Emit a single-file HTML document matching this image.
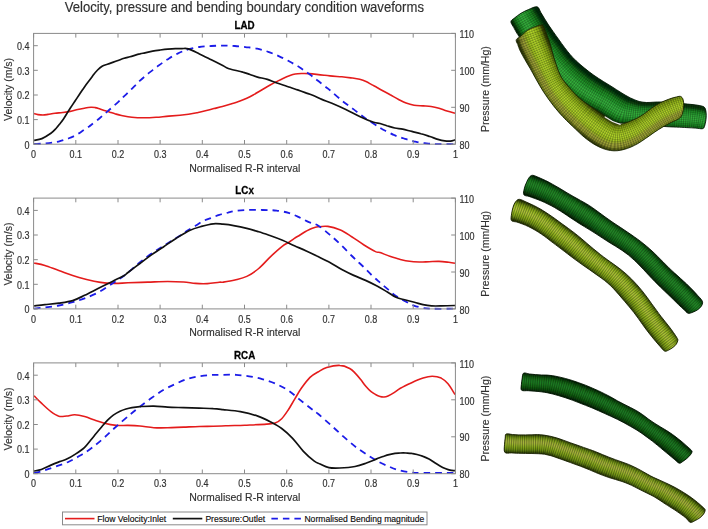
<!DOCTYPE html>
<html><head><meta charset="utf-8"><style>
html,body{margin:0;padding:0;background:#fff;width:708px;height:529px;overflow:hidden}
svg{display:block;filter:blur(0.4px)}
text{font-family:"Liberation Sans",sans-serif;fill:#303030;stroke:#303030;stroke-width:0.15px}
.tk{font-size:9.0px}
.xl{font-size:10.5px}
.st{font-size:9.8px;font-weight:bold;fill:#000;stroke:#000;stroke-width:0.25px}
.ti{font-size:13.1px}
.lg{font-size:8.6px;fill:#000}
</style></head><body>
<svg width="708" height="529" viewBox="0 0 708 529">
<defs><clipPath id="clip0"><rect x="32.6" y="32.4" width="423.8" height="112.8"/></clipPath><clipPath id="clip1"><rect x="32.6" y="197.1" width="423.8" height="112.8"/></clipPath><clipPath id="clip2"><rect x="32.6" y="361.9" width="423.8" height="112.8"/></clipPath></defs>
<text transform="translate(244.30,11.50) scale(1,1.050)" text-anchor="middle" class="ti">Velocity, pressure and bending boundary condition waveforms</text>
<g clip-path="url(#clip0)">
<path d="M34.1,113.6 C34.8,113.8 36.5,114.4 38.0,114.6 C39.5,114.8 41.2,115.0 42.9,115.0 C44.6,115.0 46.0,114.7 48.0,114.4 C50.0,114.1 52.6,113.6 55.0,113.3 C57.4,113.0 60.1,112.8 62.6,112.5 C65.1,112.2 67.7,111.9 70.2,111.4 C72.7,110.9 75.2,110.1 77.7,109.5 C80.2,108.9 83.1,108.4 85.3,108.0 C87.5,107.6 89.4,107.4 91.0,107.3 C92.6,107.2 93.8,107.4 95.1,107.6 C96.3,107.8 97.0,108.0 98.5,108.5 C100.0,109.0 102.3,109.9 104.2,110.5 C106.1,111.1 108.0,111.6 109.9,112.2 C111.8,112.8 113.6,113.4 115.5,113.9 C117.4,114.5 118.8,115.0 121.5,115.5 C124.2,116.0 128.2,116.8 131.9,117.2 C135.6,117.6 139.4,117.8 143.4,117.8 C147.4,117.8 151.9,117.6 156.1,117.3 C160.3,117.0 164.8,116.4 168.8,116.1 C172.8,115.8 176.7,115.5 180.0,115.2 C183.3,114.9 185.7,114.6 188.5,114.2 C191.3,113.8 194.1,113.3 196.9,112.7 C199.7,112.1 202.6,111.5 205.4,110.8 C208.2,110.1 211.1,109.3 213.9,108.6 C216.7,107.9 219.6,107.3 222.4,106.5 C225.2,105.7 227.9,104.9 230.8,104.0 C233.7,103.1 237.3,102.0 240.0,101.0 C242.7,100.0 244.7,99.2 246.8,98.2 C248.9,97.2 250.7,96.3 252.7,95.2 C254.7,94.1 256.7,93.0 258.7,91.8 C260.7,90.6 262.6,89.4 264.6,88.2 C266.6,87.0 268.6,85.9 270.6,84.8 C272.6,83.7 274.6,82.6 276.6,81.6 C278.6,80.6 280.3,79.7 282.5,78.7 C284.7,77.7 287.9,76.3 290.0,75.5 C292.1,74.7 293.4,74.3 295.3,74.0 C297.2,73.7 299.1,73.6 301.4,73.5 C303.7,73.4 306.4,73.4 308.9,73.6 C311.4,73.8 314.0,74.1 316.5,74.4 C319.0,74.7 321.9,75.0 324.1,75.2 C326.4,75.5 327.1,75.6 330.0,75.9 C332.9,76.2 338.1,76.5 341.8,76.8 C345.5,77.1 349.0,77.6 352.0,78.0 C355.0,78.4 357.4,78.7 359.7,79.3 C362.0,79.9 364.0,80.6 366.0,81.5 C368.0,82.4 369.8,83.6 371.6,84.6 C373.4,85.6 375.2,86.5 377.0,87.5 C378.8,88.5 380.1,89.3 382.3,90.5 C384.5,91.7 387.6,93.3 390.2,94.8 C392.8,96.2 395.5,97.8 398.2,99.2 C400.9,100.6 403.5,102.1 406.1,103.1 C408.8,104.1 411.3,104.8 414.1,105.3 C416.9,105.8 420.3,105.7 423.1,105.9 C425.9,106.1 428.5,106.1 431.1,106.5 C433.8,106.9 436.4,107.5 439.0,108.2 C441.6,109.0 444.3,110.2 447.0,111.0 C449.7,111.8 453.7,112.9 455.0,113.3" fill="none" stroke="#e41c1c" stroke-width="1.6" stroke-linejoin="round"/>
<path d="M34.1,144.0 C35.9,143.9 41.9,143.8 45.0,143.5 C48.1,143.2 50.5,142.9 53.0,142.5 C55.5,142.1 57.5,141.8 60.0,141.1 C62.5,140.4 65.7,139.3 67.9,138.6 C70.1,137.8 71.3,137.4 73.0,136.6 C74.7,135.8 76.5,134.7 78.2,133.7 C79.9,132.7 81.3,131.7 83.0,130.6 C84.7,129.5 87.1,127.8 88.4,126.9 C89.8,126.0 89.2,126.5 91.1,125.0 C93.0,123.5 96.8,120.6 99.6,118.2 C102.4,115.8 105.3,113.3 108.2,110.8 C111.1,108.3 114.2,105.6 116.7,103.4 C119.2,101.2 121.2,99.1 122.9,97.4 C124.7,95.7 125.8,94.7 127.2,93.3 C128.6,91.9 129.8,90.6 131.2,89.3 C132.6,88.0 134.0,86.6 135.4,85.3 C136.8,84.0 138.0,82.5 139.4,81.2 C140.8,79.9 142.4,78.5 143.9,77.2 C145.4,75.9 146.9,74.6 148.4,73.4 C149.9,72.2 151.5,71.1 153.0,69.9 C154.5,68.7 155.9,67.6 157.5,66.4 C159.1,65.2 160.8,63.9 162.4,62.8 C164.0,61.6 165.7,60.5 167.3,59.5 C168.9,58.5 170.2,57.6 171.9,56.6 C173.6,55.6 175.8,54.5 177.6,53.6 C179.4,52.7 180.8,52.1 182.5,51.4 C184.2,50.7 184.7,50.3 187.5,49.6 C190.3,48.9 195.4,47.6 199.4,47.0 C203.4,46.4 207.4,46.2 211.3,46.0 C215.2,45.8 219.1,45.6 223.0,45.6 C226.9,45.6 230.9,45.7 234.9,46.0 C238.9,46.3 244.3,47.0 246.8,47.3 C249.3,47.5 248.3,47.3 250.0,47.5 C251.7,47.7 255.0,48.2 257.2,48.7 C259.3,49.2 261.1,49.7 262.9,50.2 C264.7,50.7 266.4,51.2 268.2,51.8 C270.0,52.4 272.1,53.2 273.9,54.0 C275.7,54.8 277.4,55.5 279.2,56.3 C281.0,57.1 282.7,57.9 284.5,58.8 C286.3,59.7 288.3,60.9 290.0,61.8 C291.7,62.7 292.9,63.4 294.5,64.3 C296.1,65.2 297.9,66.2 299.5,67.3 C301.1,68.3 302.8,69.5 304.4,70.6 C306.0,71.7 307.3,72.6 308.9,73.8 C310.5,75.0 312.4,76.4 313.9,77.6 C315.4,78.8 316.5,79.6 318.0,80.8 C319.5,82.0 321.5,83.5 323.0,84.7 C324.5,85.9 325.9,87.1 327.1,88.0 C328.3,88.9 327.6,88.2 330.0,90.3 C332.4,92.4 337.9,97.3 341.8,100.5 C345.8,103.7 349.7,106.4 353.7,109.4 C357.7,112.4 361.6,115.6 365.6,118.4 C369.6,121.2 374.7,124.5 377.5,126.3 C380.3,128.1 380.6,128.2 382.3,129.2 C384.1,130.1 386.1,131.1 388.0,132.0 C389.9,132.9 391.7,134.0 393.6,134.8 C395.5,135.7 397.4,136.4 399.3,137.1 C401.2,137.8 403.1,138.2 405.0,138.8 C406.9,139.4 408.9,140.0 410.6,140.5 C412.3,141.0 413.5,141.2 415.2,141.6 C416.9,142.0 419.0,142.5 420.9,142.8 C422.8,143.1 424.6,143.2 426.5,143.4 C428.4,143.6 430.3,143.8 432.2,143.9 C434.1,144.0 434.1,144.1 437.9,144.1 C441.7,144.1 452.1,144.1 455.0,144.1" fill="none" stroke="#1c1ce8" stroke-width="1.8" stroke-dasharray="6.5,5"/>
<path d="M34.1,140.4 C35.4,140.1 39.1,139.8 41.9,138.6 C44.7,137.4 48.5,135.0 50.9,133.3 C53.2,131.6 54.4,130.2 56.0,128.5 C57.6,126.8 59.2,124.6 60.5,123.0 C61.8,121.4 62.6,120.3 63.5,119.0 C64.4,117.7 64.9,116.8 66.0,115.0 C67.1,113.2 68.8,110.5 70.2,108.3 C71.7,106.0 73.2,103.8 74.7,101.5 C76.2,99.2 77.7,97.0 79.2,94.7 C80.7,92.4 82.3,90.1 83.8,87.9 C85.3,85.8 86.6,84.0 88.3,81.8 C90.0,79.6 92.2,76.6 93.7,74.6 C95.2,72.6 96.2,71.4 97.6,70.0 C99.0,68.6 100.5,67.2 102.1,66.2 C103.7,65.2 105.6,64.9 107.4,64.3 C109.2,63.7 110.8,63.1 112.7,62.4 C114.6,61.7 116.9,60.9 118.8,60.2 C120.7,59.5 122.2,58.9 124.1,58.3 C126.0,57.7 127.4,57.4 130.0,56.7 C132.6,56.0 137.4,54.5 139.9,53.9 C142.4,53.2 142.9,53.3 145.0,52.8 C147.1,52.3 150.1,51.6 152.6,51.1 C155.1,50.6 157.7,50.3 160.2,50.0 C162.7,49.7 165.2,49.4 167.7,49.2 C170.2,49.0 172.9,48.8 175.3,48.7 C177.7,48.6 179.8,48.6 182.0,48.6 C184.2,48.6 185.4,48.0 188.3,48.9 C191.2,49.8 195.6,52.1 199.4,53.9 C203.2,55.7 207.3,57.8 211.3,59.8 C215.3,61.8 220.2,64.3 223.2,65.8 C226.1,67.3 225.7,67.8 229.0,68.8 C232.3,69.8 239.3,71.1 242.8,72.1 C246.3,73.0 247.5,73.7 250.0,74.5 C252.5,75.3 254.7,76.3 257.6,77.1 C260.5,77.9 264.2,78.4 267.4,79.4 C270.6,80.4 273.2,81.7 277.0,83.0 C280.8,84.3 286.6,86.1 290.0,87.3 C293.4,88.5 295.1,89.0 297.6,89.9 C300.1,90.8 302.7,91.7 305.2,92.6 C307.7,93.5 309.9,94.1 312.7,95.2 C315.5,96.3 318.6,98.1 321.8,99.4 C325.0,100.7 327.9,101.5 331.9,103.2 C335.9,104.9 341.2,107.2 345.8,109.4 C350.4,111.6 355.1,114.2 359.7,116.4 C364.3,118.6 370.2,121.1 373.6,122.3 C377.0,123.5 377.8,122.9 380.0,123.5 C382.2,124.1 384.3,125.0 386.8,125.8 C389.3,126.5 392.2,127.4 394.8,128.0 C397.4,128.6 399.9,128.6 402.7,129.2 C405.5,129.8 408.8,130.7 411.8,131.4 C414.8,132.2 417.9,132.8 420.9,133.7 C423.9,134.5 427.1,135.6 429.9,136.5 C432.7,137.4 435.4,138.7 437.9,139.4 C440.4,140.1 442.6,140.6 444.7,140.9 C446.8,141.2 448.7,141.3 450.4,141.1 C452.1,140.9 454.2,140.1 455.0,139.9" fill="none" stroke="#111" stroke-width="1.7" stroke-linejoin="round"/>
</g>
<rect x="33.6" y="33.4" width="421.8" height="110.8" fill="none" stroke="#8a8a8a" stroke-width="1"/>
<line x1="33.6" y1="144.2" x2="33.6" y2="140.0" stroke="#8a8a8a"/>
<line x1="33.6" y1="33.4" x2="33.6" y2="37.6" stroke="#8a8a8a"/>
<text transform="translate(33.60,157.95) scale(1,1.180)" text-anchor="middle" class="tk">0</text>
<line x1="75.8" y1="144.2" x2="75.8" y2="140.0" stroke="#8a8a8a"/>
<line x1="75.8" y1="33.4" x2="75.8" y2="37.6" stroke="#8a8a8a"/>
<text transform="translate(75.78,157.95) scale(1,1.180)" text-anchor="middle" class="tk">0.1</text>
<line x1="118.0" y1="144.2" x2="118.0" y2="140.0" stroke="#8a8a8a"/>
<line x1="118.0" y1="33.4" x2="118.0" y2="37.6" stroke="#8a8a8a"/>
<text transform="translate(117.96,157.95) scale(1,1.180)" text-anchor="middle" class="tk">0.2</text>
<line x1="160.1" y1="144.2" x2="160.1" y2="140.0" stroke="#8a8a8a"/>
<line x1="160.1" y1="33.4" x2="160.1" y2="37.6" stroke="#8a8a8a"/>
<text transform="translate(160.14,157.95) scale(1,1.180)" text-anchor="middle" class="tk">0.3</text>
<line x1="202.3" y1="144.2" x2="202.3" y2="140.0" stroke="#8a8a8a"/>
<line x1="202.3" y1="33.4" x2="202.3" y2="37.6" stroke="#8a8a8a"/>
<text transform="translate(202.32,157.95) scale(1,1.180)" text-anchor="middle" class="tk">0.4</text>
<line x1="244.5" y1="144.2" x2="244.5" y2="140.0" stroke="#8a8a8a"/>
<line x1="244.5" y1="33.4" x2="244.5" y2="37.6" stroke="#8a8a8a"/>
<text transform="translate(244.50,157.95) scale(1,1.180)" text-anchor="middle" class="tk">0.5</text>
<line x1="286.7" y1="144.2" x2="286.7" y2="140.0" stroke="#8a8a8a"/>
<line x1="286.7" y1="33.4" x2="286.7" y2="37.6" stroke="#8a8a8a"/>
<text transform="translate(286.68,157.95) scale(1,1.180)" text-anchor="middle" class="tk">0.6</text>
<line x1="328.9" y1="144.2" x2="328.9" y2="140.0" stroke="#8a8a8a"/>
<line x1="328.9" y1="33.4" x2="328.9" y2="37.6" stroke="#8a8a8a"/>
<text transform="translate(328.86,157.95) scale(1,1.180)" text-anchor="middle" class="tk">0.7</text>
<line x1="371.0" y1="144.2" x2="371.0" y2="140.0" stroke="#8a8a8a"/>
<line x1="371.0" y1="33.4" x2="371.0" y2="37.6" stroke="#8a8a8a"/>
<text transform="translate(371.04,157.95) scale(1,1.180)" text-anchor="middle" class="tk">0.8</text>
<line x1="413.2" y1="144.2" x2="413.2" y2="140.0" stroke="#8a8a8a"/>
<line x1="413.2" y1="33.4" x2="413.2" y2="37.6" stroke="#8a8a8a"/>
<text transform="translate(413.22,157.95) scale(1,1.180)" text-anchor="middle" class="tk">0.9</text>
<line x1="455.4" y1="144.2" x2="455.4" y2="140.0" stroke="#8a8a8a"/>
<line x1="455.4" y1="33.4" x2="455.4" y2="37.6" stroke="#8a8a8a"/>
<text transform="translate(455.40,157.95) scale(1,1.180)" text-anchor="middle" class="tk">1</text>
<line x1="33.6" y1="144.2" x2="37.8" y2="144.2" stroke="#8a8a8a"/>
<text transform="translate(29.60,148.50) scale(1,1.180)" text-anchor="end" class="tk">0</text>
<line x1="33.6" y1="119.6" x2="37.8" y2="119.6" stroke="#8a8a8a"/>
<text transform="translate(29.60,123.88) scale(1,1.180)" text-anchor="end" class="tk">0.1</text>
<line x1="33.6" y1="95.0" x2="37.8" y2="95.0" stroke="#8a8a8a"/>
<text transform="translate(29.60,99.26) scale(1,1.180)" text-anchor="end" class="tk">0.2</text>
<line x1="33.6" y1="70.3" x2="37.8" y2="70.3" stroke="#8a8a8a"/>
<text transform="translate(29.60,74.63) scale(1,1.180)" text-anchor="end" class="tk">0.3</text>
<line x1="33.6" y1="45.7" x2="37.8" y2="45.7" stroke="#8a8a8a"/>
<text transform="translate(29.60,50.01) scale(1,1.180)" text-anchor="end" class="tk">0.4</text>
<line x1="455.4" y1="144.2" x2="451.2" y2="144.2" stroke="#8a8a8a"/>
<text transform="translate(459.60,148.90) scale(1,1.180)" class="tk">80</text>
<line x1="455.4" y1="107.3" x2="451.2" y2="107.3" stroke="#8a8a8a"/>
<text transform="translate(459.60,111.97) scale(1,1.180)" class="tk">90</text>
<line x1="455.4" y1="70.3" x2="451.2" y2="70.3" stroke="#8a8a8a"/>
<text transform="translate(459.60,75.03) scale(1,1.180)" class="tk">100</text>
<line x1="455.4" y1="33.4" x2="451.2" y2="33.4" stroke="#8a8a8a"/>
<text transform="translate(459.60,38.10) scale(1,1.180)" class="tk">110</text>
<text transform="translate(244.80,171.70) scale(1,1.030)" text-anchor="middle" class="xl">Normalised R-R interval</text>
<text transform="translate(11.80,89.40) rotate(-90)" text-anchor="middle" class="xl">Velocity (m/s)</text>
<text transform="translate(489.00,89.10) rotate(-90)" text-anchor="middle" class="xl">Pressure (mm/Hg)</text>
<text transform="translate(244.60,29.10) scale(1,1.100)" text-anchor="middle" class="st">LAD</text>
<g clip-path="url(#clip1)">
<path d="M34.1,263.0 C35.9,263.4 40.8,264.2 44.9,265.5 C49.0,266.8 54.2,268.9 58.8,270.5 C63.4,272.1 68.1,273.9 72.7,275.4 C77.3,276.9 82.0,278.2 86.6,279.4 C91.2,280.6 95.9,281.7 100.5,282.4 C105.1,283.1 109.7,283.3 114.3,283.4 C118.9,283.5 122.4,283.0 128.0,282.8 C133.6,282.6 141.2,282.3 147.8,282.1 C154.4,281.9 161.7,281.5 167.7,281.5 C173.7,281.5 179.0,281.7 183.6,282.0 C188.2,282.3 191.5,283.1 195.5,283.4 C199.5,283.7 203.4,283.8 207.4,283.6 C211.4,283.4 216.7,282.4 219.3,282.2 C221.9,282.0 220.4,282.6 223.0,282.2 C225.6,281.8 230.9,281.0 234.9,280.0 C238.9,279.0 242.8,278.3 246.8,276.4 C250.8,274.5 254.7,271.8 258.7,268.5 C262.7,265.2 266.6,260.3 270.6,256.6 C274.6,252.9 279.6,248.5 282.5,246.2 C285.4,243.9 286.0,244.1 288.0,242.8 C290.0,241.5 292.4,239.6 294.4,238.3 C296.4,237.0 298.1,236.2 300.0,235.0 C301.9,233.8 303.9,232.3 306.0,231.2 C308.1,230.1 310.3,228.9 312.3,228.2 C314.3,227.5 315.4,227.1 318.0,226.8 C320.6,226.5 324.3,225.9 327.9,226.4 C331.5,226.9 335.8,228.1 339.8,229.8 C343.8,231.5 347.7,234.2 351.7,236.7 C355.7,239.2 359.6,242.2 363.6,244.7 C367.6,247.2 372.8,250.3 375.5,251.6 C378.2,252.9 377.6,251.7 380.0,252.5 C382.4,253.3 386.5,255.2 389.8,256.3 C393.1,257.4 396.4,258.5 399.7,259.3 C403.0,260.1 406.2,260.9 409.5,261.3 C412.8,261.8 416.0,261.9 419.3,262.0 C422.6,262.1 425.8,261.8 429.1,261.7 C432.4,261.6 435.7,261.3 439.0,261.4 C442.3,261.5 446.1,262.0 448.8,262.3 C451.5,262.6 454.0,263.1 455.0,263.3" fill="none" stroke="#e41c1c" stroke-width="1.6" stroke-linejoin="round"/>
<path d="M34.1,308.7 C35.9,308.5 40.8,307.9 44.9,307.4 C49.0,306.9 54.2,306.4 58.8,305.5 C63.4,304.6 68.4,303.4 72.7,302.2 C77.0,301.0 80.3,299.9 84.6,298.3 C88.9,296.7 93.9,294.8 98.5,292.3 C103.1,289.8 108.1,286.2 112.4,283.4 C116.7,280.6 120.0,278.7 124.3,275.5 C128.6,272.3 134.0,267.2 137.9,264.0 C141.8,260.8 144.5,258.6 147.8,256.2 C151.1,253.8 154.8,251.5 157.8,249.6 C160.8,247.7 163.1,246.3 165.7,244.7 C168.3,243.0 170.9,241.3 173.6,239.7 C176.2,238.0 179.3,236.3 181.6,234.8 C183.9,233.3 185.2,232.0 187.5,230.5 C189.8,229.0 192.8,227.4 195.5,225.8 C198.2,224.2 200.8,222.2 203.4,220.9 C206.0,219.6 208.7,218.9 211.3,217.9 C214.0,216.9 216.5,215.8 219.3,214.9 C222.1,214.0 225.4,213.2 228.0,212.6 C230.6,211.9 231.8,211.4 234.9,211.0 C238.0,210.6 242.2,210.2 246.8,210.0 C251.4,209.8 257.7,209.9 262.7,210.0 C267.7,210.1 272.3,210.1 276.6,210.6 C280.9,211.1 284.9,211.8 288.5,212.9 C292.1,214.0 295.1,215.4 298.4,216.9 C301.7,218.4 305.0,220.5 308.3,221.9 C311.6,223.3 314.4,223.3 318.0,225.5 C321.6,227.7 325.9,231.4 329.9,234.8 C333.9,238.2 337.8,241.8 341.8,245.7 C345.8,249.6 350.4,254.5 354.0,258.0 C357.6,261.5 360.1,263.6 363.1,266.5 C366.1,269.4 369.4,272.9 372.2,275.6 C375.0,278.3 377.5,280.4 380.0,282.6 C382.5,284.8 384.7,286.6 387.4,288.9 C390.1,291.1 393.1,294.1 396.0,296.1 C398.9,298.1 401.7,299.5 404.6,301.0 C407.5,302.5 410.3,304.2 413.2,305.3 C416.1,306.4 418.7,307.1 421.8,307.7 C424.9,308.3 426.1,308.5 431.6,308.7 C437.1,308.9 451.1,308.7 455.0,308.7" fill="none" stroke="#1c1ce8" stroke-width="1.8" stroke-dasharray="6.5,5"/>
<path d="M34.1,305.8 C35.9,305.6 40.8,305.0 44.9,304.6 C49.0,304.2 54.2,303.9 58.8,303.2 C63.4,302.5 68.4,301.9 72.7,300.6 C77.0,299.3 80.3,297.4 84.6,295.3 C88.9,293.2 93.9,290.6 98.5,288.3 C103.1,286.0 108.1,283.5 112.4,281.4 C116.7,279.2 121.7,276.9 124.3,275.4 C126.9,273.9 125.4,274.5 128.0,272.5 C130.6,270.5 135.9,266.5 139.9,263.5 C143.9,260.5 147.8,257.4 151.8,254.6 C155.8,251.8 159.7,249.3 163.7,246.7 C167.7,244.0 171.3,241.4 175.6,238.7 C179.9,236.0 185.2,232.4 189.5,230.4 C193.8,228.4 197.4,227.5 201.4,226.4 C205.4,225.3 209.7,224.2 213.3,223.8 C216.9,223.4 219.4,223.9 223.0,224.2 C226.6,224.5 230.9,225.1 234.9,225.8 C238.9,226.5 242.8,227.4 246.8,228.4 C250.8,229.4 254.7,230.6 258.7,231.8 C262.7,233.0 266.6,234.4 270.6,235.8 C274.6,237.2 278.5,238.7 282.5,240.3 C286.5,242.0 290.4,243.9 294.4,245.7 C298.4,247.5 302.4,249.2 306.3,251.0 C310.2,252.8 314.1,254.7 318.0,256.6 C321.9,258.5 325.9,260.4 329.9,262.5 C333.9,264.6 337.8,267.4 341.8,269.5 C345.8,271.6 349.7,273.6 353.7,275.4 C357.7,277.2 361.6,278.6 365.6,280.4 C369.6,282.2 373.9,284.4 377.5,286.3 C381.1,288.2 384.3,290.2 387.4,292.0 C390.5,293.8 393.1,296.0 396.0,297.3 C398.9,298.6 401.5,299.0 404.6,299.8 C407.7,300.6 411.3,301.4 414.4,302.2 C417.5,303.0 420.1,304.1 423.0,304.7 C425.9,305.3 428.5,305.7 431.6,305.9 C434.7,306.1 437.5,306.0 441.4,305.9 C445.3,305.8 452.7,305.6 455.0,305.5" fill="none" stroke="#111" stroke-width="1.7" stroke-linejoin="round"/>
</g>
<rect x="33.6" y="198.1" width="421.8" height="110.8" fill="none" stroke="#8a8a8a" stroke-width="1"/>
<line x1="33.6" y1="308.9" x2="33.6" y2="304.7" stroke="#8a8a8a"/>
<line x1="33.6" y1="198.1" x2="33.6" y2="202.3" stroke="#8a8a8a"/>
<text transform="translate(33.60,322.65) scale(1,1.180)" text-anchor="middle" class="tk">0</text>
<line x1="75.8" y1="308.9" x2="75.8" y2="304.7" stroke="#8a8a8a"/>
<line x1="75.8" y1="198.1" x2="75.8" y2="202.3" stroke="#8a8a8a"/>
<text transform="translate(75.78,322.65) scale(1,1.180)" text-anchor="middle" class="tk">0.1</text>
<line x1="118.0" y1="308.9" x2="118.0" y2="304.7" stroke="#8a8a8a"/>
<line x1="118.0" y1="198.1" x2="118.0" y2="202.3" stroke="#8a8a8a"/>
<text transform="translate(117.96,322.65) scale(1,1.180)" text-anchor="middle" class="tk">0.2</text>
<line x1="160.1" y1="308.9" x2="160.1" y2="304.7" stroke="#8a8a8a"/>
<line x1="160.1" y1="198.1" x2="160.1" y2="202.3" stroke="#8a8a8a"/>
<text transform="translate(160.14,322.65) scale(1,1.180)" text-anchor="middle" class="tk">0.3</text>
<line x1="202.3" y1="308.9" x2="202.3" y2="304.7" stroke="#8a8a8a"/>
<line x1="202.3" y1="198.1" x2="202.3" y2="202.3" stroke="#8a8a8a"/>
<text transform="translate(202.32,322.65) scale(1,1.180)" text-anchor="middle" class="tk">0.4</text>
<line x1="244.5" y1="308.9" x2="244.5" y2="304.7" stroke="#8a8a8a"/>
<line x1="244.5" y1="198.1" x2="244.5" y2="202.3" stroke="#8a8a8a"/>
<text transform="translate(244.50,322.65) scale(1,1.180)" text-anchor="middle" class="tk">0.5</text>
<line x1="286.7" y1="308.9" x2="286.7" y2="304.7" stroke="#8a8a8a"/>
<line x1="286.7" y1="198.1" x2="286.7" y2="202.3" stroke="#8a8a8a"/>
<text transform="translate(286.68,322.65) scale(1,1.180)" text-anchor="middle" class="tk">0.6</text>
<line x1="328.9" y1="308.9" x2="328.9" y2="304.7" stroke="#8a8a8a"/>
<line x1="328.9" y1="198.1" x2="328.9" y2="202.3" stroke="#8a8a8a"/>
<text transform="translate(328.86,322.65) scale(1,1.180)" text-anchor="middle" class="tk">0.7</text>
<line x1="371.0" y1="308.9" x2="371.0" y2="304.7" stroke="#8a8a8a"/>
<line x1="371.0" y1="198.1" x2="371.0" y2="202.3" stroke="#8a8a8a"/>
<text transform="translate(371.04,322.65) scale(1,1.180)" text-anchor="middle" class="tk">0.8</text>
<line x1="413.2" y1="308.9" x2="413.2" y2="304.7" stroke="#8a8a8a"/>
<line x1="413.2" y1="198.1" x2="413.2" y2="202.3" stroke="#8a8a8a"/>
<text transform="translate(413.22,322.65) scale(1,1.180)" text-anchor="middle" class="tk">0.9</text>
<line x1="455.4" y1="308.9" x2="455.4" y2="304.7" stroke="#8a8a8a"/>
<line x1="455.4" y1="198.1" x2="455.4" y2="202.3" stroke="#8a8a8a"/>
<text transform="translate(455.40,322.65) scale(1,1.180)" text-anchor="middle" class="tk">1</text>
<line x1="33.6" y1="308.9" x2="37.8" y2="308.9" stroke="#8a8a8a"/>
<text transform="translate(29.60,313.20) scale(1,1.180)" text-anchor="end" class="tk">0</text>
<line x1="33.6" y1="284.3" x2="37.8" y2="284.3" stroke="#8a8a8a"/>
<text transform="translate(29.60,288.58) scale(1,1.180)" text-anchor="end" class="tk">0.1</text>
<line x1="33.6" y1="259.7" x2="37.8" y2="259.7" stroke="#8a8a8a"/>
<text transform="translate(29.60,263.96) scale(1,1.180)" text-anchor="end" class="tk">0.2</text>
<line x1="33.6" y1="235.0" x2="37.8" y2="235.0" stroke="#8a8a8a"/>
<text transform="translate(29.60,239.33) scale(1,1.180)" text-anchor="end" class="tk">0.3</text>
<line x1="33.6" y1="210.4" x2="37.8" y2="210.4" stroke="#8a8a8a"/>
<text transform="translate(29.60,214.71) scale(1,1.180)" text-anchor="end" class="tk">0.4</text>
<line x1="455.4" y1="308.9" x2="451.2" y2="308.9" stroke="#8a8a8a"/>
<text transform="translate(459.60,313.60) scale(1,1.180)" class="tk">80</text>
<line x1="455.4" y1="272.0" x2="451.2" y2="272.0" stroke="#8a8a8a"/>
<text transform="translate(459.60,276.67) scale(1,1.180)" class="tk">90</text>
<line x1="455.4" y1="235.0" x2="451.2" y2="235.0" stroke="#8a8a8a"/>
<text transform="translate(459.60,239.73) scale(1,1.180)" class="tk">100</text>
<line x1="455.4" y1="198.1" x2="451.2" y2="198.1" stroke="#8a8a8a"/>
<text transform="translate(459.60,202.80) scale(1,1.180)" class="tk">110</text>
<text transform="translate(244.80,336.40) scale(1,1.030)" text-anchor="middle" class="xl">Normalised R-R interval</text>
<text transform="translate(11.80,254.10) rotate(-90)" text-anchor="middle" class="xl">Velocity (m/s)</text>
<text transform="translate(489.00,253.80) rotate(-90)" text-anchor="middle" class="xl">Pressure (mm/Hg)</text>
<text transform="translate(244.60,193.80) scale(1,1.100)" text-anchor="middle" class="st">LCx</text>
<g clip-path="url(#clip2)">
<path d="M34.1,395.8 C35.2,396.9 38.1,400.1 40.9,402.7 C43.7,405.3 47.9,409.4 50.9,411.7 C53.9,413.9 56.2,415.5 58.8,416.2 C61.4,416.9 64.0,416.2 66.7,416.0 C69.4,415.8 71.7,414.7 74.7,414.8 C77.7,414.9 81.3,415.7 84.6,416.6 C87.9,417.5 91.2,418.9 94.5,420.0 C97.8,421.1 100.8,422.3 104.4,423.2 C108.0,424.1 112.4,425.0 116.3,425.4 C120.2,425.8 124.1,425.3 128.0,425.4 C131.9,425.5 135.6,425.6 139.9,426.0 C144.2,426.4 149.2,427.4 153.8,427.7 C158.4,428.0 162.7,427.9 167.7,427.8 C172.7,427.7 178.3,427.3 183.6,427.1 C188.9,426.9 194.4,426.6 199.4,426.5 C204.4,426.4 208.5,426.3 213.3,426.2 C218.1,426.1 222.8,425.9 228.0,425.7 C233.2,425.5 238.3,425.5 244.7,425.2 C251.1,424.9 261.4,424.5 266.5,424.1 C271.6,423.7 272.7,423.9 275.2,423.0 C277.7,422.1 279.5,420.9 281.7,418.7 C283.9,416.5 286.0,413.3 288.2,410.0 C290.4,406.7 292.5,402.7 294.7,399.1 C296.9,395.5 298.8,391.9 301.3,388.3 C303.9,384.7 307.2,380.1 310.0,377.4 C312.8,374.7 315.2,373.6 318.0,372.0 C320.8,370.4 323.1,368.7 326.7,367.6 C330.3,366.5 335.9,365.2 339.7,365.4 C343.5,365.5 347.0,367.1 349.7,368.5 C352.4,369.9 353.8,371.8 355.6,373.6 C357.4,375.4 359.0,377.4 360.7,379.5 C362.4,381.6 364.1,384.3 365.8,386.3 C367.5,388.3 369.1,390.0 370.8,391.4 C372.5,392.8 374.4,393.8 375.9,394.7 C377.4,395.6 378.6,396.1 380.0,396.5 C381.4,396.9 382.7,397.1 384.0,397.0 C385.3,396.9 386.3,396.7 388.0,396.0 C389.7,395.3 392.0,393.9 394.1,392.6 C396.2,391.3 397.5,390.0 400.4,388.3 C403.3,386.6 407.9,384.4 411.7,382.7 C415.5,381.0 419.7,379.2 423.1,378.1 C426.5,377.0 429.2,376.3 432.2,376.3 C435.2,376.3 438.6,376.9 441.2,378.1 C443.8,379.4 445.7,381.1 448.0,383.8 C450.3,386.5 453.8,392.7 455.0,394.5" fill="none" stroke="#e41c1c" stroke-width="1.6" stroke-linejoin="round"/>
<path d="M34.1,473.2 C35.9,472.7 41.1,471.4 44.9,470.2 C48.7,469.0 52.8,467.6 56.8,466.2 C60.8,464.8 64.7,463.5 68.7,461.7 C72.7,459.9 76.6,457.7 80.6,455.3 C84.6,452.9 88.5,450.4 92.5,447.4 C96.5,444.4 100.4,441.0 104.4,437.5 C108.4,434.0 112.0,430.3 116.3,426.5 C120.6,422.7 126.1,417.9 130.0,414.6 C133.9,411.3 136.3,409.5 139.9,406.7 C143.5,403.9 147.8,400.6 151.8,397.8 C155.8,395.0 159.7,392.1 163.7,389.8 C167.7,387.5 171.6,385.7 175.6,383.9 C179.6,382.1 183.5,380.2 187.5,378.9 C191.5,377.6 195.4,376.9 199.4,376.3 C203.4,375.7 207.4,375.2 211.3,375.0 C215.2,374.8 218.9,374.8 223.0,374.8 C227.1,374.8 231.7,374.6 236.0,374.8 C240.3,375.1 244.8,375.6 249.1,376.3 C253.4,377.0 257.8,377.9 262.1,379.1 C266.5,380.3 270.9,381.6 275.2,383.5 C279.5,385.4 284.2,387.8 288.2,390.4 C292.2,393.0 295.5,396.2 299.1,399.1 C302.7,402.0 306.9,405.4 310.0,407.8 C313.1,410.2 314.5,410.9 318.0,413.8 C321.5,416.7 326.6,421.3 331.0,425.2 C335.4,429.1 339.8,433.4 344.1,437.2 C348.5,441.0 352.8,444.8 357.1,448.0 C361.5,451.2 366.4,454.3 370.2,456.7 C374.0,459.1 376.9,460.9 380.0,462.5 C383.1,464.1 386.1,465.4 389.1,466.6 C392.1,467.9 394.7,469.1 398.1,470.0 C401.5,470.9 405.7,471.7 409.5,472.2 C413.3,472.7 413.2,472.8 420.8,472.9 C428.4,473.0 449.3,472.9 455.0,472.9" fill="none" stroke="#1c1ce8" stroke-width="1.8" stroke-dasharray="6.5,5"/>
<path d="M34.1,471.1 C35.3,470.8 38.6,470.4 41.3,469.5 C44.0,468.6 47.4,466.7 50.4,465.4 C53.4,464.1 56.9,462.6 59.5,461.6 C62.1,460.6 63.6,460.6 66.3,459.3 C69.0,458.1 72.4,456.1 75.4,454.1 C78.4,452.2 81.9,449.9 84.4,447.6 C86.9,445.3 88.6,442.7 90.6,440.3 C92.6,437.9 94.4,435.6 96.3,433.3 C98.2,431.0 100.1,428.7 102.0,426.5 C103.9,424.3 105.7,422.1 107.6,420.2 C109.5,418.3 111.2,416.6 113.3,415.1 C115.4,413.6 117.9,412.2 120.0,411.2 C122.1,410.2 124.0,409.6 126.0,409.0 C128.0,408.4 129.7,408.0 132.0,407.6 C134.3,407.2 136.3,406.9 139.9,406.6 C143.5,406.4 149.2,406.0 153.8,406.1 C158.4,406.2 162.7,406.8 167.7,407.1 C172.7,407.4 178.3,407.5 183.6,407.7 C188.9,407.9 194.4,407.9 199.4,408.1 C204.4,408.3 209.4,408.4 213.3,408.7 C217.2,408.9 218.5,409.1 223.0,409.6 C227.5,410.1 234.6,410.6 240.4,411.7 C246.2,412.8 252.7,414.4 257.8,416.1 C262.9,417.8 266.8,419.9 270.8,422.0 C274.8,424.1 278.1,425.8 281.7,428.5 C285.3,431.2 289.0,434.5 292.6,438.3 C296.2,442.1 299.8,447.5 303.4,451.3 C307.0,455.1 311.5,459.0 314.3,461.1 C317.1,463.2 317.6,462.9 320.0,464.0 C322.4,465.1 325.6,466.9 328.9,467.6 C332.2,468.3 335.3,468.2 339.7,468.0 C344.1,467.8 350.6,467.3 355.0,466.5 C359.4,465.7 362.2,464.6 365.8,463.3 C369.4,462.0 373.8,460.0 376.7,458.9 C379.6,457.8 380.9,457.2 383.0,456.5 C385.1,455.8 387.1,455.1 389.1,454.6 C391.1,454.1 393.1,453.6 395.0,453.3 C396.9,453.0 398.6,453.1 400.4,453.0 C402.2,452.9 404.1,452.9 406.0,453.0 C407.9,453.1 409.9,453.1 411.7,453.4 C413.5,453.6 415.1,454.0 417.0,454.5 C418.9,455.0 421.1,455.6 423.1,456.4 C425.1,457.1 427.1,458.0 429.0,459.0 C430.9,460.0 432.6,461.3 434.4,462.5 C436.2,463.7 438.1,464.9 440.0,466.0 C441.9,467.1 444.1,468.1 445.8,468.8 C447.5,469.5 448.5,469.9 450.0,470.2 C451.5,470.5 454.2,470.6 455.0,470.7" fill="none" stroke="#111" stroke-width="1.7" stroke-linejoin="round"/>
</g>
<rect x="33.6" y="362.9" width="421.8" height="110.8" fill="none" stroke="#8a8a8a" stroke-width="1"/>
<line x1="33.6" y1="473.7" x2="33.6" y2="469.5" stroke="#8a8a8a"/>
<line x1="33.6" y1="362.9" x2="33.6" y2="367.1" stroke="#8a8a8a"/>
<text transform="translate(33.60,487.45) scale(1,1.180)" text-anchor="middle" class="tk">0</text>
<line x1="75.8" y1="473.7" x2="75.8" y2="469.5" stroke="#8a8a8a"/>
<line x1="75.8" y1="362.9" x2="75.8" y2="367.1" stroke="#8a8a8a"/>
<text transform="translate(75.78,487.45) scale(1,1.180)" text-anchor="middle" class="tk">0.1</text>
<line x1="118.0" y1="473.7" x2="118.0" y2="469.5" stroke="#8a8a8a"/>
<line x1="118.0" y1="362.9" x2="118.0" y2="367.1" stroke="#8a8a8a"/>
<text transform="translate(117.96,487.45) scale(1,1.180)" text-anchor="middle" class="tk">0.2</text>
<line x1="160.1" y1="473.7" x2="160.1" y2="469.5" stroke="#8a8a8a"/>
<line x1="160.1" y1="362.9" x2="160.1" y2="367.1" stroke="#8a8a8a"/>
<text transform="translate(160.14,487.45) scale(1,1.180)" text-anchor="middle" class="tk">0.3</text>
<line x1="202.3" y1="473.7" x2="202.3" y2="469.5" stroke="#8a8a8a"/>
<line x1="202.3" y1="362.9" x2="202.3" y2="367.1" stroke="#8a8a8a"/>
<text transform="translate(202.32,487.45) scale(1,1.180)" text-anchor="middle" class="tk">0.4</text>
<line x1="244.5" y1="473.7" x2="244.5" y2="469.5" stroke="#8a8a8a"/>
<line x1="244.5" y1="362.9" x2="244.5" y2="367.1" stroke="#8a8a8a"/>
<text transform="translate(244.50,487.45) scale(1,1.180)" text-anchor="middle" class="tk">0.5</text>
<line x1="286.7" y1="473.7" x2="286.7" y2="469.5" stroke="#8a8a8a"/>
<line x1="286.7" y1="362.9" x2="286.7" y2="367.1" stroke="#8a8a8a"/>
<text transform="translate(286.68,487.45) scale(1,1.180)" text-anchor="middle" class="tk">0.6</text>
<line x1="328.9" y1="473.7" x2="328.9" y2="469.5" stroke="#8a8a8a"/>
<line x1="328.9" y1="362.9" x2="328.9" y2="367.1" stroke="#8a8a8a"/>
<text transform="translate(328.86,487.45) scale(1,1.180)" text-anchor="middle" class="tk">0.7</text>
<line x1="371.0" y1="473.7" x2="371.0" y2="469.5" stroke="#8a8a8a"/>
<line x1="371.0" y1="362.9" x2="371.0" y2="367.1" stroke="#8a8a8a"/>
<text transform="translate(371.04,487.45) scale(1,1.180)" text-anchor="middle" class="tk">0.8</text>
<line x1="413.2" y1="473.7" x2="413.2" y2="469.5" stroke="#8a8a8a"/>
<line x1="413.2" y1="362.9" x2="413.2" y2="367.1" stroke="#8a8a8a"/>
<text transform="translate(413.22,487.45) scale(1,1.180)" text-anchor="middle" class="tk">0.9</text>
<line x1="455.4" y1="473.7" x2="455.4" y2="469.5" stroke="#8a8a8a"/>
<line x1="455.4" y1="362.9" x2="455.4" y2="367.1" stroke="#8a8a8a"/>
<text transform="translate(455.40,487.45) scale(1,1.180)" text-anchor="middle" class="tk">1</text>
<line x1="33.6" y1="473.7" x2="37.8" y2="473.7" stroke="#8a8a8a"/>
<text transform="translate(29.60,478.00) scale(1,1.180)" text-anchor="end" class="tk">0</text>
<line x1="33.6" y1="449.1" x2="37.8" y2="449.1" stroke="#8a8a8a"/>
<text transform="translate(29.60,453.38) scale(1,1.180)" text-anchor="end" class="tk">0.1</text>
<line x1="33.6" y1="424.5" x2="37.8" y2="424.5" stroke="#8a8a8a"/>
<text transform="translate(29.60,428.76) scale(1,1.180)" text-anchor="end" class="tk">0.2</text>
<line x1="33.6" y1="399.8" x2="37.8" y2="399.8" stroke="#8a8a8a"/>
<text transform="translate(29.60,404.13) scale(1,1.180)" text-anchor="end" class="tk">0.3</text>
<line x1="33.6" y1="375.2" x2="37.8" y2="375.2" stroke="#8a8a8a"/>
<text transform="translate(29.60,379.51) scale(1,1.180)" text-anchor="end" class="tk">0.4</text>
<line x1="455.4" y1="473.7" x2="451.2" y2="473.7" stroke="#8a8a8a"/>
<text transform="translate(459.60,478.40) scale(1,1.180)" class="tk">80</text>
<line x1="455.4" y1="436.8" x2="451.2" y2="436.8" stroke="#8a8a8a"/>
<text transform="translate(459.60,441.47) scale(1,1.180)" class="tk">90</text>
<line x1="455.4" y1="399.8" x2="451.2" y2="399.8" stroke="#8a8a8a"/>
<text transform="translate(459.60,404.53) scale(1,1.180)" class="tk">100</text>
<line x1="455.4" y1="362.9" x2="451.2" y2="362.9" stroke="#8a8a8a"/>
<text transform="translate(459.60,367.60) scale(1,1.180)" class="tk">110</text>
<text transform="translate(244.80,501.20) scale(1,1.030)" text-anchor="middle" class="xl">Normalised R-R interval</text>
<text transform="translate(11.80,418.90) rotate(-90)" text-anchor="middle" class="xl">Velocity (m/s)</text>
<text transform="translate(489.00,418.60) rotate(-90)" text-anchor="middle" class="xl">Pressure (mm/Hg)</text>
<text transform="translate(244.60,358.60) scale(1,1.100)" text-anchor="middle" class="st">RCA</text>

<rect x="62.5" y="512" width="364.5" height="12.8" fill="#fff" stroke="#8a8a8a" stroke-width="1"/>
<line x1="65" y1="518.6" x2="94.5" y2="518.6" stroke="#e41c1c" stroke-width="1.6"/>
<text x="97.3" y="521.6" class="lg">Flow Velocity:Inlet</text>
<line x1="172.8" y1="518.6" x2="202.3" y2="518.6" stroke="#111" stroke-width="1.7"/>
<text x="205.4" y="521.6" class="lg">Pressure:Outlet</text>
<line x1="271.4" y1="518.6" x2="301.2" y2="518.6" stroke="#1c1ce8" stroke-width="1.8" stroke-dasharray="6.5,5"/>
<text x="304.4" y="521.6" class="lg">Normalised Bending magnitude</text>

<defs><filter id="blr" x="-20%" y="-20%" width="140%" height="140%"><feGaussianBlur stdDeviation="1.6"/></filter></defs><clipPath id="tc0"><path d="M537.1,6.8 C539.2,7.3 539.6,10.6 540.9,12.6 C542.2,14.6 543.4,16.8 544.7,18.9 C546.0,21.0 547.2,23.0 548.6,25.1 C550.0,27.2 551.4,29.1 553.0,31.4 C554.7,33.8 556.7,36.7 558.7,39.4 C560.6,42.1 562.8,45.2 564.7,47.7 C566.6,50.2 568.1,52.2 570.0,54.4 C571.9,56.6 573.7,58.5 576.1,60.8 C578.5,63.1 581.5,65.7 584.5,68.1 C587.4,70.5 590.8,73.1 593.9,75.3 C597.1,77.6 600.3,79.5 603.4,81.5 C606.4,83.4 609.3,85.1 612.2,86.9 C615.2,88.8 617.8,90.6 620.9,92.5 C623.9,94.3 627.2,96.4 630.3,97.9 C633.4,99.4 636.5,100.7 639.2,101.5 C641.9,102.2 644.1,102.3 646.5,102.5 C648.9,102.6 651.0,102.3 653.5,102.2 C656.0,102.1 658.3,101.9 661.3,102.0 C664.2,102.0 667.6,102.2 671.1,102.5 C674.6,102.8 678.9,103.3 682.4,103.6 C685.8,104.0 689.2,104.2 692.0,104.5 C694.8,104.8 697.2,105.1 699.2,105.5 C701.3,106.0 703.3,106.2 704.4,107.3 C705.5,108.4 705.7,110.0 706.0,112.0 C706.3,114.0 706.3,116.9 706.0,119.3 C705.7,121.7 705.0,125.0 704.4,126.6 C703.8,128.2 703.8,128.4 702.4,128.7 C701.0,129.0 698.5,128.3 695.9,128.1 C693.3,127.9 690.1,127.8 686.8,127.6 C683.6,127.4 680.5,127.3 676.4,127.1 C672.3,126.9 667.5,126.8 662.1,126.3 C656.7,125.9 649.1,125.1 643.8,124.5 C638.5,124.0 633.8,123.1 630.4,122.9 C627.0,122.6 625.5,123.0 623.3,123.0 C621.1,123.0 619.3,123.3 617.4,123.0 C615.4,122.7 613.6,121.9 611.7,121.0 C609.8,120.1 608.2,118.8 606.1,117.5 C604.0,116.2 602.0,114.7 599.1,113.1 C596.2,111.6 592.8,110.1 588.8,108.0 C584.7,106.0 579.8,103.9 575.0,100.6 C570.2,97.4 565.0,93.4 560.0,88.5 C555.0,83.6 549.8,77.4 545.0,71.5 C540.2,65.6 535.0,58.5 531.0,53.2 C527.1,48.0 523.8,43.3 521.4,40.0 C519.1,36.6 518.1,35.1 516.8,33.1 C515.6,31.0 514.8,29.5 513.8,27.6 C512.8,25.7 510.8,23.3 510.9,21.7 C511.0,20.1 512.8,19.4 514.5,18.0 C516.2,16.6 518.8,14.6 521.1,13.2 C523.5,11.8 525.9,10.6 528.6,9.5 C531.3,8.4 535.0,6.3 537.1,6.8Z"/></clipPath>
<g clip-path="url(#tc0)">
<path d="M537.1,6.8 C539.2,7.3 539.6,10.6 540.9,12.6 C542.2,14.6 543.4,16.8 544.7,18.9 C546.0,21.0 547.2,23.0 548.6,25.1 C550.0,27.2 551.4,29.1 553.0,31.4 C554.7,33.8 556.7,36.7 558.7,39.4 C560.6,42.1 562.8,45.2 564.7,47.7 C566.6,50.2 568.1,52.2 570.0,54.4 C571.9,56.6 573.7,58.5 576.1,60.8 C578.5,63.1 581.5,65.7 584.5,68.1 C587.4,70.5 590.8,73.1 593.9,75.3 C597.1,77.6 600.3,79.5 603.4,81.5 C606.4,83.4 609.3,85.1 612.2,86.9 C615.2,88.8 617.8,90.6 620.9,92.5 C623.9,94.3 627.2,96.4 630.3,97.9 C633.4,99.4 636.5,100.7 639.2,101.5 C641.9,102.2 644.1,102.3 646.5,102.5 C648.9,102.6 651.0,102.3 653.5,102.2 C656.0,102.1 658.3,101.9 661.3,102.0 C664.2,102.0 667.6,102.2 671.1,102.5 C674.6,102.8 678.9,103.3 682.4,103.6 C685.8,104.0 689.2,104.2 692.0,104.5 C694.8,104.8 697.2,105.1 699.2,105.5 C701.3,106.0 703.3,106.2 704.4,107.3 C705.5,108.4 705.7,110.0 706.0,112.0 C706.3,114.0 706.3,116.9 706.0,119.3 C705.7,121.7 705.0,125.0 704.4,126.6 C703.8,128.2 703.8,128.4 702.4,128.7 C701.0,129.0 698.5,128.3 695.9,128.1 C693.3,127.9 690.1,127.8 686.8,127.6 C683.6,127.4 680.5,127.3 676.4,127.1 C672.3,126.9 667.5,126.8 662.1,126.3 C656.7,125.9 649.1,125.1 643.8,124.5 C638.5,124.0 633.8,123.1 630.4,122.9 C627.0,122.6 625.5,123.0 623.3,123.0 C621.1,123.0 619.3,123.3 617.4,123.0 C615.4,122.7 613.6,121.9 611.7,121.0 C609.8,120.1 608.2,118.8 606.1,117.5 C604.0,116.2 602.0,114.7 599.1,113.1 C596.2,111.6 592.8,110.1 588.8,108.0 C584.7,106.0 579.8,103.9 575.0,100.6 C570.2,97.4 565.0,93.4 560.0,88.5 C555.0,83.6 549.8,77.4 545.0,71.5 C540.2,65.6 535.0,58.5 531.0,53.2 C527.1,48.0 523.8,43.3 521.4,40.0 C519.1,36.6 518.1,35.1 516.8,33.1 C515.6,31.0 514.8,29.5 513.8,27.6 C512.8,25.7 510.8,23.3 510.9,21.7 C511.0,20.1 512.8,19.4 514.5,18.0 C516.2,16.6 518.8,14.6 521.1,13.2 C523.5,11.8 525.9,10.6 528.6,9.5 C531.3,8.4 535.0,6.3 537.1,6.8Z" fill="#031a04"/>
<g filter="url(#blr)">
<path d="M519.0,5.6 C519.8,7.1 522.7,12.2 523.9,14.3 C525.1,16.5 525.4,17.1 526.2,18.4 C527.0,19.8 527.8,21.2 528.6,22.5 C529.4,23.9 530.2,25.2 531.0,26.6 C531.8,27.9 532.7,29.2 533.6,30.5 C534.4,31.8 535.3,33.1 536.2,34.4 C537.1,35.7 538.0,37.0 538.9,38.3 C539.9,39.6 540.8,40.8 541.7,42.1 C542.6,43.4 543.5,44.7 544.5,45.9 C545.4,47.2 546.3,48.5 547.3,49.7 C548.2,51.0 549.2,52.3 550.1,53.5 C551.0,54.8 552.0,56.1 552.9,57.3 C553.9,58.6 554.8,59.8 555.8,61.0 C556.8,62.3 557.8,63.5 558.8,64.7 C559.9,65.8 561.0,67.0 562.0,68.2 C563.1,69.3 564.1,70.5 565.2,71.6 C566.3,72.8 567.4,73.9 568.5,75.0 C569.6,76.1 570.8,77.2 572.0,78.2 C573.1,79.2 574.4,80.2 575.6,81.2 C576.8,82.2 578.1,83.1 579.3,84.1 C580.6,85.1 581.8,86.1 583.0,87.0 C584.3,88.0 585.6,88.8 587.0,89.6 C588.3,90.5 589.7,91.2 591.0,92.0 C592.4,92.8 593.7,93.6 595.1,94.4 C596.5,95.2 597.8,96.0 599.2,96.7 C600.6,97.5 602.0,98.2 603.4,99.0 C604.7,99.8 606.1,100.5 607.5,101.3 C608.8,102.1 610.1,103.0 611.4,103.8 C612.8,104.7 614.1,105.5 615.5,106.3 C616.8,107.1 618.2,108.0 619.5,108.7 C620.9,109.4 622.4,110.1 623.8,110.6 C625.3,111.0 626.9,111.1 628.4,111.4 C629.9,111.7 631.4,112.0 633.0,112.2 C634.5,112.4 636.1,112.5 637.7,112.6 C639.2,112.8 640.8,113.1 642.3,113.2 C643.9,113.3 645.5,113.3 647.0,113.4 C648.6,113.5 650.2,113.6 651.8,113.6 C653.3,113.7 654.9,113.7 656.5,113.8 C658.0,113.9 659.6,114.0 661.2,114.1 C662.7,114.2 664.3,114.4 665.9,114.5 C667.4,114.6 669.0,114.7 670.6,114.8 C672.2,114.9 673.7,115.1 675.3,115.2 C676.9,115.3 678.4,115.4 680.0,115.5 C681.6,115.6 683.1,115.7 684.7,115.8 C686.3,115.9 687.9,116.0 689.4,116.1 C691.0,116.3 692.6,116.4 694.1,116.6 C695.7,116.8 697.3,116.9 698.8,117.2 C700.3,117.4 701.0,117.6 703.4,118.1 C705.8,118.6 711.6,119.8 713.2,120.1" fill="none" stroke="#0a4a0c" stroke-width="27.0" stroke-linecap="butt"/>
<path d="M518.5,5.9 C519.3,7.3 522.2,12.5 523.4,14.6 C524.6,16.7 524.9,17.4 525.7,18.7 C526.5,20.1 527.2,21.5 528.0,22.8 C528.8,24.2 529.7,25.5 530.5,26.9 C531.3,28.2 532.2,29.5 533.1,30.9 C533.9,32.2 534.8,33.5 535.7,34.8 C536.6,36.1 537.6,37.3 538.5,38.6 C539.4,39.9 540.3,41.2 541.2,42.5 C542.2,43.7 543.1,45.0 544.0,46.3 C544.9,47.6 545.9,48.8 546.8,50.1 C547.8,51.4 548.7,52.6 549.7,53.9 C550.6,55.2 551.5,56.4 552.5,57.7 C553.4,59.0 554.4,60.2 555.4,61.4 C556.4,62.7 557.4,63.9 558.4,65.1 C559.5,66.3 560.5,67.4 561.6,68.6 C562.7,69.7 563.7,70.9 564.8,72.1 C565.9,73.2 567.0,74.3 568.1,75.4 C569.2,76.5 570.4,77.6 571.6,78.7 C572.7,79.7 574.0,80.7 575.2,81.7 C576.5,82.6 577.7,83.6 578.9,84.6 C580.2,85.6 581.4,86.6 582.7,87.5 C583.9,88.4 585.3,89.3 586.6,90.1 C587.9,91.0 589.3,91.7 590.7,92.5 C592.0,93.3 593.4,94.1 594.8,94.9 C596.1,95.7 597.5,96.5 598.9,97.2 C600.3,98.0 601.7,98.7 603.0,99.5 C604.4,100.2 605.8,101.0 607.2,101.8 C608.5,102.6 609.8,103.5 611.2,104.3 C612.5,105.2 613.8,106.0 615.2,106.8 C616.5,107.6 617.9,108.5 619.3,109.2 C620.7,109.9 622.1,110.6 623.6,111.1 C625.1,111.5 626.6,111.6 628.2,111.9 C629.7,112.1 631.2,112.4 632.8,112.6 C634.3,112.8 635.9,112.9 637.5,113.1 C639.0,113.2 640.6,113.5 642.1,113.6 C643.7,113.7 645.3,113.8 646.9,113.8 C648.4,113.9 650.0,114.0 651.6,114.0 C653.2,114.1 654.7,114.1 656.3,114.2 C657.9,114.3 659.4,114.5 661.0,114.6 C662.6,114.7 664.2,114.8 665.7,114.9 C667.3,115.1 668.9,115.2 670.5,115.3 C672.0,115.4 673.6,115.5 675.2,115.6 C676.8,115.7 678.3,115.9 679.9,116.0 C681.5,116.1 683.0,116.2 684.6,116.3 C686.2,116.4 687.8,116.5 689.3,116.6 C690.9,116.7 692.5,116.9 694.1,117.0 C695.6,117.2 697.2,117.3 698.7,117.6 C700.3,117.8 700.9,118.0 703.4,118.5 C705.8,119.0 711.5,120.1 713.2,120.5" fill="none" stroke="#187c1c" stroke-width="22.5" stroke-linecap="butt"/>
<path d="M517.7,6.3 C518.5,7.8 521.4,12.9 522.6,15.1 C523.8,17.2 524.1,17.8 524.9,19.2 C525.7,20.6 526.5,22.0 527.3,23.3 C528.1,24.7 528.9,26.0 529.7,27.4 C530.5,28.7 531.4,30.1 532.3,31.4 C533.2,32.7 534.1,34.0 535.0,35.3 C535.9,36.6 536.8,37.9 537.7,39.2 C538.7,40.5 539.6,41.7 540.5,43.0 C541.4,44.3 542.4,45.6 543.3,46.9 C544.2,48.1 545.2,49.4 546.1,50.7 C547.1,52.0 548.0,53.2 549.0,54.5 C549.9,55.8 550.9,57.0 551.8,58.3 C552.8,59.6 553.7,60.8 554.7,62.1 C555.7,63.3 556.7,64.5 557.8,65.7 C558.8,66.9 559.9,68.0 561.0,69.2 C562.0,70.4 563.1,71.6 564.2,72.7 C565.3,73.9 566.4,75.0 567.5,76.1 C568.6,77.2 569.7,78.3 570.9,79.4 C572.1,80.4 573.4,81.4 574.6,82.4 C575.9,83.4 577.1,84.3 578.3,85.3 C579.6,86.3 580.8,87.3 582.1,88.3 C583.4,89.2 584.7,90.0 586.0,90.9 C587.4,91.7 588.8,92.5 590.1,93.3 C591.5,94.1 592.9,94.9 594.2,95.7 C595.6,96.4 597.0,97.2 598.4,98.0 C599.8,98.7 601.2,99.5 602.6,100.2 C603.9,101.0 605.3,101.7 606.7,102.5 C608.1,103.3 609.4,104.2 610.7,105.1 C612.1,105.9 613.4,106.8 614.8,107.6 C616.1,108.4 617.5,109.2 618.9,109.9 C620.3,110.6 621.7,111.4 623.2,111.8 C624.7,112.3 626.3,112.3 627.8,112.6 C629.4,112.8 630.9,113.1 632.4,113.3 C634.0,113.4 635.6,113.5 637.1,113.7 C638.7,113.9 640.3,114.1 641.8,114.2 C643.4,114.4 645.0,114.4 646.6,114.5 C648.2,114.6 649.7,114.7 651.3,114.7 C652.9,114.8 654.5,114.8 656.1,114.9 C657.6,115.0 659.2,115.2 660.8,115.3 C662.4,115.4 663.9,115.5 665.5,115.7 C667.1,115.8 668.7,115.9 670.3,116.0 C671.8,116.1 673.4,116.2 675.0,116.3 C676.6,116.5 678.2,116.6 679.7,116.7 C681.3,116.8 682.9,116.9 684.5,117.0 C686.1,117.1 687.6,117.2 689.2,117.3 C690.8,117.4 692.4,117.6 694.0,117.7 C695.5,117.9 697.1,118.0 698.7,118.3 C700.2,118.5 700.9,118.7 703.3,119.2 C705.7,119.6 711.5,120.7 713.1,121.0" fill="none" stroke="#249a2c" stroke-width="15.5" stroke-linecap="butt"/>
<path d="M516.9,6.8 C517.7,8.2 520.5,13.4 521.7,15.5 C522.9,17.7 523.3,18.3 524.0,19.7 C524.8,21.1 525.6,22.5 526.4,23.8 C527.2,25.2 528.0,26.6 528.9,27.9 C529.7,29.3 530.6,30.6 531.5,31.9 C532.3,33.3 533.2,34.6 534.1,35.9 C535.1,37.2 536.0,38.5 536.9,39.7 C537.9,41.0 538.8,42.3 539.7,43.6 C540.6,44.9 541.6,46.2 542.5,47.5 C543.5,48.8 544.4,50.0 545.4,51.3 C546.3,52.6 547.3,53.9 548.2,55.1 C549.2,56.4 550.1,57.7 551.1,59.0 C552.0,60.2 553.0,61.5 554.0,62.7 C555.0,64.0 556.0,65.2 557.1,66.4 C558.1,67.6 559.2,68.7 560.3,69.9 C561.3,71.1 562.4,72.3 563.5,73.4 C564.6,74.6 565.7,75.7 566.8,76.9 C567.9,78.0 569.1,79.1 570.3,80.1 C571.5,81.2 572.7,82.1 574.0,83.1 C575.2,84.1 576.5,85.1 577.7,86.1 C578.9,87.1 580.2,88.1 581.4,89.1 C582.7,90.0 584.1,90.8 585.4,91.7 C586.8,92.5 588.2,93.3 589.5,94.1 C590.9,94.9 592.3,95.7 593.7,96.5 C595.0,97.2 596.4,98.0 597.8,98.8 C599.2,99.5 600.6,100.3 602.0,101.0 C603.4,101.8 604.8,102.5 606.2,103.3 C607.6,104.1 608.9,105.0 610.2,105.9 C611.6,106.7 612.9,107.6 614.3,108.4 C615.6,109.2 617.0,110.1 618.4,110.8 C619.8,111.5 621.3,112.2 622.8,112.6 C624.3,113.1 625.9,113.1 627.4,113.3 C629.0,113.5 630.5,113.8 632.1,114.0 C633.6,114.1 635.2,114.2 636.8,114.4 C638.4,114.5 639.9,114.8 641.5,114.9 C643.1,115.1 644.7,115.1 646.3,115.2 C647.9,115.3 649.4,115.4 651.0,115.5 C652.6,115.5 654.2,115.6 655.8,115.7 C657.4,115.8 659.0,115.9 660.5,116.1 C662.1,116.2 663.7,116.3 665.3,116.4 C666.9,116.6 668.5,116.6 670.1,116.8 C671.6,116.9 673.2,117.0 674.8,117.1 C676.4,117.2 678.0,117.3 679.6,117.4 C681.2,117.5 682.7,117.6 684.3,117.7 C685.9,117.8 687.5,117.9 689.1,118.0 C690.7,118.2 692.3,118.3 693.8,118.5 C695.4,118.6 697.0,118.8 698.6,119.0 C700.1,119.2 700.8,119.4 703.2,119.8 C705.6,120.3 711.4,121.4 713.1,121.7" fill="none" stroke="#36b43c" stroke-width="7.9" stroke-linecap="butt"/>
<path d="M529.4,-0.3 C530.3,1.1 533.4,6.1 534.7,8.1 C536.0,10.2 536.4,10.6 537.2,11.9 C537.9,13.2 538.7,14.4 539.5,15.7 C540.3,17.0 541.0,18.3 541.8,19.5 C542.6,20.8 543.4,22.1 544.2,23.3 C545.0,24.6 545.8,25.9 546.6,27.1 C547.4,28.3 548.3,29.5 549.2,30.8 C550.1,32.0 550.9,33.2 551.8,34.4 C552.6,35.6 553.5,36.9 554.4,38.1 C555.2,39.3 556.1,40.5 557.0,41.7 C557.9,42.9 558.7,44.1 559.6,45.3 C560.5,46.5 561.3,47.8 562.2,49.0 C563.1,50.1 564.1,51.3 565.0,52.5 C565.9,53.6 566.8,54.8 567.8,56.0 C568.8,57.1 569.8,58.2 570.9,59.2 C571.9,60.3 572.9,61.4 574.0,62.5 C575.0,63.5 576.1,64.5 577.3,65.5 C578.4,66.5 579.5,67.5 580.6,68.5 C581.7,69.4 582.9,70.4 584.1,71.3 C585.2,72.2 586.4,73.1 587.6,74.0 C588.8,75.0 589.9,75.9 591.1,76.8 C592.4,77.6 593.6,78.5 594.8,79.3 C596.1,80.1 597.4,80.9 598.6,81.7 C599.9,82.5 601.1,83.3 602.4,84.1 C603.7,84.9 605.0,85.6 606.2,86.4 C607.5,87.2 608.8,87.9 610.1,88.7 C611.3,89.5 612.6,90.3 613.9,91.1 C615.1,91.9 616.4,92.7 617.6,93.5 C618.9,94.3 620.2,95.1 621.5,95.8 C622.7,96.6 624.0,97.3 625.3,98.1 C626.6,98.8 627.9,99.6 629.3,100.2 C630.6,100.8 632.0,101.2 633.4,101.7 C634.8,102.2 636.2,102.8 637.6,103.2 C639.1,103.5 640.6,103.7 642.0,103.9 C643.5,104.1 645.0,104.3 646.5,104.3 C648.0,104.4 649.5,104.3 651.0,104.3 C652.4,104.2 653.9,104.2 655.4,104.2 C656.9,104.1 658.4,104.1 659.9,104.1 C661.4,104.1 662.9,104.2 664.4,104.3 C665.9,104.4 667.3,104.5 668.8,104.6 C670.3,104.7 671.8,104.8 673.3,104.9 C674.8,105.1 676.3,105.2 677.8,105.4 C679.2,105.5 680.7,105.7 682.2,105.8 C683.7,105.9 685.2,106.0 686.7,106.2 C688.2,106.3 689.7,106.4 691.1,106.5 C692.6,106.7 694.1,106.9 695.6,107.1 C697.0,107.3 698.5,107.5 700.0,107.9 C701.4,108.2 701.9,108.5 704.2,109.2 C706.5,110.0 712.2,111.7 713.8,112.3" fill="none" stroke="#063008" stroke-opacity="0.90" stroke-width="5.6"/>
</g>
<path d="M519.1,5.5 C519.9,7.0 522.8,12.1 524.0,14.2 C525.2,16.4 525.5,17.0 526.3,18.4 C527.1,19.7 527.9,21.1 528.7,22.4 C529.5,23.8 530.3,25.1 531.1,26.5 C531.9,27.8 532.8,29.1 533.7,30.4 C534.5,31.7 535.4,33.1 536.3,34.3 C537.2,35.6 538.1,36.9 539.1,38.2 C540.0,39.5 540.9,40.7 541.8,42.0 C542.7,43.3 543.7,44.6 544.6,45.8 C545.5,47.1 546.5,48.4 547.4,49.6 C548.3,50.9 549.3,52.2 550.2,53.4 C551.1,54.7 552.1,56.0 553.0,57.2 C554.0,58.5 554.9,59.7 555.9,60.9 C556.9,62.2 557.9,63.4 558.9,64.6 C560.0,65.7 561.1,66.9 562.1,68.1 C563.2,69.2 564.2,70.4 565.3,71.5 C566.4,72.7 567.5,73.8 568.6,74.9 C569.7,76.0 570.9,77.1 572.1,78.1 C573.2,79.1 574.5,80.1 575.7,81.1 C576.9,82.1 578.2,83.0 579.4,84.0 C580.7,85.0 581.9,86.0 583.1,86.9 C584.4,87.8 585.7,88.7 587.1,89.5 C588.4,90.4 589.8,91.1 591.1,91.9 C592.5,92.7 593.8,93.5 595.2,94.3 C596.5,95.1 597.9,95.9 599.3,96.6 C600.7,97.4 602.1,98.1 603.4,98.9 C604.8,99.6 606.2,100.4 607.5,101.2 C608.9,102.0 610.2,102.9 611.5,103.7 C612.9,104.6 614.2,105.4 615.5,106.2 C616.9,107.0 618.2,107.8 619.6,108.6 C621.0,109.3 622.4,110.0 623.9,110.5 C625.4,110.9 626.9,111.0 628.5,111.3 C630.0,111.6 631.5,111.9 633.0,112.1 C634.6,112.3 636.1,112.4 637.7,112.5 C639.3,112.7 640.8,112.9 642.4,113.1 C644.0,113.2 645.5,113.2 647.1,113.3 C648.7,113.4 650.2,113.4 651.8,113.5 C653.4,113.6 654.9,113.6 656.5,113.7 C658.1,113.8 659.6,113.9 661.2,114.0 C662.8,114.1 664.3,114.3 665.9,114.4 C667.5,114.5 669.0,114.6 670.6,114.7 C672.2,114.8 673.8,114.9 675.3,115.1 C676.9,115.2 678.5,115.3 680.0,115.4 C681.6,115.5 683.2,115.6 684.7,115.7 C686.3,115.8 687.9,115.9 689.4,116.0 C691.0,116.2 692.6,116.3 694.1,116.5 C695.7,116.7 697.3,116.8 698.8,117.1 C700.4,117.3 701.0,117.5 703.4,118.0 C705.8,118.5 711.6,119.7 713.2,120.0" fill="none" stroke="#000" stroke-opacity="0.25" stroke-width="34.2" stroke-dasharray="1.1 1.1"/>
<path d="M529.5,-0.4 C530.4,1.0 533.6,6.0 534.9,8.0 C536.2,10.1 536.5,10.5 537.3,11.8 C538.1,13.1 538.9,14.3 539.7,15.6 C540.5,16.9 541.2,18.2 542.0,19.4 C542.8,20.7 543.6,22.0 544.4,23.2 C545.2,24.5 545.9,25.8 546.8,27.0 C547.6,28.2 548.5,29.4 549.4,30.6 C550.2,31.9 551.1,33.1 551.9,34.3 C552.8,35.5 553.7,36.7 554.5,37.9 C555.4,39.2 556.3,40.4 557.1,41.6 C558.0,42.8 558.9,44.0 559.8,45.2 C560.6,46.4 561.5,47.6 562.4,48.8 C563.3,50.0 564.2,51.2 565.2,52.3 C566.1,53.5 567.0,54.7 568.0,55.8 C568.9,57.0 570.0,58.0 571.0,59.1 C572.0,60.2 573.0,61.3 574.1,62.3 C575.2,63.4 576.3,64.3 577.4,65.3 C578.5,66.3 579.6,67.3 580.7,68.3 C581.9,69.3 583.0,70.2 584.2,71.2 C585.4,72.1 586.6,73.0 587.7,73.9 C588.9,74.8 590.1,75.7 591.3,76.6 C592.5,77.5 593.7,78.3 595.0,79.1 C596.2,79.9 597.5,80.7 598.7,81.5 C600.0,82.3 601.3,83.1 602.5,83.9 C603.8,84.7 605.1,85.5 606.3,86.2 C607.6,87.0 608.9,87.8 610.2,88.5 C611.4,89.3 612.7,90.1 614.0,90.9 C615.2,91.7 616.5,92.5 617.7,93.3 C619.0,94.1 620.3,94.9 621.6,95.7 C622.8,96.4 624.1,97.2 625.4,97.9 C626.7,98.6 628.0,99.4 629.3,100.0 C630.7,100.6 632.1,101.0 633.5,101.5 C634.9,102.0 636.3,102.7 637.7,103.0 C639.1,103.4 640.6,103.5 642.1,103.7 C643.6,103.9 645.1,104.1 646.5,104.2 C648.0,104.3 649.5,104.1 651.0,104.1 C652.5,104.1 654.0,104.1 655.5,104.0 C657.0,104.0 658.5,103.9 660.0,103.9 C661.4,103.9 662.9,104.1 664.4,104.1 C665.9,104.2 667.4,104.3 668.9,104.4 C670.4,104.5 671.9,104.6 673.3,104.8 C674.8,104.9 676.3,105.1 677.8,105.2 C679.3,105.3 680.8,105.5 682.2,105.6 C683.7,105.8 685.2,105.9 686.7,106.0 C688.2,106.1 689.7,106.2 691.2,106.4 C692.6,106.5 694.1,106.7 695.6,106.9 C697.1,107.2 698.5,107.4 700.0,107.7 C701.4,108.1 701.9,108.3 704.2,109.1 C706.5,109.8 712.2,111.6 713.8,112.1" fill="none" stroke="#000" stroke-opacity="0.22" stroke-width="0.8"/>
<path d="M527.4,0.8 C528.3,2.2 531.5,7.2 532.7,9.3 C534.0,11.3 534.3,11.8 535.1,13.1 C535.9,14.4 536.7,15.7 537.5,17.0 C538.3,18.3 539.0,19.6 539.8,20.8 C540.6,22.1 541.4,23.4 542.2,24.7 C543.0,25.9 543.8,27.2 544.7,28.5 C545.5,29.7 546.4,30.9 547.3,32.2 C548.2,33.4 549.0,34.6 549.9,35.8 C550.8,37.1 551.7,38.3 552.5,39.5 C553.4,40.7 554.3,42.0 555.2,43.2 C556.1,44.4 557.0,45.6 557.9,46.8 C558.7,48.1 559.6,49.3 560.5,50.5 C561.4,51.7 562.4,52.9 563.3,54.1 C564.2,55.2 565.2,56.4 566.1,57.6 C567.1,58.7 568.2,59.8 569.2,60.9 C570.3,62.0 571.3,63.1 572.3,64.2 C573.4,65.2 574.5,66.2 575.6,67.2 C576.8,68.3 577.9,69.3 579.0,70.3 C580.1,71.2 581.3,72.2 582.5,73.1 C583.7,74.1 584.9,75.0 586.1,75.9 C587.3,76.8 588.4,77.8 589.6,78.7 C590.9,79.6 592.1,80.4 593.4,81.2 C594.7,82.0 595.9,82.8 597.2,83.6 C598.5,84.4 599.8,85.2 601.1,86.0 C602.3,86.8 603.6,87.5 604.9,88.3 C606.2,89.1 607.5,89.8 608.8,90.6 C610.1,91.4 611.4,92.2 612.7,93.0 C614.0,93.8 615.2,94.6 616.5,95.4 C617.8,96.2 619.1,97.0 620.3,97.8 C621.6,98.5 622.9,99.3 624.3,100.0 C625.6,100.8 626.9,101.5 628.3,102.1 C629.6,102.7 631.1,103.0 632.5,103.5 C633.9,103.9 635.3,104.5 636.8,104.8 C638.2,105.2 639.7,105.3 641.2,105.5 C642.7,105.7 644.2,105.9 645.7,106.0 C647.2,106.1 648.7,106.0 650.2,106.0 C651.7,105.9 653.2,105.9 654.7,105.9 C656.3,105.9 657.8,105.8 659.3,105.9 C660.8,105.9 662.3,106.0 663.8,106.1 C665.3,106.2 666.8,106.3 668.3,106.4 C669.8,106.5 671.3,106.6 672.8,106.8 C674.3,106.9 675.8,107.0 677.3,107.2 C678.8,107.3 680.3,107.5 681.8,107.6 C683.3,107.7 684.8,107.8 686.3,107.9 C687.8,108.1 689.3,108.1 690.8,108.3 C692.3,108.5 693.8,108.6 695.3,108.9 C696.8,109.1 698.3,109.3 699.7,109.6 C701.2,109.9 701.7,110.2 704.1,110.9 C706.4,111.6 712.1,113.2 713.7,113.7" fill="none" stroke="#000" stroke-opacity="0.22" stroke-width="0.8"/>
<path d="M525.3,2.0 C526.2,3.4 529.3,8.5 530.6,10.5 C531.8,12.6 532.1,13.1 532.9,14.4 C533.7,15.7 534.5,17.0 535.3,18.3 C536.1,19.6 536.8,21.0 537.6,22.2 C538.4,23.5 539.3,24.8 540.1,26.1 C540.9,27.4 541.7,28.7 542.6,29.9 C543.5,31.2 544.4,32.4 545.2,33.7 C546.1,34.9 547.0,36.1 547.9,37.4 C548.8,38.6 549.7,39.9 550.6,41.1 C551.4,42.3 552.3,43.6 553.2,44.8 C554.1,46.0 555.0,47.3 555.9,48.5 C556.8,49.7 557.7,51.0 558.6,52.2 C559.6,53.4 560.5,54.6 561.5,55.8 C562.4,57.0 563.3,58.2 564.3,59.3 C565.3,60.5 566.4,61.6 567.5,62.7 C568.5,63.8 569.5,64.9 570.6,66.0 C571.7,67.1 572.8,68.1 573.9,69.2 C575.0,70.2 576.1,71.2 577.3,72.2 C578.4,73.2 579.6,74.2 580.8,75.1 C582.0,76.1 583.2,77.0 584.4,77.9 C585.6,78.9 586.8,79.8 588.0,80.7 C589.3,81.6 590.5,82.5 591.8,83.3 C593.1,84.1 594.4,84.9 595.7,85.7 C597.0,86.5 598.3,87.3 599.6,88.1 C600.9,88.9 602.2,89.6 603.5,90.4 C604.8,91.2 606.2,91.9 607.5,92.7 C608.8,93.5 610.1,94.2 611.4,95.0 C612.7,95.8 614.0,96.7 615.2,97.5 C616.5,98.3 617.8,99.1 619.1,99.9 C620.5,100.7 621.8,101.4 623.1,102.2 C624.4,102.9 625.8,103.7 627.2,104.2 C628.6,104.8 630.1,105.0 631.5,105.4 C632.9,105.8 634.4,106.4 635.8,106.7 C637.3,107.0 638.8,107.1 640.3,107.3 C641.9,107.4 643.4,107.7 644.9,107.7 C646.4,107.8 647.9,107.8 649.4,107.8 C651.0,107.8 652.5,107.8 654.0,107.8 C655.5,107.8 657.1,107.8 658.6,107.8 C660.1,107.9 661.6,108.0 663.1,108.1 C664.7,108.2 666.2,108.3 667.7,108.4 C669.2,108.5 670.7,108.6 672.3,108.7 C673.8,108.9 675.3,109.0 676.8,109.1 C678.3,109.3 679.8,109.4 681.4,109.5 C682.9,109.7 684.4,109.8 685.9,109.9 C687.4,110.0 689.0,110.1 690.5,110.2 C692.0,110.4 693.5,110.6 695.0,110.8 C696.5,111.0 698.0,111.1 699.5,111.5 C701.0,111.8 701.6,112.0 703.9,112.6 C706.2,113.3 711.9,114.8 713.6,115.3" fill="none" stroke="#000" stroke-opacity="0.22" stroke-width="0.8"/>
<path d="M523.3,3.2 C524.1,4.6 527.1,9.7 528.4,11.8 C529.6,13.9 529.9,14.4 530.7,15.7 C531.5,17.1 532.3,18.4 533.1,19.7 C533.9,21.0 534.7,22.3 535.5,23.7 C536.3,25.0 537.1,26.3 538.0,27.6 C538.8,28.8 539.6,30.1 540.5,31.4 C541.4,32.7 542.3,33.9 543.2,35.2 C544.1,36.4 545.0,37.7 545.9,38.9 C546.8,40.2 547.7,41.4 548.6,42.7 C549.5,43.9 550.4,45.2 551.3,46.4 C552.2,47.7 553.1,48.9 554.0,50.1 C554.9,51.4 555.8,52.6 556.8,53.9 C557.7,55.1 558.6,56.3 559.6,57.5 C560.6,58.7 561.5,59.9 562.5,61.1 C563.6,62.2 564.6,63.3 565.7,64.5 C566.7,65.6 567.7,66.7 568.8,67.8 C569.9,68.9 571.0,70.0 572.1,71.1 C573.2,72.1 574.4,73.2 575.5,74.2 C576.7,75.2 577.9,76.1 579.1,77.1 C580.3,78.1 581.5,79.0 582.7,80.0 C584.0,80.9 585.1,81.9 586.4,82.8 C587.6,83.7 588.9,84.5 590.2,85.4 C591.5,86.2 592.9,87.0 594.2,87.8 C595.5,88.6 596.8,89.4 598.1,90.2 C599.4,90.9 600.8,91.7 602.1,92.5 C603.5,93.2 604.8,94.0 606.1,94.7 C607.5,95.5 608.8,96.3 610.1,97.1 C611.4,97.9 612.7,98.7 614.0,99.6 C615.3,100.4 616.6,101.2 617.9,102.0 C619.3,102.8 620.6,103.6 621.9,104.3 C623.3,105.0 624.7,105.8 626.1,106.3 C627.5,106.8 629.0,107.0 630.5,107.4 C632.0,107.8 633.4,108.2 634.9,108.5 C636.4,108.7 637.9,108.8 639.5,109.0 C641.0,109.2 642.5,109.4 644.1,109.5 C645.6,109.6 647.1,109.6 648.7,109.6 C650.2,109.7 651.7,109.7 653.3,109.7 C654.8,109.7 656.3,109.7 657.9,109.8 C659.4,109.8 661.0,110.0 662.5,110.1 C664.0,110.2 665.6,110.3 667.1,110.4 C668.6,110.5 670.2,110.6 671.7,110.7 C673.2,110.8 674.8,111.0 676.3,111.1 C677.8,111.2 679.4,111.4 680.9,111.5 C682.5,111.6 684.0,111.7 685.5,111.8 C687.1,111.9 688.6,112.0 690.1,112.2 C691.7,112.3 693.2,112.5 694.7,112.7 C696.2,112.9 697.8,113.0 699.3,113.3 C700.8,113.6 701.4,113.8 703.7,114.4 C706.1,115.0 711.8,116.4 713.4,116.8" fill="none" stroke="#000" stroke-opacity="0.22" stroke-width="0.8"/>
<path d="M521.2,4.4 C522.0,5.8 525.0,10.9 526.2,13.0 C527.4,15.1 527.7,15.7 528.5,17.0 C529.3,18.4 530.1,19.7 530.9,21.1 C531.7,22.4 532.5,23.7 533.3,25.1 C534.1,26.4 535.0,27.7 535.8,29.0 C536.7,30.3 537.5,31.6 538.4,32.9 C539.3,34.2 540.2,35.4 541.1,36.7 C542.0,37.9 542.9,39.2 543.8,40.5 C544.7,41.7 545.7,43.0 546.6,44.3 C547.5,45.5 548.4,46.8 549.3,48.0 C550.3,49.3 551.2,50.5 552.1,51.8 C553.0,53.0 554.0,54.3 554.9,55.5 C555.8,56.8 556.8,58.0 557.8,59.2 C558.7,60.4 559.7,61.6 560.7,62.8 C561.8,64.0 562.8,65.1 563.9,66.3 C564.9,67.4 566.0,68.6 567.1,69.7 C568.1,70.8 569.3,71.9 570.4,73.0 C571.5,74.0 572.6,75.1 573.8,76.1 C575.0,77.2 576.2,78.1 577.4,79.1 C578.6,80.1 579.9,81.0 581.1,82.0 C582.3,82.9 583.5,83.9 584.8,84.9 C586.0,85.8 587.3,86.6 588.6,87.4 C590.0,88.3 591.3,89.0 592.6,89.8 C594.0,90.6 595.3,91.4 596.6,92.2 C598.0,93.0 599.3,93.8 600.7,94.5 C602.1,95.3 603.4,96.0 604.8,96.8 C606.1,97.6 607.5,98.3 608.8,99.1 C610.1,100.0 611.4,100.8 612.8,101.6 C614.1,102.5 615.4,103.3 616.7,104.1 C618.1,104.9 619.4,105.7 620.8,106.4 C622.2,107.1 623.5,107.9 625.0,108.4 C626.4,108.9 628.0,109.0 629.5,109.3 C631.0,109.7 632.4,110.0 634.0,110.3 C635.5,110.5 637.0,110.6 638.6,110.8 C640.1,111.0 641.7,111.2 643.2,111.3 C644.8,111.4 646.3,111.4 647.9,111.5 C649.4,111.5 651.0,111.6 652.5,111.6 C654.1,111.6 655.6,111.6 657.2,111.7 C658.7,111.8 660.3,111.9 661.8,112.0 C663.4,112.1 665.0,112.3 666.5,112.4 C668.1,112.5 669.6,112.6 671.2,112.7 C672.7,112.8 674.3,113.0 675.8,113.1 C677.4,113.2 678.9,113.3 680.5,113.5 C682.0,113.6 683.6,113.7 685.1,113.8 C686.7,113.9 688.2,114.0 689.8,114.1 C691.3,114.2 692.9,114.4 694.4,114.6 C696.0,114.8 697.5,114.9 699.0,115.2 C700.6,115.5 701.2,115.7 703.6,116.2 C705.9,116.8 711.7,118.1 713.3,118.4" fill="none" stroke="#000" stroke-opacity="0.22" stroke-width="0.8"/>
<path d="M519.1,5.5 C519.9,7.0 522.8,12.1 524.0,14.2 C525.2,16.4 525.5,17.0 526.3,18.4 C527.1,19.7 527.9,21.1 528.7,22.4 C529.5,23.8 530.3,25.1 531.1,26.5 C531.9,27.8 532.8,29.1 533.7,30.4 C534.5,31.7 535.4,33.1 536.3,34.3 C537.2,35.6 538.1,36.9 539.1,38.2 C540.0,39.5 540.9,40.7 541.8,42.0 C542.7,43.3 543.7,44.6 544.6,45.8 C545.5,47.1 546.5,48.4 547.4,49.6 C548.3,50.9 549.3,52.2 550.2,53.4 C551.1,54.7 552.1,56.0 553.0,57.2 C554.0,58.5 554.9,59.7 555.9,60.9 C556.9,62.2 557.9,63.4 558.9,64.6 C560.0,65.7 561.1,66.9 562.1,68.1 C563.2,69.2 564.2,70.4 565.3,71.5 C566.4,72.7 567.5,73.8 568.6,74.9 C569.7,76.0 570.9,77.1 572.1,78.1 C573.2,79.1 574.5,80.1 575.7,81.1 C576.9,82.1 578.2,83.0 579.4,84.0 C580.7,85.0 581.9,86.0 583.1,86.9 C584.4,87.8 585.7,88.7 587.1,89.5 C588.4,90.4 589.8,91.1 591.1,91.9 C592.5,92.7 593.8,93.5 595.2,94.3 C596.5,95.1 597.9,95.9 599.3,96.6 C600.7,97.4 602.1,98.1 603.4,98.9 C604.8,99.6 606.2,100.4 607.5,101.2 C608.9,102.0 610.2,102.9 611.5,103.7 C612.9,104.6 614.2,105.4 615.5,106.2 C616.9,107.0 618.2,107.8 619.6,108.6 C621.0,109.3 622.4,110.0 623.9,110.5 C625.4,110.9 626.9,111.0 628.5,111.3 C630.0,111.6 631.5,111.9 633.0,112.1 C634.6,112.3 636.1,112.4 637.7,112.5 C639.3,112.7 640.8,112.9 642.4,113.1 C644.0,113.2 645.5,113.2 647.1,113.3 C648.7,113.4 650.2,113.4 651.8,113.5 C653.4,113.6 654.9,113.6 656.5,113.7 C658.1,113.8 659.6,113.9 661.2,114.0 C662.8,114.1 664.3,114.3 665.9,114.4 C667.5,114.5 669.0,114.6 670.6,114.7 C672.2,114.8 673.8,114.9 675.3,115.1 C676.9,115.2 678.5,115.3 680.0,115.4 C681.6,115.5 683.2,115.6 684.7,115.7 C686.3,115.8 687.9,115.9 689.4,116.0 C691.0,116.2 692.6,116.3 694.1,116.5 C695.7,116.7 697.3,116.8 698.8,117.1 C700.4,117.3 701.0,117.5 703.4,118.0 C705.8,118.5 711.6,119.7 713.2,120.0" fill="none" stroke="#000" stroke-opacity="0.22" stroke-width="0.8"/>
<path d="M517.0,6.7 C517.8,8.2 520.6,13.3 521.8,15.5 C523.0,17.6 523.3,18.3 524.1,19.7 C524.9,21.0 525.7,22.4 526.5,23.8 C527.3,25.2 528.1,26.5 528.9,27.9 C529.8,29.2 530.7,30.6 531.5,31.9 C532.4,33.2 533.3,34.5 534.2,35.8 C535.1,37.1 536.1,38.4 537.0,39.7 C537.9,41.0 538.9,42.3 539.8,43.6 C540.7,44.9 541.7,46.1 542.6,47.4 C543.5,48.7 544.5,50.0 545.4,51.2 C546.4,52.5 547.3,53.8 548.3,55.1 C549.2,56.3 550.2,57.6 551.2,58.9 C552.1,60.2 553.1,61.4 554.1,62.7 C555.1,63.9 556.1,65.1 557.1,66.3 C558.2,67.5 559.3,68.7 560.3,69.8 C561.4,71.0 562.5,72.2 563.6,73.4 C564.6,74.5 565.7,75.7 566.9,76.8 C568.0,77.9 569.1,79.0 570.3,80.0 C571.5,81.1 572.8,82.1 574.0,83.1 C575.3,84.1 576.5,85.0 577.8,86.0 C579.0,87.0 580.2,88.1 581.5,89.0 C582.8,89.9 584.1,90.8 585.5,91.6 C586.8,92.4 588.2,93.2 589.6,94.0 C591.0,94.8 592.3,95.6 593.7,96.4 C595.1,97.2 596.5,97.9 597.9,98.7 C599.3,99.5 600.7,100.2 602.1,100.9 C603.5,101.7 604.9,102.5 606.2,103.3 C607.6,104.1 608.9,105.0 610.3,105.8 C611.6,106.7 613.0,107.5 614.3,108.3 C615.7,109.1 617.0,110.0 618.5,110.7 C619.9,111.4 621.3,112.1 622.8,112.6 C624.3,113.0 625.9,113.0 627.5,113.2 C629.0,113.5 630.5,113.7 632.1,113.9 C633.7,114.1 635.2,114.1 636.8,114.3 C638.4,114.5 640.0,114.7 641.6,114.9 C643.1,115.0 644.7,115.1 646.3,115.2 C647.9,115.2 649.5,115.3 651.1,115.4 C652.6,115.5 654.2,115.5 655.8,115.6 C657.4,115.7 659.0,115.9 660.6,116.0 C662.1,116.1 663.7,116.3 665.3,116.4 C666.9,116.5 668.5,116.6 670.1,116.7 C671.7,116.8 673.2,116.9 674.8,117.0 C676.4,117.1 678.0,117.3 679.6,117.4 C681.2,117.5 682.8,117.6 684.3,117.7 C685.9,117.8 687.5,117.8 689.1,118.0 C690.7,118.1 692.3,118.2 693.9,118.4 C695.4,118.5 697.0,118.7 698.6,118.9 C700.1,119.2 700.8,119.3 703.2,119.8 C705.6,120.2 711.4,121.3 713.1,121.6" fill="none" stroke="#000" stroke-opacity="0.22" stroke-width="0.8"/>
<path d="M514.9,7.9 C515.7,9.4 518.5,14.6 519.6,16.7 C520.8,18.9 521.1,19.6 521.9,21.0 C522.7,22.4 523.5,23.8 524.3,25.2 C525.1,26.6 525.9,27.9 526.8,29.3 C527.6,30.6 528.5,32.0 529.4,33.3 C530.3,34.7 531.2,36.0 532.1,37.3 C533.1,38.6 534.0,39.9 534.9,41.2 C535.9,42.5 536.8,43.8 537.8,45.1 C538.7,46.4 539.7,47.7 540.6,49.0 C541.6,50.3 542.5,51.6 543.5,52.9 C544.5,54.1 545.4,55.4 546.4,56.7 C547.3,58.0 548.3,59.3 549.3,60.6 C550.2,61.8 551.2,63.1 552.2,64.4 C553.2,65.6 554.3,66.8 555.3,68.1 C556.4,69.3 557.5,70.4 558.6,71.6 C559.6,72.8 560.7,74.0 561.8,75.2 C562.9,76.4 564.0,77.6 565.1,78.7 C566.2,79.8 567.4,80.9 568.6,82.0 C569.8,83.1 571.1,84.0 572.3,85.0 C573.6,86.1 574.8,87.0 576.1,88.0 C577.4,89.0 578.6,90.1 579.9,91.0 C581.2,92.0 582.5,92.8 583.9,93.7 C585.3,94.5 586.7,95.3 588.1,96.1 C589.5,96.9 590.8,97.7 592.2,98.5 C593.6,99.2 595.1,100.0 596.5,100.8 C597.9,101.5 599.3,102.3 600.7,103.0 C602.1,103.8 603.6,104.5 605.0,105.3 C606.3,106.1 607.7,107.0 609.0,107.9 C610.4,108.7 611.7,109.6 613.1,110.4 C614.5,111.3 615.9,112.1 617.3,112.8 C618.7,113.5 620.2,114.3 621.7,114.7 C623.3,115.0 624.9,115.0 626.4,115.2 C628.0,115.4 629.6,115.5 631.2,115.7 C632.7,115.8 634.3,115.9 635.9,116.1 C637.5,116.2 639.1,116.5 640.7,116.6 C642.3,116.8 643.9,116.9 645.5,117.0 C647.1,117.1 648.7,117.2 650.3,117.3 C651.9,117.4 653.5,117.5 655.1,117.6 C656.7,117.7 658.3,117.8 659.9,118.0 C661.5,118.1 663.1,118.2 664.7,118.4 C666.3,118.5 667.9,118.6 669.5,118.7 C671.1,118.8 672.7,118.9 674.3,119.0 C675.9,119.1 677.5,119.2 679.1,119.3 C680.7,119.4 682.3,119.5 684.0,119.6 C685.6,119.7 687.2,119.8 688.8,119.9 C690.4,120.0 692.0,120.1 693.6,120.3 C695.2,120.4 696.8,120.6 698.3,120.8 C699.9,121.0 700.6,121.2 703.1,121.6 C705.5,122.0 711.3,122.9 712.9,123.2" fill="none" stroke="#000" stroke-opacity="0.22" stroke-width="0.8"/>
<path d="M512.8,9.1 C513.6,10.6 516.3,15.8 517.4,18.0 C518.6,20.2 518.9,20.9 519.7,22.3 C520.5,23.7 521.3,25.1 522.1,26.5 C522.9,27.9 523.7,29.3 524.6,30.7 C525.5,32.1 526.4,33.4 527.3,34.8 C528.2,36.1 529.1,37.4 530.0,38.8 C531.0,40.1 531.9,41.4 532.9,42.7 C533.8,44.0 534.8,45.3 535.7,46.7 C536.7,48.0 537.6,49.3 538.6,50.6 C539.6,51.9 540.6,53.2 541.5,54.5 C542.5,55.8 543.5,57.1 544.5,58.4 C545.4,59.7 546.4,61.0 547.4,62.2 C548.4,63.5 549.3,64.8 550.4,66.1 C551.4,67.4 552.5,68.6 553.5,69.8 C554.6,71.0 555.7,72.2 556.8,73.4 C557.9,74.6 558.9,75.9 560.0,77.0 C561.1,78.2 562.2,79.5 563.4,80.6 C564.5,81.8 565.6,82.9 566.9,84.0 C568.1,85.0 569.4,86.0 570.6,87.0 C571.9,88.1 573.2,89.1 574.4,90.1 C575.7,91.1 576.9,92.2 578.2,93.1 C579.6,94.1 580.9,94.9 582.3,95.8 C583.7,96.6 585.1,97.4 586.5,98.2 C588.0,98.9 589.4,99.8 590.8,100.5 C592.2,101.3 593.6,102.1 595.1,102.8 C596.5,103.6 598.0,104.3 599.4,105.1 C600.8,105.8 602.3,106.6 603.7,107.4 C605.1,108.2 606.4,109.1 607.8,110.0 C609.2,110.8 610.5,111.7 611.9,112.5 C613.3,113.4 614.7,114.3 616.1,115.0 C617.6,115.7 619.1,116.4 620.6,116.7 C622.2,117.1 623.8,117.0 625.4,117.1 C627.0,117.3 628.6,117.4 630.2,117.5 C631.8,117.6 633.4,117.7 635.1,117.8 C636.7,118.0 638.3,118.2 639.9,118.4 C641.5,118.6 643.1,118.7 644.7,118.8 C646.3,119.0 648.0,119.1 649.6,119.2 C651.2,119.3 652.8,119.4 654.4,119.5 C656.0,119.6 657.7,119.8 659.3,119.9 C660.9,120.1 662.5,120.2 664.1,120.4 C665.7,120.5 667.4,120.6 669.0,120.7 C670.6,120.8 672.2,120.9 673.8,121.0 C675.5,121.1 677.1,121.2 678.7,121.3 C680.3,121.4 681.9,121.5 683.6,121.6 C685.2,121.6 686.8,121.7 688.4,121.8 C690.0,121.9 691.7,122.1 693.3,122.2 C694.9,122.3 696.5,122.5 698.1,122.7 C699.7,122.8 700.5,123.0 702.9,123.3 C705.3,123.7 711.1,124.5 712.8,124.8" fill="none" stroke="#000" stroke-opacity="0.22" stroke-width="0.8"/>
<path d="M510.7,10.3 C511.5,11.8 514.1,17.0 515.3,19.2 C516.4,21.4 516.7,22.1 517.5,23.6 C518.3,25.0 519.1,26.5 519.9,27.9 C520.7,29.3 521.5,30.7 522.4,32.1 C523.3,33.5 524.2,34.9 525.1,36.2 C526.0,37.6 527.0,38.9 527.9,40.2 C528.9,41.6 529.9,42.9 530.8,44.2 C531.8,45.5 532.7,46.9 533.7,48.2 C534.7,49.5 535.6,50.8 536.6,52.2 C537.6,53.5 538.6,54.8 539.6,56.1 C540.6,57.4 541.6,58.7 542.6,60.0 C543.5,61.3 544.5,62.6 545.5,63.9 C546.5,65.2 547.5,66.6 548.5,67.8 C549.6,69.1 550.7,70.3 551.7,71.5 C552.8,72.8 553.9,74.0 555.0,75.2 C556.1,76.4 557.2,77.7 558.3,78.9 C559.4,80.1 560.5,81.3 561.6,82.5 C562.7,83.7 563.9,84.8 565.1,85.9 C566.3,87.0 567.7,88.0 568.9,89.0 C570.2,90.0 571.5,91.1 572.8,92.1 C574.1,93.1 575.3,94.2 576.6,95.2 C577.9,96.1 579.3,97.0 580.7,97.8 C582.1,98.7 583.6,99.4 585.0,100.2 C586.4,101.0 587.9,101.8 589.3,102.6 C590.8,103.4 592.2,104.2 593.7,104.9 C595.1,105.7 596.6,106.4 598.0,107.1 C599.5,107.9 601.0,108.6 602.4,109.4 C603.8,110.3 605.2,111.2 606.5,112.0 C607.9,112.9 609.3,113.8 610.7,114.7 C612.1,115.5 613.5,116.4 615.0,117.1 C616.4,117.8 618.0,118.5 619.6,118.8 C621.1,119.2 622.8,119.0 624.4,119.1 C626.0,119.2 627.7,119.2 629.3,119.3 C630.9,119.4 632.6,119.5 634.2,119.6 C635.8,119.7 637.4,120.0 639.1,120.2 C640.7,120.4 642.3,120.5 643.9,120.7 C645.6,120.8 647.2,121.0 648.8,121.1 C650.5,121.2 652.1,121.3 653.7,121.5 C655.4,121.6 657.0,121.8 658.6,121.9 C660.3,122.1 661.9,122.2 663.5,122.3 C665.2,122.5 666.8,122.5 668.4,122.6 C670.1,122.7 671.7,122.8 673.3,122.9 C675.0,123.0 676.6,123.1 678.3,123.2 C679.9,123.3 681.5,123.4 683.2,123.5 C684.8,123.6 686.4,123.7 688.1,123.8 C689.7,123.9 691.3,124.0 693.0,124.1 C694.6,124.2 696.2,124.4 697.9,124.5 C699.5,124.7 700.3,124.8 702.7,125.1 C705.2,125.4 711.0,126.2 712.7,126.4" fill="none" stroke="#000" stroke-opacity="0.22" stroke-width="0.8"/>
<path d="M508.6,11.5 C509.3,13.0 512.0,18.2 513.1,20.5 C514.2,22.7 514.5,23.4 515.3,24.9 C516.1,26.4 516.8,27.8 517.7,29.3 C518.5,30.7 519.3,32.1 520.2,33.5 C521.1,34.9 522.1,36.3 523.0,37.6 C523.9,39.0 524.9,40.4 525.9,41.7 C526.8,43.0 527.8,44.4 528.8,45.7 C529.7,47.1 530.7,48.4 531.7,49.8 C532.7,51.1 533.6,52.4 534.6,53.7 C535.6,55.1 536.6,56.4 537.6,57.7 C538.6,59.0 539.6,60.3 540.6,61.6 C541.6,63.0 542.6,64.3 543.7,65.6 C544.7,66.9 545.6,68.3 546.7,69.5 C547.7,70.8 548.8,72.1 549.9,73.3 C551.0,74.5 552.1,75.8 553.2,77.0 C554.3,78.3 555.4,79.5 556.5,80.7 C557.6,82.0 558.7,83.2 559.8,84.4 C561.0,85.6 562.2,86.8 563.4,87.9 C564.6,89.0 566.0,90.0 567.2,91.0 C568.5,92.0 569.8,93.1 571.1,94.1 C572.4,95.2 573.6,96.3 575.0,97.2 C576.3,98.2 577.7,99.1 579.1,99.9 C580.6,100.8 582.0,101.5 583.5,102.3 C584.9,103.1 586.4,103.9 587.8,104.7 C589.3,105.5 590.8,106.2 592.2,107.0 C593.7,107.7 595.2,108.5 596.7,109.2 C598.2,110.0 599.7,110.7 601.1,111.5 C602.5,112.3 603.9,113.2 605.3,114.1 C606.7,115.0 608.1,115.9 609.5,116.8 C610.9,117.6 612.3,118.5 613.8,119.2 C615.3,119.9 616.9,120.6 618.5,120.9 C620.1,121.2 621.8,121.0 623.4,121.0 C625.1,121.1 626.7,121.1 628.4,121.1 C630.0,121.2 631.7,121.2 633.3,121.4 C634.9,121.5 636.6,121.8 638.2,122.0 C639.9,122.2 641.5,122.3 643.2,122.5 C644.8,122.7 646.5,122.8 648.1,123.0 C649.7,123.1 651.4,123.3 653.0,123.4 C654.7,123.6 656.3,123.7 658.0,123.9 C659.6,124.0 661.3,124.2 662.9,124.3 C664.6,124.5 666.2,124.5 667.9,124.6 C669.5,124.7 671.2,124.8 672.9,124.9 C674.5,125.0 676.2,125.1 677.8,125.2 C679.5,125.3 681.1,125.4 682.8,125.4 C684.4,125.5 686.1,125.6 687.7,125.7 C689.4,125.8 691.0,125.9 692.7,126.0 C694.3,126.1 696.0,126.2 697.6,126.4 C699.3,126.5 700.1,126.7 702.6,126.9 C705.0,127.2 710.9,127.8 712.5,128.0" fill="none" stroke="#000" stroke-opacity="0.22" stroke-width="0.8"/>
</g>
<path d="M537.1,6.8 C539.2,7.3 539.6,10.6 540.9,12.6 C542.2,14.6 543.4,16.8 544.7,18.9 C546.0,21.0 547.2,23.0 548.6,25.1 C550.0,27.2 551.4,29.1 553.0,31.4 C554.7,33.8 556.7,36.7 558.7,39.4 C560.6,42.1 562.8,45.2 564.7,47.7 C566.6,50.2 568.1,52.2 570.0,54.4 C571.9,56.6 573.7,58.5 576.1,60.8 C578.5,63.1 581.5,65.7 584.5,68.1 C587.4,70.5 590.8,73.1 593.9,75.3 C597.1,77.6 600.3,79.5 603.4,81.5 C606.4,83.4 609.3,85.1 612.2,86.9 C615.2,88.8 617.8,90.6 620.9,92.5 C623.9,94.3 627.2,96.4 630.3,97.9 C633.4,99.4 636.5,100.7 639.2,101.5 C641.9,102.2 644.1,102.3 646.5,102.5 C648.9,102.6 651.0,102.3 653.5,102.2 C656.0,102.1 658.3,101.9 661.3,102.0 C664.2,102.0 667.6,102.2 671.1,102.5 C674.6,102.8 678.9,103.3 682.4,103.6 C685.8,104.0 689.2,104.2 692.0,104.5 C694.8,104.8 697.2,105.1 699.2,105.5 C701.3,106.0 703.3,106.2 704.4,107.3 C705.5,108.4 705.7,110.0 706.0,112.0 C706.3,114.0 706.3,116.9 706.0,119.3 C705.7,121.7 705.0,125.0 704.4,126.6 C703.8,128.2 703.8,128.4 702.4,128.7 C701.0,129.0 698.5,128.3 695.9,128.1 C693.3,127.9 690.1,127.8 686.8,127.6 C683.6,127.4 680.5,127.3 676.4,127.1 C672.3,126.9 667.5,126.8 662.1,126.3 C656.7,125.9 649.1,125.1 643.8,124.5 C638.5,124.0 633.8,123.1 630.4,122.9 C627.0,122.6 625.5,123.0 623.3,123.0 C621.1,123.0 619.3,123.3 617.4,123.0 C615.4,122.7 613.6,121.9 611.7,121.0 C609.8,120.1 608.2,118.8 606.1,117.5 C604.0,116.2 602.0,114.7 599.1,113.1 C596.2,111.6 592.8,110.1 588.8,108.0 C584.7,106.0 579.8,103.9 575.0,100.6 C570.2,97.4 565.0,93.4 560.0,88.5 C555.0,83.6 549.8,77.4 545.0,71.5 C540.2,65.6 535.0,58.5 531.0,53.2 C527.1,48.0 523.8,43.3 521.4,40.0 C519.1,36.6 518.1,35.1 516.8,33.1 C515.6,31.0 514.8,29.5 513.8,27.6 C512.8,25.7 510.8,23.3 510.9,21.7 C511.0,20.1 512.8,19.4 514.5,18.0 C516.2,16.6 518.8,14.6 521.1,13.2 C523.5,11.8 525.9,10.6 528.6,9.5 C531.3,8.4 535.0,6.3 537.1,6.8Z" fill="none" stroke="#031a04" stroke-width="1" opacity="0.9"/>
<clipPath id="tc1"><path d="M543.2,25.5 C544.0,26.6 544.9,29.4 545.7,31.4 C546.5,33.4 547.3,35.5 548.0,37.5 C548.8,39.5 549.5,41.5 550.1,43.5 C550.7,45.6 551.2,47.6 551.8,49.9 C552.4,52.2 553.1,54.7 553.9,57.5 C554.8,60.2 555.9,63.7 556.9,66.6 C557.9,69.5 559.0,72.4 560.0,74.8 C561.1,77.1 562.2,78.6 563.5,80.5 C564.8,82.3 566.4,84.1 567.9,85.9 C569.5,87.8 571.2,89.8 572.9,91.6 C574.6,93.4 576.2,95.2 578.0,96.8 C579.9,98.5 581.8,100.0 583.7,101.5 C585.7,103.0 587.7,104.4 589.7,105.7 C591.7,107.1 593.6,108.4 595.6,109.7 C597.6,111.0 599.6,112.3 601.5,113.6 C603.4,114.9 605.3,116.2 607.0,117.3 C608.6,118.5 610.0,119.6 611.4,120.6 C612.8,121.5 614.1,122.4 615.4,123.0 C616.7,123.6 617.9,124.1 619.3,124.2 C620.7,124.2 622.0,124.0 623.9,123.5 C625.7,123.0 627.9,122.1 630.2,121.2 C632.5,120.2 635.2,119.1 637.5,117.9 C639.9,116.7 642.0,115.3 644.4,113.7 C646.7,112.1 648.9,110.0 651.5,108.2 C654.2,106.4 657.4,104.3 660.3,102.8 C663.1,101.4 666.1,100.2 668.6,99.3 C671.0,98.4 673.1,97.8 675.0,97.3 C677.0,96.9 679.2,96.0 680.5,96.4 C681.8,96.8 682.6,98.0 683.1,99.6 C683.6,101.2 683.8,103.5 683.7,105.8 C683.6,108.0 683.3,111.0 682.6,113.1 C681.9,115.2 681.4,116.7 679.5,118.3 C677.6,119.9 674.0,121.0 671.2,122.4 C668.4,123.9 665.7,125.2 662.9,126.9 C660.1,128.5 657.1,130.4 654.2,132.4 C651.3,134.4 648.1,136.8 645.4,138.6 C642.7,140.5 640.2,142.2 637.8,143.6 C635.4,145.0 633.3,146.0 631.0,147.0 C628.7,148.0 626.5,148.8 624.2,149.4 C622.0,150.0 619.8,150.5 617.5,150.7 C615.2,150.9 612.9,150.9 610.4,150.5 C608.0,150.1 605.3,149.4 602.8,148.5 C600.3,147.5 597.6,146.2 595.2,144.9 C592.7,143.5 590.4,141.9 588.1,140.2 C585.8,138.6 583.7,136.7 581.6,134.9 C579.5,133.0 577.6,131.1 575.6,129.2 C573.7,127.4 572.1,125.9 569.9,123.8 C567.7,121.6 565.5,119.6 562.7,116.5 C559.9,113.5 556.3,109.4 553.2,105.4 C550.0,101.3 546.5,96.5 543.7,92.1 C540.9,87.8 538.4,83.3 536.2,79.4 C533.9,75.4 532.1,71.9 530.2,68.5 C528.3,65.2 526.4,62.3 524.8,59.4 C523.2,56.5 521.5,53.6 520.3,51.1 C519.1,48.6 518.4,46.5 517.8,44.6 C517.1,42.7 515.7,41.2 516.3,39.7 C516.9,38.2 519.2,37.5 521.1,35.9 C523.0,34.3 525.7,31.6 527.7,30.2 C529.8,28.8 531.2,28.3 533.4,27.4 C535.6,26.5 539.3,25.3 540.9,25.0 C542.5,24.7 542.4,24.4 543.2,25.5Z"/></clipPath>
<g clip-path="url(#tc1)">
<path d="M543.2,25.5 C544.0,26.6 544.9,29.4 545.7,31.4 C546.5,33.4 547.3,35.5 548.0,37.5 C548.8,39.5 549.5,41.5 550.1,43.5 C550.7,45.6 551.2,47.6 551.8,49.9 C552.4,52.2 553.1,54.7 553.9,57.5 C554.8,60.2 555.9,63.7 556.9,66.6 C557.9,69.5 559.0,72.4 560.0,74.8 C561.1,77.1 562.2,78.6 563.5,80.5 C564.8,82.3 566.4,84.1 567.9,85.9 C569.5,87.8 571.2,89.8 572.9,91.6 C574.6,93.4 576.2,95.2 578.0,96.8 C579.9,98.5 581.8,100.0 583.7,101.5 C585.7,103.0 587.7,104.4 589.7,105.7 C591.7,107.1 593.6,108.4 595.6,109.7 C597.6,111.0 599.6,112.3 601.5,113.6 C603.4,114.9 605.3,116.2 607.0,117.3 C608.6,118.5 610.0,119.6 611.4,120.6 C612.8,121.5 614.1,122.4 615.4,123.0 C616.7,123.6 617.9,124.1 619.3,124.2 C620.7,124.2 622.0,124.0 623.9,123.5 C625.7,123.0 627.9,122.1 630.2,121.2 C632.5,120.2 635.2,119.1 637.5,117.9 C639.9,116.7 642.0,115.3 644.4,113.7 C646.7,112.1 648.9,110.0 651.5,108.2 C654.2,106.4 657.4,104.3 660.3,102.8 C663.1,101.4 666.1,100.2 668.6,99.3 C671.0,98.4 673.1,97.8 675.0,97.3 C677.0,96.9 679.2,96.0 680.5,96.4 C681.8,96.8 682.6,98.0 683.1,99.6 C683.6,101.2 683.8,103.5 683.7,105.8 C683.6,108.0 683.3,111.0 682.6,113.1 C681.9,115.2 681.4,116.7 679.5,118.3 C677.6,119.9 674.0,121.0 671.2,122.4 C668.4,123.9 665.7,125.2 662.9,126.9 C660.1,128.5 657.1,130.4 654.2,132.4 C651.3,134.4 648.1,136.8 645.4,138.6 C642.7,140.5 640.2,142.2 637.8,143.6 C635.4,145.0 633.3,146.0 631.0,147.0 C628.7,148.0 626.5,148.8 624.2,149.4 C622.0,150.0 619.8,150.5 617.5,150.7 C615.2,150.9 612.9,150.9 610.4,150.5 C608.0,150.1 605.3,149.4 602.8,148.5 C600.3,147.5 597.6,146.2 595.2,144.9 C592.7,143.5 590.4,141.9 588.1,140.2 C585.8,138.6 583.7,136.7 581.6,134.9 C579.5,133.0 577.6,131.1 575.6,129.2 C573.7,127.4 572.1,125.9 569.9,123.8 C567.7,121.6 565.5,119.6 562.7,116.5 C559.9,113.5 556.3,109.4 553.2,105.4 C550.0,101.3 546.5,96.5 543.7,92.1 C540.9,87.8 538.4,83.3 536.2,79.4 C533.9,75.4 532.1,71.9 530.2,68.5 C528.3,65.2 526.4,62.3 524.8,59.4 C523.2,56.5 521.5,53.6 520.3,51.1 C519.1,48.6 518.4,46.5 517.8,44.6 C517.1,42.7 515.7,41.2 516.3,39.7 C516.9,38.2 519.2,37.5 521.1,35.9 C523.0,34.3 525.7,31.6 527.7,30.2 C529.8,28.8 531.2,28.3 533.4,27.4 C535.6,26.5 539.3,25.3 540.9,25.0 C542.5,24.7 542.4,24.4 543.2,25.5Z" fill="#1c2602"/>
<g filter="url(#blr)">
<path d="M526.5,23.1 C527.0,24.7 529.0,30.3 529.8,32.6 C530.6,34.9 530.8,35.4 531.3,36.8 C531.8,38.2 532.4,39.7 533.0,41.0 C533.5,42.4 534.2,43.8 534.8,45.2 C535.4,46.6 536.0,48.0 536.6,49.3 C537.2,50.7 537.8,52.1 538.4,53.5 C539.0,54.8 539.6,56.2 540.2,57.6 C540.8,58.9 541.4,60.3 541.9,61.7 C542.5,63.1 543.1,64.5 543.7,65.9 C544.3,67.2 544.9,68.6 545.5,70.0 C546.1,71.3 546.7,72.7 547.4,74.1 C548.0,75.4 548.7,76.8 549.3,78.1 C550.0,79.5 550.6,80.9 551.3,82.2 C552.0,83.5 552.9,84.8 553.7,86.0 C554.5,87.3 555.3,88.6 556.2,89.8 C557.0,91.0 558.0,92.2 558.9,93.4 C559.8,94.6 560.8,95.8 561.7,97.0 C562.7,98.1 563.7,99.3 564.7,100.4 C565.7,101.5 566.7,102.7 567.7,103.8 C568.7,104.9 569.7,106.0 570.8,107.1 C571.9,108.1 573.0,109.1 574.1,110.1 C575.2,111.1 576.3,112.2 577.5,113.2 C578.6,114.1 579.8,115.1 581.0,116.0 C582.1,117.0 583.3,118.0 584.5,118.9 C585.6,119.9 586.8,120.8 588.0,121.7 C589.1,122.7 590.4,123.6 591.6,124.5 C592.8,125.4 594.0,126.3 595.2,127.1 C596.5,128.0 597.7,128.8 599.0,129.6 C600.3,130.5 601.5,131.3 602.8,132.1 C604.1,132.8 605.4,133.6 606.7,134.3 C608.0,135.0 609.4,135.7 610.8,136.2 C612.2,136.6 613.7,137.1 615.2,137.2 C616.7,137.4 618.2,137.2 619.7,137.0 C621.2,136.8 622.6,136.4 624.1,136.0 C625.5,135.6 627.0,135.2 628.4,134.7 C629.8,134.2 631.2,133.7 632.6,133.1 C634.0,132.5 635.3,131.8 636.7,131.1 C638.0,130.4 639.3,129.7 640.6,128.9 C641.9,128.1 643.1,127.2 644.4,126.4 C645.6,125.5 646.8,124.6 648.0,123.7 C649.3,122.8 650.5,122.0 651.7,121.1 C653.0,120.3 654.2,119.4 655.5,118.6 C656.8,117.8 658.1,117.0 659.4,116.2 C660.7,115.5 662.0,114.8 663.3,114.1 C664.7,113.4 666.0,112.7 667.4,112.1 C668.8,111.5 670.2,110.9 671.6,110.4 C672.9,109.8 674.3,109.3 675.8,108.7 C677.2,108.2 677.7,108.1 680.0,107.3 C682.3,106.5 687.9,104.6 689.5,104.1" fill="none" stroke="#56640a" stroke-width="26.3" stroke-linecap="butt"/>
<path d="M526.7,23.0 C527.2,24.6 529.2,30.2 530.0,32.5 C530.8,34.7 531.0,35.3 531.5,36.7 C532.1,38.1 532.6,39.5 533.2,40.9 C533.8,42.3 534.4,43.7 535.0,45.1 C535.6,46.5 536.2,47.8 536.8,49.2 C537.4,50.6 538.0,51.9 538.6,53.3 C539.2,54.7 539.8,56.1 540.4,57.4 C540.9,58.8 541.5,60.2 542.1,61.6 C542.7,62.9 543.2,64.3 543.8,65.7 C544.4,67.1 545.0,68.5 545.7,69.8 C546.3,71.2 546.9,72.6 547.5,73.9 C548.2,75.3 548.8,76.6 549.5,78.0 C550.1,79.3 550.7,80.7 551.5,82.0 C552.2,83.4 553.0,84.6 553.8,85.9 C554.6,87.2 555.4,88.4 556.3,89.7 C557.2,90.9 558.1,92.1 559.0,93.3 C560.0,94.5 560.9,95.6 561.8,96.8 C562.8,98.0 563.8,99.1 564.8,100.2 C565.8,101.4 566.8,102.5 567.8,103.6 C568.8,104.7 569.8,105.8 570.9,106.9 C572.0,107.9 573.1,108.9 574.2,110.0 C575.4,111.0 576.5,112.0 577.6,113.0 C578.7,114.0 579.9,114.9 581.1,115.9 C582.2,116.8 583.4,117.8 584.6,118.7 C585.7,119.7 586.9,120.6 588.1,121.5 C589.3,122.5 590.5,123.3 591.7,124.2 C592.9,125.1 594.1,126.0 595.3,126.9 C596.6,127.8 597.8,128.6 599.1,129.4 C600.4,130.3 601.6,131.1 602.9,131.9 C604.2,132.6 605.5,133.4 606.8,134.1 C608.1,134.8 609.5,135.5 610.9,135.9 C612.3,136.4 613.8,136.9 615.3,137.0 C616.7,137.2 618.3,137.0 619.8,136.8 C621.2,136.6 622.7,136.2 624.1,135.8 C625.6,135.4 627.0,135.0 628.4,134.5 C629.9,134.0 631.3,133.4 632.6,132.8 C634.0,132.2 635.4,131.6 636.7,130.9 C638.0,130.2 639.4,129.5 640.6,128.7 C641.9,127.9 643.1,127.0 644.4,126.1 C645.6,125.3 646.8,124.4 648.1,123.5 C649.3,122.6 650.5,121.7 651.8,120.9 C653.0,120.0 654.3,119.2 655.5,118.4 C656.8,117.6 658.1,116.8 659.4,116.0 C660.7,115.3 662.0,114.6 663.4,113.9 C664.7,113.2 666.1,112.5 667.4,111.9 C668.8,111.3 670.2,110.7 671.6,110.2 C673.0,109.6 674.4,109.1 675.8,108.6 C677.2,108.1 677.7,107.9 680.0,107.1 C682.3,106.4 687.9,104.5 689.5,103.9" fill="none" stroke="#84a414" stroke-width="21.9" stroke-linecap="butt"/>
<path d="M527.0,22.9 C527.6,24.4 529.5,30.0 530.4,32.3 C531.2,34.6 531.3,35.1 531.9,36.5 C532.4,37.9 533.0,39.3 533.5,40.7 C534.1,42.1 534.7,43.5 535.3,44.9 C535.9,46.3 536.5,47.6 537.1,49.0 C537.7,50.4 538.3,51.7 538.9,53.1 C539.5,54.5 540.1,55.9 540.6,57.2 C541.2,58.6 541.8,60.0 542.4,61.4 C543.0,62.7 543.5,64.1 544.1,65.5 C544.7,66.9 545.3,68.3 545.9,69.6 C546.5,71.0 547.1,72.4 547.7,73.7 C548.4,75.1 549.0,76.4 549.7,77.8 C550.3,79.1 550.9,80.5 551.7,81.8 C552.4,83.1 553.2,84.4 554.0,85.7 C554.8,87.0 555.6,88.2 556.5,89.4 C557.3,90.7 558.3,91.8 559.2,93.0 C560.1,94.2 561.1,95.4 562.0,96.6 C563.0,97.7 564.0,98.9 565.0,100.0 C566.0,101.1 567.0,102.2 568.0,103.3 C569.0,104.4 570.0,105.6 571.1,106.6 C572.2,107.7 573.3,108.7 574.4,109.7 C575.5,110.7 576.6,111.7 577.8,112.7 C578.9,113.7 580.1,114.6 581.2,115.6 C582.4,116.5 583.6,117.5 584.7,118.4 C585.9,119.3 587.1,120.3 588.2,121.2 C589.4,122.1 590.6,123.0 591.8,123.9 C593.1,124.8 594.3,125.7 595.5,126.6 C596.7,127.4 598.0,128.3 599.2,129.1 C600.5,129.9 601.8,130.7 603.0,131.5 C604.3,132.3 605.6,133.1 606.9,133.8 C608.3,134.5 609.6,135.1 611.0,135.6 C612.4,136.1 613.9,136.6 615.4,136.7 C616.9,136.8 618.4,136.7 619.9,136.4 C621.3,136.2 622.8,135.8 624.2,135.4 C625.7,135.1 627.1,134.6 628.5,134.1 C629.9,133.6 631.3,133.1 632.7,132.5 C634.1,131.9 635.4,131.2 636.8,130.5 C638.1,129.8 639.4,129.1 640.7,128.3 C642.0,127.5 643.2,126.6 644.4,125.8 C645.7,124.9 646.9,124.0 648.1,123.1 C649.3,122.3 650.6,121.4 651.8,120.5 C653.0,119.7 654.3,118.9 655.6,118.1 C656.8,117.2 658.1,116.4 659.4,115.7 C660.7,114.9 662.0,114.3 663.4,113.6 C664.7,112.9 666.1,112.2 667.4,111.6 C668.8,111.0 670.2,110.4 671.6,109.9 C673.0,109.3 674.4,108.8 675.8,108.3 C677.2,107.8 677.7,107.6 680.0,106.9 C682.3,106.1 687.9,104.2 689.5,103.7" fill="none" stroke="#9cc01c" stroke-width="15.0" stroke-linecap="butt"/>
<path d="M527.4,22.7 C527.9,24.2 529.9,29.8 530.7,32.1 C531.5,34.4 531.7,34.9 532.2,36.3 C532.8,37.7 533.3,39.1 533.9,40.5 C534.5,41.9 535.1,43.3 535.7,44.7 C536.2,46.0 536.9,47.4 537.5,48.8 C538.0,50.1 538.6,51.5 539.2,52.9 C539.8,54.3 540.4,55.6 541.0,57.0 C541.5,58.4 542.1,59.8 542.7,61.1 C543.3,62.5 543.8,63.9 544.4,65.3 C545.0,66.7 545.6,68.0 546.2,69.4 C546.8,70.8 547.4,72.1 548.0,73.5 C548.6,74.8 549.3,76.2 549.9,77.5 C550.6,78.9 551.2,80.3 551.9,81.6 C552.6,82.9 553.4,84.2 554.2,85.4 C555.0,86.7 555.8,88.0 556.7,89.2 C557.5,90.4 558.5,91.6 559.4,92.8 C560.3,94.0 561.3,95.1 562.2,96.3 C563.2,97.5 564.2,98.6 565.2,99.7 C566.2,100.8 567.2,102.0 568.2,103.1 C569.2,104.2 570.2,105.3 571.3,106.3 C572.3,107.4 573.5,108.4 574.6,109.4 C575.7,110.4 576.8,111.4 577.9,112.4 C579.1,113.4 580.3,114.3 581.4,115.2 C582.6,116.2 583.7,117.1 584.9,118.1 C586.1,119.0 587.2,120.0 588.4,120.9 C589.6,121.8 590.8,122.7 592.0,123.6 C593.2,124.5 594.4,125.4 595.7,126.2 C596.9,127.1 598.2,127.9 599.4,128.7 C600.7,129.5 601.9,130.4 603.2,131.1 C604.5,131.9 605.8,132.7 607.1,133.4 C608.4,134.1 609.7,134.8 611.1,135.3 C612.5,135.8 614.0,136.2 615.5,136.3 C617.0,136.5 618.5,136.3 620.0,136.1 C621.5,135.9 622.9,135.5 624.3,135.1 C625.8,134.7 627.2,134.2 628.6,133.7 C630.0,133.2 631.4,132.7 632.8,132.1 C634.2,131.5 635.5,130.8 636.8,130.1 C638.2,129.4 639.5,128.7 640.8,127.9 C642.0,127.1 643.3,126.2 644.5,125.4 C645.7,124.5 646.9,123.6 648.2,122.7 C649.4,121.9 650.6,121.0 651.8,120.2 C653.1,119.3 654.3,118.5 655.6,117.7 C656.9,116.9 658.1,116.1 659.4,115.3 C660.7,114.6 662.1,113.9 663.4,113.2 C664.7,112.5 666.1,111.9 667.5,111.3 C668.8,110.6 670.2,110.1 671.6,109.5 C673.0,109.0 674.4,108.4 675.8,107.9 C677.2,107.5 677.7,107.3 680.0,106.6 C682.3,105.8 688.0,104.0 689.5,103.5" fill="none" stroke="#b4d82a" stroke-width="7.7" stroke-linecap="butt"/>
<path d="M518.6,27.3 C519.1,28.9 520.9,34.5 521.7,36.9 C522.4,39.2 522.6,39.9 523.1,41.3 C523.6,42.8 524.2,44.3 524.8,45.7 C525.4,47.2 526.1,48.6 526.8,50.0 C527.4,51.4 528.2,52.8 528.9,54.2 C529.6,55.6 530.3,57.0 531.0,58.4 C531.8,59.8 532.5,61.2 533.2,62.6 C533.9,63.9 534.7,65.3 535.4,66.7 C536.1,68.1 536.8,69.5 537.5,70.9 C538.2,72.3 538.9,73.7 539.6,75.1 C540.3,76.5 541.1,77.9 541.8,79.3 C542.6,80.6 543.3,82.0 544.1,83.4 C544.8,84.8 545.5,86.2 546.4,87.5 C547.2,88.9 548.0,90.2 548.9,91.5 C549.8,92.8 550.7,94.0 551.6,95.3 C552.5,96.6 553.4,97.9 554.4,99.1 C555.3,100.4 556.3,101.6 557.3,102.9 C558.3,104.1 559.3,105.2 560.3,106.4 C561.4,107.6 562.4,108.8 563.4,110.0 C564.5,111.2 565.5,112.3 566.6,113.5 C567.7,114.6 568.9,115.7 570.0,116.7 C571.1,117.8 572.3,118.9 573.4,120.0 C574.6,121.1 575.7,122.1 576.9,123.2 C578.1,124.2 579.2,125.3 580.4,126.3 C581.6,127.4 582.7,128.4 583.9,129.4 C585.1,130.5 586.3,131.4 587.6,132.4 C588.8,133.4 590.0,134.3 591.3,135.3 C592.6,136.2 593.9,137.0 595.2,137.9 C596.6,138.7 597.9,139.5 599.3,140.3 C600.7,141.0 602.0,141.8 603.5,142.4 C604.9,143.0 606.4,143.6 607.9,144.1 C609.3,144.5 610.9,145.0 612.4,145.2 C614.0,145.4 615.6,145.3 617.1,145.2 C618.7,145.1 620.2,144.8 621.7,144.5 C623.3,144.2 624.8,143.9 626.3,143.4 C627.8,142.9 629.3,142.4 630.7,141.8 C632.2,141.2 633.6,140.5 635.0,139.8 C636.4,139.1 637.8,138.4 639.2,137.6 C640.5,136.8 641.8,135.9 643.1,135.0 C644.4,134.1 645.7,133.2 647.0,132.3 C648.3,131.4 649.5,130.5 650.8,129.6 C652.1,128.7 653.4,127.8 654.7,126.9 C656.0,126.1 657.4,125.2 658.7,124.4 C660.0,123.6 661.4,122.8 662.7,122.0 C664.1,121.2 665.5,120.5 666.9,119.8 C668.3,119.1 669.7,118.4 671.1,117.7 C672.5,117.1 674.0,116.4 675.4,115.8 C676.8,115.2 677.5,114.9 679.7,113.9 C681.9,112.9 687.3,110.6 688.9,109.9" fill="none" stroke="#a8a440" stroke-opacity="0.80" stroke-width="6.0"/>
</g>
<path d="M526.4,23.2 C527.0,24.7 528.9,30.3 529.8,32.6 C530.6,34.9 530.7,35.5 531.3,36.9 C531.8,38.3 532.3,39.7 532.9,41.1 C533.5,42.5 534.1,43.9 534.7,45.2 C535.3,46.6 535.9,48.0 536.5,49.4 C537.1,50.7 537.7,52.1 538.3,53.5 C538.9,54.9 539.5,56.2 540.1,57.6 C540.7,59.0 541.3,60.4 541.9,61.7 C542.5,63.1 543.0,64.5 543.6,65.9 C544.2,67.3 544.8,68.6 545.5,70.0 C546.1,71.4 546.7,72.7 547.3,74.1 C548.0,75.5 548.6,76.8 549.3,78.2 C550.0,79.5 550.6,80.9 551.3,82.2 C552.0,83.5 552.8,84.8 553.6,86.1 C554.4,87.4 555.3,88.6 556.1,89.9 C557.0,91.1 557.9,92.3 558.9,93.5 C559.8,94.6 560.7,95.8 561.7,97.0 C562.7,98.2 563.7,99.3 564.6,100.4 C565.6,101.6 566.6,102.7 567.7,103.8 C568.7,104.9 569.7,106.0 570.8,107.1 C571.8,108.2 573.0,109.2 574.1,110.2 C575.2,111.2 576.3,112.2 577.5,113.2 C578.6,114.2 579.8,115.1 580.9,116.1 C582.1,117.0 583.3,118.0 584.4,119.0 C585.6,119.9 586.7,120.9 587.9,121.8 C589.1,122.7 590.3,123.6 591.6,124.5 C592.8,125.4 594.0,126.3 595.2,127.2 C596.4,128.0 597.7,128.9 599.0,129.7 C600.2,130.5 601.5,131.3 602.8,132.1 C604.1,132.9 605.4,133.7 606.7,134.4 C608.0,135.1 609.4,135.7 610.8,136.2 C612.2,136.7 613.7,137.2 615.2,137.3 C616.6,137.4 618.2,137.3 619.7,137.1 C621.2,136.9 622.6,136.5 624.0,136.1 C625.5,135.7 626.9,135.3 628.4,134.8 C629.8,134.3 631.2,133.7 632.6,133.1 C634.0,132.5 635.3,131.9 636.6,131.2 C638.0,130.5 639.3,129.7 640.6,129.0 C641.9,128.2 643.1,127.3 644.3,126.4 C645.6,125.5 646.8,124.6 648.0,123.8 C649.3,122.9 650.5,122.0 651.7,121.2 C653.0,120.3 654.2,119.5 655.5,118.7 C656.8,117.9 658.1,117.0 659.4,116.3 C660.7,115.5 662.0,114.8 663.3,114.2 C664.7,113.5 666.0,112.8 667.4,112.2 C668.8,111.5 670.2,111.0 671.6,110.4 C672.9,109.8 674.3,109.3 675.8,108.8 C677.2,108.3 677.7,108.1 680.0,107.4 C682.3,106.6 687.9,104.7 689.5,104.1" fill="none" stroke="#000" stroke-opacity="0.25" stroke-width="33.4" stroke-dasharray="1.1 1.1"/>
<path d="M537.2,17.4 C537.8,19.0 540.1,24.5 541.0,26.7 C541.9,28.9 542.0,29.3 542.6,30.6 C543.1,32.0 543.6,33.3 544.2,34.6 C544.7,35.9 545.2,37.2 545.7,38.6 C546.2,39.9 546.7,41.2 547.2,42.6 C547.6,43.9 548.1,45.3 548.5,46.6 C548.9,48.0 549.3,49.4 549.7,50.7 C550.1,52.1 550.6,53.4 551.0,54.8 C551.4,56.2 551.8,57.5 552.2,58.9 C552.6,60.2 553.1,61.6 553.6,62.9 C554.1,64.3 554.5,65.6 555.0,66.9 C555.5,68.3 556.0,69.6 556.6,70.9 C557.1,72.2 557.6,73.6 558.2,74.9 C558.8,76.2 559.5,77.4 560.2,78.6 C560.9,79.9 561.6,81.1 562.4,82.3 C563.2,83.4 564.2,84.5 565.1,85.6 C566.0,86.7 566.9,87.8 567.8,88.9 C568.8,90.0 569.7,91.0 570.6,92.1 C571.6,93.2 572.6,94.2 573.6,95.2 C574.5,96.2 575.5,97.3 576.6,98.3 C577.6,99.2 578.7,100.1 579.8,101.0 C580.9,102.0 582.0,102.9 583.1,103.8 C584.2,104.6 585.4,105.4 586.5,106.3 C587.7,107.1 588.9,107.9 590.0,108.7 C591.2,109.6 592.4,110.4 593.5,111.2 C594.7,112.0 595.9,112.8 597.1,113.6 C598.2,114.4 599.4,115.2 600.6,116.0 C601.8,116.8 603.0,117.6 604.1,118.4 C605.3,119.2 606.5,120.0 607.6,120.8 C608.8,121.6 610.0,122.5 611.2,123.2 C612.4,124.0 613.6,124.8 614.9,125.3 C616.2,125.8 617.6,126.2 619.0,126.3 C620.4,126.4 621.8,126.1 623.2,125.7 C624.6,125.4 625.9,124.8 627.2,124.3 C628.6,123.9 629.9,123.4 631.2,122.8 C632.6,122.3 633.9,121.7 635.2,121.1 C636.4,120.5 637.7,119.9 638.9,119.2 C640.2,118.5 641.4,117.7 642.6,117.0 C643.8,116.2 644.9,115.3 646.1,114.5 C647.2,113.7 648.3,112.7 649.5,111.9 C650.6,111.1 651.8,110.3 653.0,109.5 C654.2,108.7 655.4,108.0 656.6,107.2 C657.8,106.5 659.0,105.7 660.3,105.0 C661.5,104.4 662.9,103.9 664.2,103.3 C665.5,102.7 666.8,102.1 668.1,101.6 C669.4,101.1 670.8,100.6 672.1,100.2 C673.5,99.8 674.9,99.4 676.2,99.1 C677.6,98.7 678.1,98.7 680.4,98.2 C682.7,97.8 688.6,96.6 690.2,96.2" fill="none" stroke="#000" stroke-opacity="0.22" stroke-width="0.8"/>
<path d="M535.0,18.6 C535.7,20.1 537.8,25.6 538.7,27.9 C539.6,30.1 539.8,30.5 540.3,31.9 C540.8,33.2 541.4,34.6 541.9,35.9 C542.5,37.2 543.0,38.6 543.5,39.9 C544.1,41.2 544.6,42.6 545.0,43.9 C545.5,45.3 546.0,46.7 546.5,48.0 C546.9,49.4 547.4,50.7 547.8,52.1 C548.3,53.5 548.7,54.8 549.2,56.2 C549.6,57.6 550.0,58.9 550.5,60.3 C551.0,61.6 551.5,63.0 552.0,64.3 C552.5,65.7 552.9,67.0 553.5,68.4 C554.0,69.7 554.6,71.0 555.1,72.4 C555.7,73.7 556.2,75.1 556.8,76.3 C557.4,77.6 558.1,78.9 558.9,80.1 C559.6,81.4 560.3,82.6 561.2,83.8 C562.0,84.9 563.0,86.0 563.9,87.2 C564.8,88.3 565.7,89.4 566.6,90.5 C567.5,91.6 568.5,92.7 569.4,93.8 C570.4,94.8 571.4,95.9 572.4,96.9 C573.4,98.0 574.4,99.0 575.4,100.0 C576.4,101.0 577.6,101.9 578.7,102.9 C579.7,103.8 580.8,104.8 582.0,105.6 C583.1,106.5 584.3,107.4 585.4,108.2 C586.6,109.1 587.7,109.9 588.9,110.8 C590.1,111.6 591.2,112.5 592.4,113.3 C593.6,114.1 594.8,114.9 596.0,115.8 C597.1,116.6 598.3,117.4 599.5,118.2 C600.7,119.0 601.9,119.8 603.1,120.6 C604.3,121.4 605.5,122.3 606.7,123.1 C607.9,123.9 609.0,124.7 610.3,125.4 C611.5,126.2 612.7,127.0 614.1,127.5 C615.4,128.0 616.8,128.4 618.2,128.5 C619.6,128.6 621.1,128.3 622.5,128.0 C623.9,127.7 625.3,127.2 626.6,126.7 C628.0,126.2 629.3,125.7 630.7,125.2 C632.0,124.7 633.3,124.1 634.6,123.5 C635.9,122.9 637.2,122.3 638.5,121.6 C639.7,120.9 641.0,120.1 642.2,119.4 C643.4,118.6 644.6,117.7 645.7,116.9 C646.9,116.0 648.0,115.1 649.2,114.3 C650.4,113.4 651.5,112.6 652.7,111.8 C653.9,111.0 655.2,110.3 656.4,109.5 C657.6,108.8 658.8,108.0 660.1,107.3 C661.4,106.6 662.7,106.1 664.0,105.5 C665.3,104.9 666.6,104.2 668.0,103.7 C669.3,103.2 670.7,102.7 672.0,102.3 C673.4,101.8 674.8,101.4 676.1,101.0 C677.5,100.6 678.0,100.6 680.3,100.1 C682.7,99.5 688.5,98.2 690.1,97.8" fill="none" stroke="#000" stroke-opacity="0.22" stroke-width="0.8"/>
<path d="M532.9,19.7 C533.5,21.3 535.6,26.8 536.5,29.1 C537.3,31.3 537.5,31.8 538.0,33.1 C538.6,34.5 539.1,35.8 539.7,37.2 C540.2,38.5 540.8,39.9 541.3,41.2 C541.9,42.6 542.4,43.9 542.9,45.3 C543.4,46.7 543.9,48.0 544.4,49.4 C544.9,50.7 545.4,52.1 545.9,53.5 C546.4,54.8 546.9,56.2 547.3,57.6 C547.8,58.9 548.3,60.3 548.8,61.7 C549.3,63.0 549.8,64.4 550.3,65.8 C550.9,67.1 551.4,68.5 551.9,69.8 C552.5,71.2 553.1,72.5 553.7,73.8 C554.2,75.2 554.8,76.5 555.4,77.8 C556.1,79.1 556.8,80.4 557.6,81.6 C558.3,82.9 559.1,84.1 559.9,85.3 C560.8,86.5 561.7,87.6 562.6,88.7 C563.5,89.9 564.4,91.0 565.4,92.1 C566.3,93.2 567.3,94.3 568.2,95.4 C569.2,96.5 570.2,97.6 571.2,98.6 C572.2,99.7 573.2,100.8 574.2,101.8 C575.3,102.8 576.4,103.7 577.5,104.7 C578.6,105.6 579.7,106.6 580.8,107.5 C582.0,108.5 583.1,109.3 584.3,110.2 C585.5,111.1 586.6,112.0 587.8,112.8 C588.9,113.7 590.1,114.6 591.3,115.4 C592.5,116.3 593.7,117.1 594.9,117.9 C596.0,118.8 597.2,119.6 598.4,120.5 C599.6,121.3 600.9,122.1 602.1,122.9 C603.3,123.7 604.5,124.5 605.7,125.3 C606.9,126.1 608.1,127.0 609.4,127.7 C610.6,128.4 611.9,129.2 613.2,129.7 C614.6,130.2 616.0,130.6 617.5,130.7 C618.9,130.8 620.4,130.5 621.8,130.3 C623.2,130.0 624.6,129.5 626.0,129.0 C627.3,128.6 628.7,128.1 630.1,127.6 C631.4,127.1 632.8,126.5 634.1,125.9 C635.4,125.3 636.7,124.7 638.0,124.0 C639.3,123.3 640.6,122.5 641.8,121.8 C643.0,121.0 644.2,120.1 645.4,119.3 C646.6,118.4 647.7,117.5 648.9,116.7 C650.1,115.8 651.3,115.0 652.5,114.2 C653.7,113.3 654.9,112.6 656.2,111.8 C657.4,111.0 658.6,110.2 659.9,109.5 C661.2,108.8 662.5,108.3 663.8,107.6 C665.2,107.0 666.5,106.4 667.8,105.8 C669.2,105.3 670.5,104.8 671.9,104.3 C673.3,103.8 674.7,103.4 676.0,103.0 C677.4,102.6 677.9,102.5 680.2,101.9 C682.6,101.3 688.3,99.8 689.9,99.4" fill="none" stroke="#000" stroke-opacity="0.22" stroke-width="0.8"/>
<path d="M530.7,20.9 C531.3,22.4 533.4,28.0 534.2,30.2 C535.1,32.5 535.3,33.0 535.8,34.4 C536.3,35.8 536.9,37.1 537.4,38.5 C538.0,39.9 538.6,41.2 539.1,42.6 C539.7,43.9 540.2,45.3 540.8,46.7 C541.3,48.0 541.9,49.4 542.4,50.7 C542.9,52.1 543.5,53.5 544.0,54.9 C544.5,56.2 545.0,57.6 545.5,59.0 C546.0,60.3 546.5,61.7 547.1,63.1 C547.6,64.5 548.2,65.8 548.7,67.2 C549.3,68.5 549.8,69.9 550.4,71.2 C551.0,72.6 551.6,73.9 552.2,75.3 C552.8,76.6 553.4,78.0 554.0,79.3 C554.7,80.6 555.5,81.8 556.2,83.1 C557.0,84.4 557.8,85.6 558.7,86.8 C559.5,88.0 560.5,89.2 561.4,90.3 C562.3,91.5 563.2,92.6 564.2,93.7 C565.1,94.9 566.1,96.0 567.0,97.1 C568.0,98.2 569.0,99.3 570.0,100.4 C571.0,101.4 572.0,102.5 573.1,103.6 C574.1,104.6 575.3,105.5 576.4,106.5 C577.5,107.5 578.6,108.5 579.7,109.4 C580.8,110.4 582.0,111.3 583.2,112.2 C584.3,113.1 585.5,114.0 586.7,114.9 C587.8,115.8 589.0,116.7 590.2,117.5 C591.4,118.4 592.6,119.3 593.8,120.1 C595.0,121.0 596.1,121.9 597.4,122.7 C598.6,123.5 599.8,124.4 601.0,125.2 C602.3,126.0 603.5,126.8 604.7,127.6 C606.0,128.4 607.2,129.2 608.5,129.9 C609.8,130.6 611.1,131.3 612.4,131.8 C613.8,132.3 615.3,132.8 616.7,132.9 C618.1,133.0 619.7,132.8 621.1,132.5 C622.5,132.3 623.9,131.8 625.3,131.4 C626.7,131.0 628.1,130.5 629.5,130.0 C630.9,129.5 632.3,128.9 633.6,128.3 C635.0,127.7 636.3,127.1 637.6,126.4 C638.9,125.7 640.2,124.9 641.4,124.2 C642.6,123.4 643.8,122.5 645.0,121.6 C646.2,120.8 647.4,119.9 648.6,119.0 C649.8,118.2 651.0,117.3 652.2,116.5 C653.5,115.7 654.7,114.9 656.0,114.1 C657.2,113.3 658.4,112.5 659.7,111.8 C661.0,111.1 662.4,110.5 663.7,109.8 C665.0,109.2 666.3,108.5 667.7,107.9 C669.0,107.3 670.4,106.8 671.8,106.3 C673.2,105.8 674.6,105.3 675.9,104.9 C677.3,104.5 677.9,104.4 680.2,103.7 C682.5,103.0 688.2,101.4 689.8,101.0" fill="none" stroke="#000" stroke-opacity="0.22" stroke-width="0.8"/>
<path d="M528.6,22.0 C529.1,23.6 531.2,29.1 532.0,31.4 C532.8,33.7 533.0,34.2 533.5,35.6 C534.0,37.0 534.6,38.4 535.2,39.8 C535.7,41.2 536.3,42.5 536.9,43.9 C537.5,45.3 538.1,46.6 538.7,48.0 C539.2,49.4 539.8,50.7 540.4,52.1 C540.9,53.5 541.5,54.9 542.0,56.2 C542.6,57.6 543.2,59.0 543.7,60.3 C544.3,61.7 544.8,63.1 545.3,64.5 C545.9,65.9 546.5,67.2 547.1,68.6 C547.7,70.0 548.3,71.3 548.9,72.7 C549.5,74.0 550.1,75.4 550.8,76.7 C551.4,78.1 552.0,79.4 552.7,80.8 C553.4,82.1 554.1,83.3 554.9,84.6 C555.7,85.9 556.5,87.1 557.4,88.3 C558.3,89.5 559.2,90.7 560.1,91.9 C561.0,93.1 562.0,94.2 562.9,95.4 C563.9,96.5 564.9,97.6 565.8,98.8 C566.8,99.9 567.8,101.0 568.8,102.1 C569.9,103.2 570.9,104.3 571.9,105.3 C573.0,106.4 574.1,107.3 575.2,108.3 C576.3,109.3 577.5,110.3 578.6,111.3 C579.7,112.3 580.9,113.2 582.1,114.1 C583.2,115.1 584.4,116.0 585.5,116.9 C586.7,117.8 587.9,118.8 589.1,119.7 C590.2,120.6 591.4,121.4 592.7,122.3 C593.9,123.2 595.1,124.1 596.3,124.9 C597.5,125.8 598.8,126.6 600.0,127.4 C601.2,128.3 602.5,129.1 603.8,129.9 C605.0,130.6 606.3,131.4 607.6,132.1 C608.9,132.8 610.2,133.5 611.6,134.0 C613.0,134.5 614.5,135.0 615.9,135.1 C617.4,135.2 618.9,135.0 620.4,134.8 C621.8,134.6 623.3,134.1 624.7,133.7 C626.1,133.3 627.5,132.9 628.9,132.4 C630.3,131.9 631.7,131.3 633.1,130.7 C634.5,130.1 635.8,129.5 637.1,128.8 C638.4,128.1 639.7,127.3 641.0,126.6 C642.3,125.8 643.5,124.9 644.7,124.0 C645.9,123.2 647.1,122.3 648.3,121.4 C649.5,120.5 650.7,119.7 652.0,118.8 C653.2,118.0 654.5,117.2 655.7,116.4 C657.0,115.6 658.2,114.8 659.5,114.0 C660.8,113.3 662.2,112.6 663.5,112.0 C664.8,111.3 666.2,110.7 667.5,110.0 C668.9,109.4 670.3,108.9 671.7,108.4 C673.1,107.8 674.4,107.3 675.9,106.8 C677.3,106.4 677.8,106.2 680.1,105.5 C682.4,104.8 688.0,103.0 689.6,102.5" fill="none" stroke="#000" stroke-opacity="0.22" stroke-width="0.8"/>
<path d="M526.4,23.2 C527.0,24.7 528.9,30.3 529.8,32.6 C530.6,34.9 530.7,35.5 531.3,36.9 C531.8,38.3 532.3,39.7 532.9,41.1 C533.5,42.5 534.1,43.9 534.7,45.2 C535.3,46.6 535.9,48.0 536.5,49.4 C537.1,50.7 537.7,52.1 538.3,53.5 C538.9,54.9 539.5,56.2 540.1,57.6 C540.7,59.0 541.3,60.4 541.9,61.7 C542.5,63.1 543.0,64.5 543.6,65.9 C544.2,67.3 544.8,68.6 545.5,70.0 C546.1,71.4 546.7,72.7 547.3,74.1 C548.0,75.5 548.6,76.8 549.3,78.2 C550.0,79.5 550.6,80.9 551.3,82.2 C552.0,83.5 552.8,84.8 553.6,86.1 C554.4,87.4 555.3,88.6 556.1,89.9 C557.0,91.1 557.9,92.3 558.9,93.5 C559.8,94.6 560.7,95.8 561.7,97.0 C562.7,98.2 563.7,99.3 564.6,100.4 C565.6,101.6 566.6,102.7 567.7,103.8 C568.7,104.9 569.7,106.0 570.8,107.1 C571.8,108.2 573.0,109.2 574.1,110.2 C575.2,111.2 576.3,112.2 577.5,113.2 C578.6,114.2 579.8,115.1 580.9,116.1 C582.1,117.0 583.3,118.0 584.4,119.0 C585.6,119.9 586.7,120.9 587.9,121.8 C589.1,122.7 590.3,123.6 591.6,124.5 C592.8,125.4 594.0,126.3 595.2,127.2 C596.4,128.0 597.7,128.9 599.0,129.7 C600.2,130.5 601.5,131.3 602.8,132.1 C604.1,132.9 605.4,133.7 606.7,134.4 C608.0,135.1 609.4,135.7 610.8,136.2 C612.2,136.7 613.7,137.2 615.2,137.3 C616.6,137.4 618.2,137.3 619.7,137.1 C621.2,136.9 622.6,136.5 624.0,136.1 C625.5,135.7 626.9,135.3 628.4,134.8 C629.8,134.3 631.2,133.7 632.6,133.1 C634.0,132.5 635.3,131.9 636.6,131.2 C638.0,130.5 639.3,129.7 640.6,129.0 C641.9,128.2 643.1,127.3 644.3,126.4 C645.6,125.5 646.8,124.6 648.0,123.8 C649.3,122.9 650.5,122.0 651.7,121.2 C653.0,120.3 654.2,119.5 655.5,118.7 C656.8,117.9 658.1,117.0 659.4,116.3 C660.7,115.5 662.0,114.8 663.3,114.2 C664.7,113.5 666.0,112.8 667.4,112.2 C668.8,111.5 670.2,111.0 671.6,110.4 C672.9,109.8 674.3,109.3 675.8,108.8 C677.2,108.3 677.7,108.1 680.0,107.4 C682.3,106.6 687.9,104.7 689.5,104.1" fill="none" stroke="#000" stroke-opacity="0.22" stroke-width="0.8"/>
<path d="M524.3,24.3 C524.8,25.9 526.7,31.5 527.5,33.8 C528.3,36.1 528.5,36.7 529.0,38.1 C529.5,39.5 530.1,41.0 530.7,42.4 C531.3,43.8 531.9,45.2 532.5,46.6 C533.1,48.0 533.8,49.3 534.4,50.7 C535.0,52.1 535.7,53.5 536.3,54.9 C536.9,56.2 537.6,57.6 538.2,59.0 C538.8,60.4 539.5,61.7 540.1,63.1 C540.7,64.5 541.3,65.9 541.9,67.3 C542.5,68.7 543.2,70.1 543.8,71.4 C544.5,72.8 545.1,74.2 545.8,75.5 C546.5,76.9 547.2,78.3 547.8,79.6 C548.5,81.0 549.2,82.4 549.9,83.7 C550.7,85.0 551.5,86.3 552.3,87.6 C553.1,88.9 554.0,90.1 554.9,91.4 C555.8,92.6 556.7,93.8 557.6,95.0 C558.6,96.2 559.5,97.4 560.5,98.6 C561.4,99.8 562.4,100.9 563.5,102.1 C564.5,103.3 565.5,104.4 566.5,105.5 C567.5,106.7 568.5,107.8 569.6,108.9 C570.7,109.9 571.8,111.0 573.0,112.0 C574.1,113.0 575.2,114.1 576.3,115.1 C577.5,116.1 578.7,117.1 579.8,118.1 C581.0,119.0 582.1,120.0 583.3,121.0 C584.5,122.0 585.6,123.0 586.8,123.9 C588.0,124.9 589.2,125.8 590.4,126.7 C591.7,127.6 592.9,128.5 594.1,129.4 C595.4,130.3 596.7,131.1 597.9,132.0 C599.2,132.8 600.5,133.6 601.8,134.4 C603.1,135.2 604.4,135.9 605.8,136.6 C607.2,137.3 608.5,137.9 610.0,138.4 C611.4,138.9 612.9,139.3 614.4,139.5 C615.9,139.7 617.5,139.5 619.0,139.3 C620.5,139.1 621.9,138.8 623.4,138.4 C624.9,138.1 626.3,137.7 627.8,137.2 C629.2,136.7 630.7,136.1 632.1,135.5 C633.5,134.9 634.8,134.3 636.2,133.6 C637.5,132.9 638.9,132.2 640.2,131.4 C641.5,130.6 642.7,129.7 644.0,128.8 C645.2,127.9 646.5,127.0 647.7,126.1 C649.0,125.3 650.2,124.4 651.5,123.5 C652.7,122.6 654.0,121.8 655.3,121.0 C656.6,120.1 657.9,119.3 659.2,118.5 C660.5,117.8 661.8,117.0 663.2,116.3 C664.5,115.6 665.9,114.9 667.3,114.3 C668.6,113.6 670.0,113.0 671.4,112.4 C672.8,111.8 674.2,111.3 675.7,110.7 C677.1,110.2 677.6,110.0 679.9,109.2 C682.2,108.3 687.7,106.3 689.3,105.7" fill="none" stroke="#000" stroke-opacity="0.22" stroke-width="0.8"/>
<path d="M522.1,25.5 C522.6,27.1 524.5,32.7 525.3,35.0 C526.0,37.3 526.2,37.9 526.7,39.4 C527.3,40.8 527.8,42.2 528.4,43.7 C529.0,45.1 529.6,46.5 530.3,47.9 C530.9,49.3 531.6,50.7 532.3,52.1 C532.9,53.5 533.6,54.8 534.3,56.2 C534.9,57.6 535.6,59.0 536.3,60.4 C537.0,61.7 537.6,63.1 538.3,64.5 C538.9,65.9 539.6,67.3 540.2,68.7 C540.9,70.1 541.5,71.5 542.2,72.9 C542.9,74.2 543.6,75.6 544.3,77.0 C545.0,78.3 545.7,79.7 546.4,81.1 C547.1,82.4 547.8,83.8 548.5,85.2 C549.3,86.5 550.2,87.8 551.0,89.1 C551.9,90.4 552.7,91.6 553.6,92.9 C554.5,94.1 555.4,95.4 556.4,96.6 C557.3,97.8 558.3,99.1 559.2,100.3 C560.2,101.4 561.2,102.6 562.3,103.8 C563.3,104.9 564.3,106.1 565.3,107.2 C566.3,108.4 567.4,109.5 568.5,110.6 C569.5,111.7 570.7,112.8 571.8,113.8 C572.9,114.9 574.1,115.9 575.2,117.0 C576.4,118.0 577.5,119.0 578.7,120.0 C579.9,121.0 581.0,122.0 582.2,123.0 C583.4,124.0 584.5,125.1 585.7,126.0 C586.9,127.0 588.1,127.9 589.3,128.9 C590.6,129.8 591.8,130.8 593.0,131.7 C594.3,132.6 595.6,133.4 596.9,134.2 C598.2,135.1 599.5,135.9 600.8,136.7 C602.2,137.4 603.5,138.2 604.9,138.8 C606.3,139.5 607.7,140.1 609.2,140.6 C610.6,141.0 612.1,141.5 613.6,141.7 C615.2,141.9 616.7,141.7 618.3,141.6 C619.8,141.4 621.3,141.1 622.8,140.8 C624.3,140.4 625.8,140.0 627.2,139.6 C628.7,139.1 630.1,138.5 631.5,137.9 C633.0,137.3 634.4,136.7 635.7,136.0 C637.1,135.3 638.5,134.6 639.8,133.8 C641.1,133.0 642.4,132.0 643.6,131.2 C644.9,130.3 646.2,129.4 647.4,128.5 C648.7,127.6 650.0,126.7 651.2,125.9 C652.5,125.0 653.8,124.1 655.1,123.3 C656.4,122.4 657.7,121.6 659.0,120.8 C660.3,120.0 661.6,119.2 663.0,118.5 C664.4,117.8 665.7,117.1 667.1,116.4 C668.5,115.7 669.9,115.1 671.3,114.5 C672.7,113.9 674.1,113.3 675.6,112.7 C677.0,112.1 677.6,111.9 679.8,111.0 C682.1,110.1 687.6,108.0 689.1,107.3" fill="none" stroke="#000" stroke-opacity="0.22" stroke-width="0.8"/>
<path d="M519.9,26.6 C520.4,28.2 522.3,33.8 523.0,36.2 C523.8,38.5 523.9,39.1 524.5,40.6 C525.0,42.1 525.6,43.5 526.2,45.0 C526.8,46.4 527.4,47.8 528.1,49.2 C528.7,50.6 529.5,52.0 530.1,53.4 C530.8,54.8 531.5,56.2 532.2,57.6 C533.0,59.0 533.7,60.3 534.4,61.7 C535.1,63.1 535.8,64.5 536.5,65.9 C537.1,67.3 537.8,68.7 538.5,70.1 C539.2,71.5 539.9,72.9 540.6,74.3 C541.3,75.7 542.0,77.0 542.7,78.4 C543.5,79.8 544.2,81.2 544.9,82.5 C545.7,83.9 546.4,85.3 547.2,86.6 C548.0,88.0 548.8,89.3 549.7,90.6 C550.6,91.9 551.5,93.1 552.4,94.4 C553.3,95.7 554.2,96.9 555.1,98.2 C556.1,99.4 557.0,100.7 558.0,101.9 C559.0,103.1 560.0,104.3 561.1,105.4 C562.1,106.6 563.1,107.8 564.1,109.0 C565.2,110.1 566.2,111.3 567.3,112.4 C568.4,113.5 569.6,114.6 570.7,115.6 C571.8,116.7 572.9,117.8 574.1,118.9 C575.2,119.9 576.4,120.9 577.6,122.0 C578.7,123.0 579.9,124.0 581.1,125.1 C582.2,126.1 583.4,127.2 584.6,128.2 C585.8,129.2 587.0,130.1 588.2,131.1 C589.5,132.0 590.7,133.0 592.0,133.9 C593.2,134.8 594.6,135.7 595.9,136.5 C597.2,137.3 598.5,138.2 599.9,138.9 C601.2,139.7 602.6,140.4 604.0,141.1 C605.4,141.7 606.9,142.3 608.3,142.8 C609.8,143.2 611.3,143.7 612.9,143.9 C614.4,144.1 616.0,144.0 617.5,143.8 C619.1,143.7 620.6,143.4 622.1,143.1 C623.6,142.8 625.2,142.4 626.6,142.0 C628.1,141.5 629.6,140.9 631.0,140.3 C632.5,139.7 633.9,139.1 635.3,138.4 C636.7,137.7 638.1,137.0 639.4,136.2 C640.7,135.4 642.0,134.4 643.3,133.6 C644.6,132.7 645.9,131.8 647.1,130.9 C648.4,130.0 649.7,129.1 651.0,128.2 C652.3,127.3 653.5,126.4 654.8,125.5 C656.1,124.7 657.5,123.9 658.8,123.1 C660.1,122.2 661.5,121.4 662.8,120.7 C664.2,119.9 665.6,119.2 667.0,118.5 C668.4,117.8 669.8,117.2 671.2,116.5 C672.6,115.9 674.0,115.2 675.5,114.6 C676.9,114.0 677.5,113.8 679.8,112.8 C682.0,111.9 687.4,109.6 689.0,109.0" fill="none" stroke="#000" stroke-opacity="0.22" stroke-width="0.8"/>
<path d="M517.8,27.8 C518.3,29.4 520.0,35.0 520.8,37.3 C521.5,39.7 521.7,40.4 522.2,41.8 C522.7,43.3 523.3,44.8 523.9,46.3 C524.5,47.7 525.2,49.1 525.9,50.6 C526.6,52.0 527.3,53.4 528.0,54.8 C528.7,56.2 529.5,57.6 530.2,59.0 C531.0,60.3 531.7,61.7 532.4,63.1 C533.2,64.5 533.9,65.9 534.6,67.3 C535.4,68.7 536.1,70.1 536.8,71.5 C537.5,72.9 538.2,74.3 538.9,75.7 C539.7,77.1 540.4,78.5 541.2,79.8 C542.0,81.2 542.7,82.6 543.5,84.0 C544.3,85.3 545.0,86.8 545.8,88.1 C546.6,89.4 547.5,90.7 548.4,92.1 C549.3,93.4 550.2,94.6 551.1,95.9 C552.0,97.2 552.9,98.5 553.9,99.8 C554.8,101.0 555.8,102.3 556.8,103.5 C557.8,104.7 558.8,105.9 559.9,107.1 C560.9,108.3 561.9,109.5 563.0,110.7 C564.0,111.9 565.1,113.0 566.2,114.2 C567.3,115.3 568.4,116.4 569.5,117.5 C570.7,118.6 571.8,119.7 573.0,120.8 C574.1,121.8 575.3,122.9 576.5,123.9 C577.6,125.0 578.8,126.1 580.0,127.1 C581.1,128.2 582.3,129.3 583.5,130.3 C584.7,131.3 585.9,132.3 587.1,133.3 C588.4,134.2 589.6,135.2 590.9,136.2 C592.2,137.1 593.5,137.9 594.8,138.8 C596.2,139.6 597.5,140.4 598.9,141.2 C600.3,141.9 601.7,142.7 603.1,143.3 C604.6,143.9 606.0,144.5 607.5,144.9 C609.0,145.4 610.6,145.9 612.1,146.1 C613.7,146.3 615.3,146.2 616.8,146.1 C618.4,146.0 619.9,145.8 621.5,145.5 C623.0,145.2 624.6,144.8 626.1,144.3 C627.6,143.9 629.1,143.3 630.5,142.7 C632.0,142.1 633.4,141.5 634.8,140.8 C636.2,140.1 637.6,139.4 639.0,138.6 C640.4,137.8 641.6,136.8 642.9,135.9 C644.3,135.1 645.6,134.2 646.9,133.3 C648.2,132.4 649.4,131.4 650.7,130.5 C652.0,129.6 653.3,128.7 654.6,127.8 C655.9,127.0 657.3,126.1 658.6,125.3 C660.0,124.5 661.3,123.6 662.7,122.9 C664.0,122.1 665.4,121.4 666.8,120.7 C668.2,119.9 669.7,119.2 671.1,118.5 C672.5,117.9 673.9,117.2 675.4,116.6 C676.8,115.9 677.4,115.6 679.7,114.7 C681.9,113.7 687.3,111.3 688.8,110.6" fill="none" stroke="#000" stroke-opacity="0.22" stroke-width="0.8"/>
<path d="M515.6,29.0 C516.1,30.6 517.8,36.2 518.5,38.5 C519.3,40.9 519.4,41.6 519.9,43.1 C520.5,44.6 521.1,46.1 521.7,47.6 C522.3,49.0 523.0,50.5 523.7,51.9 C524.4,53.3 525.1,54.7 525.9,56.1 C526.6,57.5 527.4,58.9 528.2,60.3 C529.0,61.7 529.8,63.1 530.5,64.5 C531.3,65.9 532.1,67.3 532.8,68.7 C533.6,70.1 534.3,71.5 535.1,72.9 C535.8,74.3 536.5,75.7 537.3,77.1 C538.1,78.5 538.9,79.9 539.7,81.3 C540.4,82.7 541.2,84.0 542.0,85.4 C542.8,86.8 543.6,88.2 544.4,89.6 C545.3,90.9 546.2,92.2 547.1,93.5 C548.0,94.9 548.9,96.2 549.8,97.5 C550.8,98.8 551.7,100.1 552.6,101.3 C553.6,102.6 554.6,103.9 555.6,105.1 C556.6,106.4 557.6,107.6 558.7,108.8 C559.7,110.0 560.7,111.2 561.8,112.4 C562.8,113.6 563.9,114.8 565.0,115.9 C566.1,117.1 567.3,118.2 568.4,119.3 C569.5,120.4 570.7,121.5 571.8,122.6 C573.0,123.7 574.2,124.8 575.3,125.9 C576.5,127.0 577.7,128.1 578.8,129.2 C580.0,130.2 581.1,131.4 582.3,132.4 C583.5,133.5 584.8,134.4 586.0,135.4 C587.3,136.4 588.5,137.5 589.8,138.4 C591.1,139.3 592.5,140.2 593.8,141.0 C595.2,141.9 596.5,142.7 597.9,143.4 C599.3,144.2 600.8,144.9 602.2,145.5 C603.7,146.2 605.2,146.7 606.7,147.1 C608.2,147.6 609.8,148.1 611.3,148.3 C612.9,148.5 614.5,148.5 616.1,148.4 C617.7,148.3 619.3,148.1 620.8,147.8 C622.4,147.5 624.0,147.2 625.5,146.7 C627.0,146.3 628.5,145.7 630.0,145.1 C631.5,144.5 632.9,143.9 634.4,143.2 C635.8,142.5 637.2,141.8 638.6,141.0 C640.0,140.2 641.3,139.2 642.6,138.3 C643.9,137.4 645.2,136.5 646.6,135.6 C647.9,134.7 649.2,133.8 650.5,132.9 C651.8,132.0 653.1,131.0 654.4,130.1 C655.7,129.2 657.1,128.4 658.4,127.6 C659.8,126.7 661.1,125.8 662.5,125.0 C663.9,124.2 665.3,123.5 666.7,122.8 C668.1,122.0 669.5,121.3 671.0,120.6 C672.4,119.9 673.8,119.2 675.3,118.5 C676.7,117.8 677.4,117.5 679.6,116.5 C681.8,115.4 687.1,112.9 688.6,112.2" fill="none" stroke="#000" stroke-opacity="0.22" stroke-width="0.8"/>
</g>
<path d="M543.2,25.5 C544.0,26.6 544.9,29.4 545.7,31.4 C546.5,33.4 547.3,35.5 548.0,37.5 C548.8,39.5 549.5,41.5 550.1,43.5 C550.7,45.6 551.2,47.6 551.8,49.9 C552.4,52.2 553.1,54.7 553.9,57.5 C554.8,60.2 555.9,63.7 556.9,66.6 C557.9,69.5 559.0,72.4 560.0,74.8 C561.1,77.1 562.2,78.6 563.5,80.5 C564.8,82.3 566.4,84.1 567.9,85.9 C569.5,87.8 571.2,89.8 572.9,91.6 C574.6,93.4 576.2,95.2 578.0,96.8 C579.9,98.5 581.8,100.0 583.7,101.5 C585.7,103.0 587.7,104.4 589.7,105.7 C591.7,107.1 593.6,108.4 595.6,109.7 C597.6,111.0 599.6,112.3 601.5,113.6 C603.4,114.9 605.3,116.2 607.0,117.3 C608.6,118.5 610.0,119.6 611.4,120.6 C612.8,121.5 614.1,122.4 615.4,123.0 C616.7,123.6 617.9,124.1 619.3,124.2 C620.7,124.2 622.0,124.0 623.9,123.5 C625.7,123.0 627.9,122.1 630.2,121.2 C632.5,120.2 635.2,119.1 637.5,117.9 C639.9,116.7 642.0,115.3 644.4,113.7 C646.7,112.1 648.9,110.0 651.5,108.2 C654.2,106.4 657.4,104.3 660.3,102.8 C663.1,101.4 666.1,100.2 668.6,99.3 C671.0,98.4 673.1,97.8 675.0,97.3 C677.0,96.9 679.2,96.0 680.5,96.4 C681.8,96.8 682.6,98.0 683.1,99.6 C683.6,101.2 683.8,103.5 683.7,105.8 C683.6,108.0 683.3,111.0 682.6,113.1 C681.9,115.2 681.4,116.7 679.5,118.3 C677.6,119.9 674.0,121.0 671.2,122.4 C668.4,123.9 665.7,125.2 662.9,126.9 C660.1,128.5 657.1,130.4 654.2,132.4 C651.3,134.4 648.1,136.8 645.4,138.6 C642.7,140.5 640.2,142.2 637.8,143.6 C635.4,145.0 633.3,146.0 631.0,147.0 C628.7,148.0 626.5,148.8 624.2,149.4 C622.0,150.0 619.8,150.5 617.5,150.7 C615.2,150.9 612.9,150.9 610.4,150.5 C608.0,150.1 605.3,149.4 602.8,148.5 C600.3,147.5 597.6,146.2 595.2,144.9 C592.7,143.5 590.4,141.9 588.1,140.2 C585.8,138.6 583.7,136.7 581.6,134.9 C579.5,133.0 577.6,131.1 575.6,129.2 C573.7,127.4 572.1,125.9 569.9,123.8 C567.7,121.6 565.5,119.6 562.7,116.5 C559.9,113.5 556.3,109.4 553.2,105.4 C550.0,101.3 546.5,96.5 543.7,92.1 C540.9,87.8 538.4,83.3 536.2,79.4 C533.9,75.4 532.1,71.9 530.2,68.5 C528.3,65.2 526.4,62.3 524.8,59.4 C523.2,56.5 521.5,53.6 520.3,51.1 C519.1,48.6 518.4,46.5 517.8,44.6 C517.1,42.7 515.7,41.2 516.3,39.7 C516.9,38.2 519.2,37.5 521.1,35.9 C523.0,34.3 525.7,31.6 527.7,30.2 C529.8,28.8 531.2,28.3 533.4,27.4 C535.6,26.5 539.3,25.3 540.9,25.0 C542.5,24.7 542.4,24.4 543.2,25.5Z" fill="none" stroke="#1c2602" stroke-width="1" opacity="0.9"/>
<clipPath id="tc2"><path d="M532.8,175.3 C534.4,175.4 536.9,176.8 539.0,177.6 C541.2,178.5 543.4,179.5 545.7,180.6 C547.9,181.7 550.4,183.0 552.8,184.4 C555.2,185.7 557.7,187.2 560.1,188.6 C562.5,190.1 564.9,191.5 567.2,192.9 C569.5,194.2 571.7,195.5 573.9,196.8 C576.1,198.0 578.3,199.1 580.4,200.4 C582.6,201.6 584.7,202.7 586.8,204.0 C588.8,205.2 590.8,206.5 592.9,208.0 C594.9,209.4 597.0,210.9 599.1,212.5 C601.3,214.1 603.6,215.9 605.9,217.5 C608.2,219.2 610.6,220.9 613.0,222.5 C615.4,224.1 617.8,225.7 620.3,227.3 C622.7,228.9 625.2,230.6 627.6,232.2 C629.9,233.7 632.2,235.3 634.4,236.9 C636.6,238.4 638.6,239.9 640.6,241.4 C642.6,242.9 644.4,244.4 646.3,246.0 C648.2,247.6 650.1,249.2 652.0,251.0 C653.9,252.7 655.8,254.6 657.7,256.5 C659.6,258.4 661.5,260.4 663.4,262.2 C665.3,264.1 667.1,266.1 669.0,267.9 C670.9,269.7 672.7,271.4 674.6,273.1 C676.5,274.9 678.4,276.5 680.4,278.3 C682.3,280.1 684.5,282.0 686.6,283.9 C688.6,285.9 690.8,288.1 692.7,290.0 C694.6,292.0 696.3,293.8 697.7,295.5 C699.2,297.1 700.7,298.6 701.5,299.8 C702.3,301.0 702.6,301.5 702.6,302.5 C702.6,303.5 702.3,304.7 701.5,305.9 C700.7,307.1 699.1,308.7 697.7,309.7 C696.3,310.7 694.6,311.5 693.0,312.1 C691.4,312.7 689.7,313.7 688.2,313.3 C686.7,312.9 685.3,310.9 683.8,309.5 C682.2,308.1 680.5,306.5 678.7,304.8 C676.9,303.1 675.0,301.2 673.1,299.3 C671.2,297.5 669.3,295.6 667.3,293.7 C665.3,291.8 663.2,289.9 661.1,287.8 C659.0,285.8 656.8,283.6 654.8,281.5 C652.7,279.4 650.6,277.2 648.8,275.2 C647.0,273.3 645.4,271.5 643.8,269.8 C642.2,268.1 640.8,266.6 639.2,265.0 C637.6,263.4 636.0,261.8 634.2,260.1 C632.4,258.5 630.5,256.7 628.5,255.1 C626.4,253.5 624.2,251.9 622.1,250.4 C619.9,248.9 617.7,247.6 615.5,246.2 C613.3,244.8 611.1,243.5 608.9,242.2 C606.7,240.8 604.5,239.4 602.4,238.0 C600.3,236.6 598.1,235.1 596.0,233.8 C594.0,232.5 592.0,231.3 590.1,230.1 C588.2,228.9 586.5,227.9 584.7,226.8 C582.9,225.7 581.1,224.6 579.1,223.4 C577.2,222.1 575.1,220.8 573.0,219.4 C570.9,218.1 568.7,216.6 566.7,215.2 C564.6,213.8 562.6,212.4 560.6,211.2 C558.6,209.9 556.6,208.7 554.5,207.5 C552.4,206.3 550.2,205.1 548.0,204.1 C545.9,203.0 543.5,201.9 541.3,201.0 C539.2,200.1 536.9,199.2 534.9,198.5 C532.8,197.7 530.9,197.1 529.0,196.4 C527.2,195.8 524.6,196.0 523.8,194.7 C523.0,193.4 523.9,190.7 524.3,188.7 C524.7,186.7 525.5,184.7 526.4,182.8 C527.2,180.9 528.3,178.4 529.4,177.2 C530.5,175.9 531.2,175.2 532.8,175.3Z"/></clipPath>
<g clip-path="url(#tc2)">
<path d="M532.8,175.3 C534.4,175.4 536.9,176.8 539.0,177.6 C541.2,178.5 543.4,179.5 545.7,180.6 C547.9,181.7 550.4,183.0 552.8,184.4 C555.2,185.7 557.7,187.2 560.1,188.6 C562.5,190.1 564.9,191.5 567.2,192.9 C569.5,194.2 571.7,195.5 573.9,196.8 C576.1,198.0 578.3,199.1 580.4,200.4 C582.6,201.6 584.7,202.7 586.8,204.0 C588.8,205.2 590.8,206.5 592.9,208.0 C594.9,209.4 597.0,210.9 599.1,212.5 C601.3,214.1 603.6,215.9 605.9,217.5 C608.2,219.2 610.6,220.9 613.0,222.5 C615.4,224.1 617.8,225.7 620.3,227.3 C622.7,228.9 625.2,230.6 627.6,232.2 C629.9,233.7 632.2,235.3 634.4,236.9 C636.6,238.4 638.6,239.9 640.6,241.4 C642.6,242.9 644.4,244.4 646.3,246.0 C648.2,247.6 650.1,249.2 652.0,251.0 C653.9,252.7 655.8,254.6 657.7,256.5 C659.6,258.4 661.5,260.4 663.4,262.2 C665.3,264.1 667.1,266.1 669.0,267.9 C670.9,269.7 672.7,271.4 674.6,273.1 C676.5,274.9 678.4,276.5 680.4,278.3 C682.3,280.1 684.5,282.0 686.6,283.9 C688.6,285.9 690.8,288.1 692.7,290.0 C694.6,292.0 696.3,293.8 697.7,295.5 C699.2,297.1 700.7,298.6 701.5,299.8 C702.3,301.0 702.6,301.5 702.6,302.5 C702.6,303.5 702.3,304.7 701.5,305.9 C700.7,307.1 699.1,308.7 697.7,309.7 C696.3,310.7 694.6,311.5 693.0,312.1 C691.4,312.7 689.7,313.7 688.2,313.3 C686.7,312.9 685.3,310.9 683.8,309.5 C682.2,308.1 680.5,306.5 678.7,304.8 C676.9,303.1 675.0,301.2 673.1,299.3 C671.2,297.5 669.3,295.6 667.3,293.7 C665.3,291.8 663.2,289.9 661.1,287.8 C659.0,285.8 656.8,283.6 654.8,281.5 C652.7,279.4 650.6,277.2 648.8,275.2 C647.0,273.3 645.4,271.5 643.8,269.8 C642.2,268.1 640.8,266.6 639.2,265.0 C637.6,263.4 636.0,261.8 634.2,260.1 C632.4,258.5 630.5,256.7 628.5,255.1 C626.4,253.5 624.2,251.9 622.1,250.4 C619.9,248.9 617.7,247.6 615.5,246.2 C613.3,244.8 611.1,243.5 608.9,242.2 C606.7,240.8 604.5,239.4 602.4,238.0 C600.3,236.6 598.1,235.1 596.0,233.8 C594.0,232.5 592.0,231.3 590.1,230.1 C588.2,228.9 586.5,227.9 584.7,226.8 C582.9,225.7 581.1,224.6 579.1,223.4 C577.2,222.1 575.1,220.8 573.0,219.4 C570.9,218.1 568.7,216.6 566.7,215.2 C564.6,213.8 562.6,212.4 560.6,211.2 C558.6,209.9 556.6,208.7 554.5,207.5 C552.4,206.3 550.2,205.1 548.0,204.1 C545.9,203.0 543.5,201.9 541.3,201.0 C539.2,200.1 536.9,199.2 534.9,198.5 C532.8,197.7 530.9,197.1 529.0,196.4 C527.2,195.8 524.6,196.0 523.8,194.7 C523.0,193.4 523.9,190.7 524.3,188.7 C524.7,186.7 525.5,184.7 526.4,182.8 C527.2,180.9 528.3,178.4 529.4,177.2 C530.5,175.9 531.2,175.2 532.8,175.3Z" fill="#021402"/>
<g filter="url(#blr)">
<path d="M518.9,181.6 C520.5,182.1 526.1,184.1 528.3,184.9 C530.6,185.7 531.1,185.9 532.5,186.4 C533.9,186.9 535.3,187.4 536.7,187.9 C538.0,188.5 539.4,189.0 540.8,189.6 C542.1,190.2 543.4,190.8 544.8,191.4 C546.1,192.1 547.4,192.7 548.8,193.4 C550.1,194.0 551.4,194.7 552.7,195.4 C554.0,196.1 555.3,196.8 556.5,197.6 C557.8,198.3 559.1,199.0 560.4,199.8 C561.6,200.5 562.9,201.3 564.2,202.0 C565.4,202.8 566.7,203.6 567.9,204.4 C569.2,205.1 570.5,205.9 571.7,206.7 C573.0,207.4 574.2,208.2 575.5,209.0 C576.8,209.7 578.0,210.5 579.3,211.3 C580.5,212.1 581.8,212.8 583.0,213.6 C584.3,214.4 585.5,215.2 586.8,216.0 C588.0,216.8 589.2,217.6 590.4,218.4 C591.7,219.3 592.9,220.1 594.1,220.9 C595.3,221.7 596.6,222.6 597.8,223.4 C599.0,224.2 600.2,225.0 601.4,225.9 C602.7,226.7 603.9,227.5 605.1,228.4 C606.3,229.2 607.5,230.0 608.8,230.8 C610.0,231.6 611.2,232.4 612.5,233.3 C613.7,234.1 614.9,234.9 616.2,235.7 C617.4,236.5 618.7,237.2 619.9,238.0 C621.2,238.8 622.4,239.6 623.6,240.4 C624.9,241.3 626.1,242.1 627.3,242.9 C628.5,243.7 629.7,244.6 630.9,245.5 C632.1,246.4 633.3,247.2 634.5,248.1 C635.6,249.0 636.7,250.0 637.9,250.9 C639.0,251.9 640.1,252.8 641.2,253.8 C642.3,254.8 643.4,255.8 644.5,256.8 C645.5,257.9 646.6,258.9 647.6,259.9 C648.7,261.0 649.7,262.0 650.8,263.1 C651.8,264.1 652.8,265.2 653.8,266.3 C654.8,267.3 655.9,268.4 656.9,269.4 C657.9,270.5 658.9,271.6 660.0,272.6 C661.0,273.7 662.1,274.7 663.1,275.7 C664.2,276.8 665.2,277.8 666.3,278.8 C667.4,279.8 668.4,280.9 669.5,281.9 C670.6,282.9 671.7,283.9 672.8,284.9 C673.8,285.9 674.9,286.9 676.0,287.9 C677.1,288.9 678.1,289.9 679.2,290.9 C680.3,291.9 681.3,293.0 682.4,294.0 C683.4,295.0 684.5,296.1 685.5,297.1 C686.6,298.2 687.6,299.2 688.7,300.2 C689.7,301.3 690.7,302.3 691.8,303.4 C692.8,304.4 693.2,304.8 694.9,306.5 C696.6,308.2 700.8,312.4 702.0,313.5" fill="none" stroke="#083208" stroke-width="18.8" stroke-linecap="butt"/>
<path d="M519.1,181.2 C520.7,181.7 526.3,183.7 528.5,184.5 C530.8,185.3 531.3,185.5 532.7,186.0 C534.1,186.5 535.5,187.1 536.8,187.6 C538.2,188.1 539.6,188.7 540.9,189.2 C542.3,189.8 543.6,190.5 545.0,191.1 C546.3,191.7 547.6,192.4 548.9,193.0 C550.2,193.7 551.5,194.4 552.8,195.1 C554.1,195.8 555.4,196.5 556.7,197.2 C558.0,198.0 559.3,198.7 560.5,199.5 C561.8,200.2 563.1,201.0 564.3,201.7 C565.6,202.5 566.9,203.3 568.1,204.0 C569.4,204.8 570.6,205.6 571.9,206.3 C573.2,207.1 574.4,207.9 575.7,208.6 C577.0,209.4 578.2,210.2 579.5,210.9 C580.7,211.7 582.0,212.5 583.2,213.3 C584.5,214.1 585.7,214.9 587.0,215.7 C588.2,216.5 589.4,217.3 590.6,218.1 C591.9,218.9 593.1,219.7 594.3,220.6 C595.5,221.4 596.8,222.2 598.0,223.1 C599.2,223.9 600.4,224.7 601.6,225.6 C602.8,226.4 604.1,227.2 605.3,228.1 C606.5,228.9 607.7,229.7 609.0,230.5 C610.2,231.3 611.4,232.2 612.7,233.0 C613.9,233.8 615.1,234.6 616.4,235.4 C617.6,236.2 618.9,236.9 620.1,237.7 C621.4,238.5 622.6,239.4 623.8,240.2 C625.1,241.0 626.3,241.8 627.5,242.6 C628.7,243.5 629.9,244.3 631.1,245.2 C632.3,246.1 633.5,246.9 634.7,247.8 C635.8,248.8 636.9,249.7 638.1,250.7 C639.2,251.6 640.3,252.6 641.4,253.5 C642.5,254.5 643.6,255.5 644.7,256.5 C645.8,257.6 646.8,258.6 647.9,259.6 C648.9,260.7 650.0,261.7 651.0,262.8 C652.0,263.8 653.0,264.9 654.1,266.0 C655.1,267.0 656.1,268.1 657.1,269.2 C658.2,270.2 659.2,271.3 660.2,272.3 C661.3,273.4 662.3,274.4 663.4,275.5 C664.4,276.5 665.5,277.5 666.5,278.5 C667.6,279.6 668.7,280.6 669.8,281.6 C670.8,282.6 671.9,283.6 673.0,284.6 C674.1,285.6 675.2,286.6 676.3,287.6 C677.3,288.6 678.4,289.6 679.5,290.6 C680.5,291.6 681.6,292.7 682.6,293.7 C683.7,294.8 684.8,295.8 685.8,296.8 C686.8,297.9 687.9,298.9 688.9,300.0 C690.0,301.0 691.0,302.1 692.0,303.1 C693.1,304.1 693.5,304.5 695.2,306.2 C696.9,307.9 701.1,312.1 702.2,313.3" fill="none" stroke="#115c12" stroke-width="15.6" stroke-linecap="butt"/>
<path d="M519.4,180.6 C520.9,181.1 526.5,183.1 528.8,184.0 C531.1,184.8 531.6,184.9 533.0,185.4 C534.3,186.0 535.7,186.5 537.1,187.0 C538.5,187.6 539.9,188.1 541.2,188.7 C542.6,189.3 543.9,189.9 545.2,190.5 C546.6,191.2 547.9,191.8 549.2,192.5 C550.5,193.2 551.8,193.9 553.1,194.6 C554.4,195.3 555.7,196.0 557.0,196.7 C558.3,197.5 559.5,198.2 560.8,199.0 C562.1,199.7 563.4,200.5 564.6,201.2 C565.9,202.0 567.1,202.8 568.4,203.5 C569.7,204.3 570.9,205.1 572.2,205.8 C573.5,206.6 574.7,207.3 576.0,208.1 C577.3,208.9 578.5,209.6 579.8,210.4 C581.0,211.2 582.3,212.0 583.5,212.7 C584.8,213.5 586.0,214.3 587.3,215.1 C588.5,215.9 589.7,216.8 591.0,217.6 C592.2,218.4 593.4,219.2 594.6,220.1 C595.9,220.9 597.1,221.7 598.3,222.6 C599.5,223.4 600.7,224.3 601.9,225.1 C603.2,225.9 604.4,226.8 605.6,227.6 C606.8,228.4 608.0,229.2 609.3,230.1 C610.5,230.9 611.7,231.7 613.0,232.5 C614.2,233.3 615.5,234.1 616.7,234.9 C617.9,235.7 619.2,236.5 620.4,237.3 C621.7,238.1 622.9,238.9 624.1,239.7 C625.4,240.5 626.6,241.3 627.8,242.2 C629.0,243.0 630.2,243.9 631.4,244.8 C632.6,245.6 633.8,246.5 635.0,247.4 C636.2,248.3 637.3,249.3 638.4,250.2 C639.5,251.2 640.7,252.1 641.8,253.1 C642.9,254.1 644.0,255.1 645.0,256.1 C646.1,257.1 647.2,258.1 648.2,259.2 C649.3,260.2 650.3,261.3 651.4,262.3 C652.4,263.4 653.4,264.4 654.4,265.5 C655.5,266.6 656.5,267.6 657.5,268.7 C658.5,269.8 659.6,270.8 660.6,271.9 C661.6,272.9 662.7,274.0 663.7,275.0 C664.8,276.0 665.9,277.1 666.9,278.1 C668.0,279.1 669.1,280.1 670.2,281.1 C671.2,282.1 672.3,283.1 673.4,284.1 C674.5,285.1 675.6,286.1 676.7,287.1 C677.7,288.2 678.8,289.2 679.9,290.2 C681.0,291.2 682.0,292.2 683.1,293.3 C684.1,294.3 685.2,295.3 686.2,296.4 C687.3,297.4 688.3,298.5 689.3,299.5 C690.4,300.6 691.4,301.6 692.5,302.7 C693.5,303.7 693.9,304.1 695.6,305.8 C697.3,307.5 701.4,311.7 702.6,312.9" fill="none" stroke="#18741a" stroke-width="10.8" stroke-linecap="butt"/>
<path d="M519.7,179.9 C521.2,180.5 526.8,182.5 529.1,183.3 C531.3,184.1 531.9,184.3 533.3,184.8 C534.6,185.3 536.0,185.9 537.4,186.4 C538.8,187.0 540.1,187.5 541.5,188.1 C542.9,188.7 544.2,189.3 545.5,190.0 C546.8,190.6 548.2,191.3 549.5,191.9 C550.8,192.6 552.1,193.3 553.4,194.0 C554.7,194.7 556.0,195.5 557.3,196.2 C558.6,196.9 559.8,197.7 561.1,198.4 C562.4,199.2 563.6,199.9 564.9,200.7 C566.2,201.4 567.4,202.2 568.7,203.0 C570.0,203.7 571.2,204.5 572.5,205.3 C573.8,206.0 575.0,206.8 576.3,207.5 C577.6,208.3 578.8,209.1 580.1,209.8 C581.4,210.6 582.6,211.4 583.9,212.2 C585.1,213.0 586.4,213.8 587.6,214.6 C588.9,215.4 590.1,216.2 591.3,217.0 C592.5,217.9 593.7,218.7 595.0,219.5 C596.2,220.4 597.4,221.2 598.6,222.0 C599.8,222.9 601.0,223.7 602.3,224.6 C603.5,225.4 604.7,226.2 605.9,227.1 C607.2,227.9 608.4,228.7 609.6,229.6 C610.8,230.4 612.1,231.2 613.3,232.0 C614.6,232.8 615.8,233.6 617.0,234.4 C618.3,235.2 619.5,236.0 620.8,236.8 C622.0,237.6 623.3,238.4 624.5,239.2 C625.7,240.0 627.0,240.8 628.2,241.7 C629.4,242.5 630.6,243.4 631.8,244.3 C633.0,245.2 634.2,246.0 635.3,246.9 C636.5,247.8 637.6,248.8 638.8,249.7 C639.9,250.7 641.0,251.6 642.2,252.6 C643.3,253.6 644.3,254.6 645.4,255.6 C646.5,256.6 647.6,257.7 648.6,258.7 C649.7,259.7 650.7,260.8 651.7,261.8 C652.8,262.9 653.8,264.0 654.8,265.0 C655.9,266.1 656.9,267.2 657.9,268.2 C658.9,269.3 660.0,270.3 661.0,271.4 C662.1,272.4 663.1,273.5 664.2,274.5 C665.2,275.6 666.3,276.6 667.4,277.6 C668.4,278.6 669.5,279.6 670.6,280.6 C671.7,281.6 672.8,282.6 673.9,283.6 C674.9,284.6 676.0,285.7 677.1,286.7 C678.2,287.7 679.3,288.7 680.3,289.7 C681.4,290.7 682.5,291.8 683.5,292.8 C684.6,293.8 685.6,294.9 686.7,295.9 C687.7,297.0 688.8,298.0 689.8,299.1 C690.8,300.1 691.9,301.2 692.9,302.2 C693.9,303.3 694.3,303.7 696.0,305.4 C697.7,307.1 701.8,311.3 703.0,312.5" fill="none" stroke="#228a26" stroke-width="5.5" stroke-linecap="butt"/>
</g>
<path d="M518.9,181.6 C520.4,182.2 526.0,184.2 528.3,185.0 C530.6,185.8 531.1,186.0 532.5,186.5 C533.9,187.0 535.2,187.5 536.6,188.0 C538.0,188.6 539.4,189.1 540.7,189.7 C542.1,190.3 543.4,190.9 544.7,191.5 C546.1,192.1 547.4,192.8 548.7,193.5 C550.0,194.1 551.3,194.8 552.6,195.5 C553.9,196.2 555.2,196.9 556.5,197.7 C557.8,198.4 559.1,199.1 560.3,199.9 C561.6,200.6 562.9,201.4 564.1,202.1 C565.4,202.9 566.6,203.7 567.9,204.4 C569.2,205.2 570.4,206.0 571.7,206.7 C572.9,207.5 574.2,208.3 575.5,209.0 C576.7,209.8 578.0,210.6 579.2,211.4 C580.5,212.1 581.7,212.9 583.0,213.7 C584.2,214.5 585.5,215.3 586.7,216.1 C587.9,216.9 589.2,217.7 590.4,218.5 C591.6,219.3 592.8,220.2 594.1,221.0 C595.3,221.8 596.5,222.6 597.7,223.5 C598.9,224.3 600.2,225.1 601.4,226.0 C602.6,226.8 603.8,227.6 605.0,228.4 C606.3,229.3 607.5,230.1 608.7,230.9 C609.9,231.7 611.2,232.5 612.4,233.3 C613.7,234.1 614.9,234.9 616.1,235.7 C617.4,236.5 618.6,237.3 619.9,238.1 C621.1,238.9 622.3,239.7 623.6,240.5 C624.8,241.3 626.1,242.1 627.3,243.0 C628.5,243.8 629.7,244.7 630.9,245.6 C632.0,246.4 633.2,247.3 634.4,248.2 C635.6,249.1 636.7,250.1 637.8,251.0 C638.9,252.0 640.1,252.9 641.2,253.9 C642.3,254.9 643.3,255.9 644.4,256.9 C645.5,257.9 646.5,259.0 647.6,260.0 C648.6,261.0 649.7,262.1 650.7,263.1 C651.7,264.2 652.7,265.3 653.8,266.3 C654.8,267.4 655.8,268.5 656.8,269.5 C657.9,270.6 658.9,271.6 659.9,272.7 C661.0,273.7 662.0,274.8 663.0,275.8 C664.1,276.9 665.2,277.9 666.2,278.9 C667.3,279.9 668.4,280.9 669.4,281.9 C670.5,282.9 671.6,283.9 672.7,284.9 C673.8,285.9 674.8,286.9 675.9,288.0 C677.0,289.0 678.1,290.0 679.1,291.0 C680.2,292.0 681.3,293.0 682.3,294.1 C683.4,295.1 684.4,296.1 685.5,297.2 C686.5,298.2 687.5,299.3 688.6,300.3 C689.6,301.4 690.7,302.4 691.7,303.4 C692.8,304.5 693.1,304.9 694.9,306.6 C696.6,308.2 700.8,312.4 702.0,313.6" fill="none" stroke="#000" stroke-opacity="0.30" stroke-width="25.6" stroke-dasharray="1.1 1.1"/>
</g>
<path d="M532.8,175.3 C534.4,175.4 536.9,176.8 539.0,177.6 C541.2,178.5 543.4,179.5 545.7,180.6 C547.9,181.7 550.4,183.0 552.8,184.4 C555.2,185.7 557.7,187.2 560.1,188.6 C562.5,190.1 564.9,191.5 567.2,192.9 C569.5,194.2 571.7,195.5 573.9,196.8 C576.1,198.0 578.3,199.1 580.4,200.4 C582.6,201.6 584.7,202.7 586.8,204.0 C588.8,205.2 590.8,206.5 592.9,208.0 C594.9,209.4 597.0,210.9 599.1,212.5 C601.3,214.1 603.6,215.9 605.9,217.5 C608.2,219.2 610.6,220.9 613.0,222.5 C615.4,224.1 617.8,225.7 620.3,227.3 C622.7,228.9 625.2,230.6 627.6,232.2 C629.9,233.7 632.2,235.3 634.4,236.9 C636.6,238.4 638.6,239.9 640.6,241.4 C642.6,242.9 644.4,244.4 646.3,246.0 C648.2,247.6 650.1,249.2 652.0,251.0 C653.9,252.7 655.8,254.6 657.7,256.5 C659.6,258.4 661.5,260.4 663.4,262.2 C665.3,264.1 667.1,266.1 669.0,267.9 C670.9,269.7 672.7,271.4 674.6,273.1 C676.5,274.9 678.4,276.5 680.4,278.3 C682.3,280.1 684.5,282.0 686.6,283.9 C688.6,285.9 690.8,288.1 692.7,290.0 C694.6,292.0 696.3,293.8 697.7,295.5 C699.2,297.1 700.7,298.6 701.5,299.8 C702.3,301.0 702.6,301.5 702.6,302.5 C702.6,303.5 702.3,304.7 701.5,305.9 C700.7,307.1 699.1,308.7 697.7,309.7 C696.3,310.7 694.6,311.5 693.0,312.1 C691.4,312.7 689.7,313.7 688.2,313.3 C686.7,312.9 685.3,310.9 683.8,309.5 C682.2,308.1 680.5,306.5 678.7,304.8 C676.9,303.1 675.0,301.2 673.1,299.3 C671.2,297.5 669.3,295.6 667.3,293.7 C665.3,291.8 663.2,289.9 661.1,287.8 C659.0,285.8 656.8,283.6 654.8,281.5 C652.7,279.4 650.6,277.2 648.8,275.2 C647.0,273.3 645.4,271.5 643.8,269.8 C642.2,268.1 640.8,266.6 639.2,265.0 C637.6,263.4 636.0,261.8 634.2,260.1 C632.4,258.5 630.5,256.7 628.5,255.1 C626.4,253.5 624.2,251.9 622.1,250.4 C619.9,248.9 617.7,247.6 615.5,246.2 C613.3,244.8 611.1,243.5 608.9,242.2 C606.7,240.8 604.5,239.4 602.4,238.0 C600.3,236.6 598.1,235.1 596.0,233.8 C594.0,232.5 592.0,231.3 590.1,230.1 C588.2,228.9 586.5,227.9 584.7,226.8 C582.9,225.7 581.1,224.6 579.1,223.4 C577.2,222.1 575.1,220.8 573.0,219.4 C570.9,218.1 568.7,216.6 566.7,215.2 C564.6,213.8 562.6,212.4 560.6,211.2 C558.6,209.9 556.6,208.7 554.5,207.5 C552.4,206.3 550.2,205.1 548.0,204.1 C545.9,203.0 543.5,201.9 541.3,201.0 C539.2,200.1 536.9,199.2 534.9,198.5 C532.8,197.7 530.9,197.1 529.0,196.4 C527.2,195.8 524.6,196.0 523.8,194.7 C523.0,193.4 523.9,190.7 524.3,188.7 C524.7,186.7 525.5,184.7 526.4,182.8 C527.2,180.9 528.3,178.4 529.4,177.2 C530.5,175.9 531.2,175.2 532.8,175.3Z" fill="none" stroke="#021402" stroke-width="1" opacity="0.9"/>
<clipPath id="tc3"><path d="M519.2,199.3 C521.0,199.3 523.8,201.0 526.2,202.0 C528.5,203.0 531.0,204.1 533.4,205.3 C535.9,206.5 538.4,207.9 540.9,209.3 C543.4,210.8 545.9,212.4 548.3,214.0 C550.7,215.6 553.1,217.4 555.5,219.0 C557.8,220.7 560.0,222.4 562.3,224.0 C564.5,225.6 566.7,227.1 568.8,228.7 C571.0,230.3 573.1,231.9 575.2,233.5 C577.2,235.1 579.2,236.7 581.1,238.3 C583.1,240.0 585.0,241.6 587.0,243.4 C589.1,245.1 591.2,247.0 593.4,248.8 C595.6,250.7 598.0,252.6 600.3,254.4 C602.6,256.2 604.9,258.0 607.2,259.6 C609.5,261.3 611.7,262.8 613.8,264.3 C616.0,265.9 618.1,267.4 620.2,269.0 C622.2,270.6 624.2,272.2 626.1,273.9 C628.0,275.6 629.9,277.4 631.7,279.2 C633.5,281.0 635.2,282.8 636.9,284.7 C638.7,286.7 640.3,288.6 642.0,290.7 C643.7,292.8 645.3,295.0 647.0,297.2 C648.6,299.4 650.2,301.7 651.8,303.9 C653.4,306.1 655.0,308.3 656.6,310.4 C658.1,312.5 659.6,314.6 661.1,316.5 C662.6,318.4 664.0,320.2 665.4,321.9 C666.8,323.7 668.2,325.3 669.5,327.1 C670.9,328.8 672.2,330.7 673.5,332.6 C674.8,334.4 676.6,337.1 677.3,338.4 C678.0,339.7 677.9,339.6 677.8,340.5 C677.6,341.4 677.2,342.9 676.4,344.0 C675.6,345.1 674.4,346.3 673.1,347.3 C671.8,348.3 669.8,349.6 668.4,350.2 C667.0,350.8 665.9,351.7 664.6,351.1 C663.3,350.5 661.9,348.4 660.5,346.9 C659.0,345.3 657.5,343.6 656.0,341.8 C654.5,340.0 652.9,338.0 651.3,336.1 C649.8,334.2 648.2,332.2 646.7,330.2 C645.2,328.3 643.8,326.3 642.4,324.3 C641.0,322.3 639.6,320.3 638.2,318.3 C636.8,316.3 635.3,314.4 633.8,312.4 C632.3,310.5 630.8,308.7 629.2,306.8 C627.6,304.9 626.1,303.1 624.4,301.1 C622.7,299.2 620.9,297.0 619.1,294.9 C617.2,292.8 615.2,290.4 613.3,288.4 C611.3,286.4 609.4,284.5 607.5,282.9 C605.6,281.2 603.8,279.9 601.9,278.5 C600.0,277.1 598.2,275.8 596.1,274.4 C594.1,272.9 592.0,271.5 589.8,269.9 C587.5,268.3 585.1,266.7 582.7,265.0 C580.3,263.3 577.7,261.4 575.2,259.6 C572.7,257.8 570.1,255.8 567.8,254.0 C565.4,252.2 563.0,250.4 561.0,248.8 C558.9,247.2 557.0,245.8 555.4,244.6 C553.7,243.3 552.4,242.4 551.0,241.3 C549.6,240.2 548.4,239.2 546.8,238.0 C545.2,236.8 543.5,235.5 541.5,234.2 C539.6,232.9 537.4,231.4 535.2,230.2 C533.1,228.9 530.8,227.7 528.7,226.7 C526.5,225.6 524.4,224.7 522.4,224.0 C520.4,223.2 518.5,222.6 516.7,222.0 C514.8,221.4 512.2,221.9 511.4,220.5 C510.6,219.1 511.3,216.1 511.6,213.9 C511.9,211.7 512.4,209.3 513.0,207.3 C513.6,205.3 514.4,203.4 515.4,202.1 C516.4,200.8 517.4,199.3 519.2,199.3Z"/></clipPath>
<g clip-path="url(#tc3)">
<path d="M519.2,199.3 C521.0,199.3 523.8,201.0 526.2,202.0 C528.5,203.0 531.0,204.1 533.4,205.3 C535.9,206.5 538.4,207.9 540.9,209.3 C543.4,210.8 545.9,212.4 548.3,214.0 C550.7,215.6 553.1,217.4 555.5,219.0 C557.8,220.7 560.0,222.4 562.3,224.0 C564.5,225.6 566.7,227.1 568.8,228.7 C571.0,230.3 573.1,231.9 575.2,233.5 C577.2,235.1 579.2,236.7 581.1,238.3 C583.1,240.0 585.0,241.6 587.0,243.4 C589.1,245.1 591.2,247.0 593.4,248.8 C595.6,250.7 598.0,252.6 600.3,254.4 C602.6,256.2 604.9,258.0 607.2,259.6 C609.5,261.3 611.7,262.8 613.8,264.3 C616.0,265.9 618.1,267.4 620.2,269.0 C622.2,270.6 624.2,272.2 626.1,273.9 C628.0,275.6 629.9,277.4 631.7,279.2 C633.5,281.0 635.2,282.8 636.9,284.7 C638.7,286.7 640.3,288.6 642.0,290.7 C643.7,292.8 645.3,295.0 647.0,297.2 C648.6,299.4 650.2,301.7 651.8,303.9 C653.4,306.1 655.0,308.3 656.6,310.4 C658.1,312.5 659.6,314.6 661.1,316.5 C662.6,318.4 664.0,320.2 665.4,321.9 C666.8,323.7 668.2,325.3 669.5,327.1 C670.9,328.8 672.2,330.7 673.5,332.6 C674.8,334.4 676.6,337.1 677.3,338.4 C678.0,339.7 677.9,339.6 677.8,340.5 C677.6,341.4 677.2,342.9 676.4,344.0 C675.6,345.1 674.4,346.3 673.1,347.3 C671.8,348.3 669.8,349.6 668.4,350.2 C667.0,350.8 665.9,351.7 664.6,351.1 C663.3,350.5 661.9,348.4 660.5,346.9 C659.0,345.3 657.5,343.6 656.0,341.8 C654.5,340.0 652.9,338.0 651.3,336.1 C649.8,334.2 648.2,332.2 646.7,330.2 C645.2,328.3 643.8,326.3 642.4,324.3 C641.0,322.3 639.6,320.3 638.2,318.3 C636.8,316.3 635.3,314.4 633.8,312.4 C632.3,310.5 630.8,308.7 629.2,306.8 C627.6,304.9 626.1,303.1 624.4,301.1 C622.7,299.2 620.9,297.0 619.1,294.9 C617.2,292.8 615.2,290.4 613.3,288.4 C611.3,286.4 609.4,284.5 607.5,282.9 C605.6,281.2 603.8,279.9 601.9,278.5 C600.0,277.1 598.2,275.8 596.1,274.4 C594.1,272.9 592.0,271.5 589.8,269.9 C587.5,268.3 585.1,266.7 582.7,265.0 C580.3,263.3 577.7,261.4 575.2,259.6 C572.7,257.8 570.1,255.8 567.8,254.0 C565.4,252.2 563.0,250.4 561.0,248.8 C558.9,247.2 557.0,245.8 555.4,244.6 C553.7,243.3 552.4,242.4 551.0,241.3 C549.6,240.2 548.4,239.2 546.8,238.0 C545.2,236.8 543.5,235.5 541.5,234.2 C539.6,232.9 537.4,231.4 535.2,230.2 C533.1,228.9 530.8,227.7 528.7,226.7 C526.5,225.6 524.4,224.7 522.4,224.0 C520.4,223.2 518.5,222.6 516.7,222.0 C514.8,221.4 512.2,221.9 511.4,220.5 C510.6,219.1 511.3,216.1 511.6,213.9 C511.9,211.7 512.4,209.3 513.0,207.3 C513.6,205.3 514.4,203.4 515.4,202.1 C516.4,200.8 517.4,199.3 519.2,199.3Z" fill="#1a2202"/>
<g filter="url(#blr)">
<path d="M505.9,206.6 C507.4,207.1 513.0,209.1 515.3,209.8 C517.6,210.6 518.1,210.8 519.5,211.3 C520.9,211.8 522.3,212.3 523.7,212.8 C525.1,213.3 526.4,213.9 527.8,214.5 C529.2,215.1 530.5,215.7 531.8,216.4 C533.2,217.0 534.5,217.7 535.8,218.4 C537.1,219.2 538.3,219.9 539.6,220.6 C540.9,221.4 542.1,222.2 543.4,223.0 C544.6,223.8 545.8,224.7 547.1,225.5 C548.3,226.4 549.5,227.2 550.7,228.1 C551.9,229.0 553.0,229.9 554.2,230.8 C555.4,231.6 556.6,232.5 557.8,233.4 C559.0,234.3 560.2,235.2 561.4,236.1 C562.6,236.9 563.8,237.8 564.9,238.7 C566.1,239.6 567.3,240.5 568.5,241.4 C569.7,242.3 570.8,243.2 572.0,244.1 C573.2,245.0 574.3,245.9 575.5,246.9 C576.7,247.8 577.8,248.7 579.0,249.6 C580.1,250.6 581.3,251.5 582.4,252.4 C583.6,253.3 584.8,254.2 585.9,255.1 C587.1,256.1 588.3,257.0 589.4,257.9 C590.6,258.8 591.8,259.6 593.0,260.5 C594.2,261.4 595.4,262.3 596.6,263.2 C597.7,264.1 599.0,264.9 600.2,265.8 C601.4,266.7 602.6,267.5 603.8,268.4 C605.0,269.3 606.2,270.1 607.4,271.0 C608.6,271.9 609.8,272.8 610.9,273.7 C612.1,274.6 613.3,275.5 614.4,276.4 C615.5,277.4 616.6,278.4 617.7,279.4 C618.8,280.4 619.9,281.4 620.9,282.4 C622.0,283.5 623.0,284.5 624.0,285.6 C625.1,286.7 626.1,287.8 627.1,288.9 C628.1,290.0 629.1,291.1 630.0,292.2 C631.0,293.3 632.0,294.4 632.9,295.5 C633.9,296.7 634.9,297.8 635.8,298.9 C636.8,300.1 637.7,301.2 638.6,302.4 C639.5,303.6 640.4,304.7 641.3,305.9 C642.2,307.1 643.1,308.3 643.9,309.5 C644.8,310.7 645.7,311.9 646.5,313.1 C647.4,314.3 648.2,315.5 649.1,316.7 C650.0,317.9 650.8,319.1 651.7,320.3 C652.6,321.5 653.5,322.7 654.4,323.9 C655.3,325.1 656.2,326.2 657.1,327.4 C658.1,328.5 659.0,329.7 659.9,330.8 C660.9,332.0 661.8,333.1 662.7,334.3 C663.7,335.4 664.6,336.6 665.5,337.8 C666.4,338.9 667.3,340.1 668.2,341.2 C669.2,342.4 669.5,342.8 671.0,344.7 C672.5,346.6 676.2,351.2 677.2,352.5" fill="none" stroke="#3c5408" stroke-width="19.4" stroke-linecap="butt"/>
<path d="M506.0,206.3 C507.5,206.9 513.1,208.8 515.4,209.6 C517.7,210.3 518.2,210.5 519.6,211.0 C521.0,211.5 522.4,212.0 523.8,212.5 C525.2,213.1 526.5,213.6 527.9,214.2 C529.3,214.8 530.6,215.5 531.9,216.1 C533.3,216.8 534.6,217.5 535.9,218.2 C537.2,218.9 538.5,219.6 539.7,220.4 C541.0,221.2 542.2,222.0 543.5,222.8 C544.7,223.6 545.9,224.4 547.2,225.3 C548.4,226.1 549.6,227.0 550.8,227.9 C552.0,228.7 553.2,229.6 554.3,230.5 C555.5,231.4 556.7,232.3 557.9,233.2 C559.1,234.1 560.3,234.9 561.5,235.8 C562.7,236.7 563.9,237.6 565.1,238.5 C566.3,239.4 567.4,240.2 568.6,241.1 C569.8,242.0 571.0,243.0 572.1,243.9 C573.3,244.8 574.5,245.7 575.6,246.6 C576.8,247.5 577.9,248.5 579.1,249.4 C580.3,250.3 581.4,251.3 582.6,252.2 C583.7,253.1 584.9,254.0 586.1,254.9 C587.2,255.8 588.4,256.7 589.6,257.6 C590.7,258.5 591.9,259.4 593.1,260.3 C594.3,261.2 595.5,262.1 596.7,263.0 C597.9,263.9 599.1,264.7 600.3,265.6 C601.5,266.5 602.7,267.3 603.9,268.2 C605.1,269.1 606.3,269.9 607.5,270.8 C608.7,271.7 609.9,272.6 611.1,273.5 C612.2,274.4 613.4,275.3 614.5,276.2 C615.7,277.2 616.8,278.2 617.9,279.2 C618.9,280.2 620.0,281.2 621.1,282.2 C622.1,283.3 623.2,284.3 624.2,285.4 C625.2,286.5 626.2,287.6 627.2,288.7 C628.2,289.7 629.2,290.8 630.2,292.0 C631.2,293.1 632.1,294.2 633.1,295.3 C634.1,296.4 635.0,297.6 636.0,298.7 C636.9,299.9 637.8,301.0 638.7,302.2 C639.7,303.4 640.6,304.5 641.5,305.7 C642.4,306.9 643.2,308.1 644.1,309.3 C645.0,310.5 645.8,311.7 646.7,312.9 C647.6,314.1 648.4,315.3 649.3,316.5 C650.1,317.7 651.0,318.9 651.9,320.1 C652.8,321.3 653.7,322.5 654.6,323.7 C655.5,324.9 656.4,326.0 657.3,327.2 C658.2,328.3 659.2,329.5 660.1,330.7 C661.0,331.8 662.0,333.0 662.9,334.1 C663.8,335.3 664.8,336.4 665.7,337.6 C666.6,338.7 667.5,339.9 668.4,341.1 C669.3,342.2 669.7,342.7 671.2,344.5 C672.6,346.4 676.3,351.1 677.4,352.4" fill="none" stroke="#769814" stroke-width="16.2" stroke-linecap="butt"/>
<path d="M506.1,205.9 C507.7,206.4 513.3,208.4 515.6,209.1 C517.9,209.9 518.4,210.1 519.8,210.6 C521.2,211.1 522.6,211.6 524.0,212.1 C525.3,212.7 526.7,213.2 528.1,213.8 C529.4,214.4 530.8,215.1 532.1,215.7 C533.4,216.4 534.7,217.1 536.0,217.8 C537.3,218.5 538.6,219.3 539.9,220.0 C541.2,220.8 542.4,221.6 543.7,222.4 C544.9,223.2 546.1,224.0 547.3,224.9 C548.6,225.7 549.8,226.6 551.0,227.5 C552.2,228.4 553.3,229.3 554.5,230.1 C555.7,231.0 556.9,231.9 558.1,232.8 C559.3,233.7 560.5,234.6 561.7,235.4 C562.9,236.3 564.1,237.2 565.3,238.1 C566.4,239.0 567.6,239.9 568.8,240.8 C570.0,241.7 571.2,242.6 572.3,243.5 C573.5,244.4 574.7,245.3 575.8,246.3 C577.0,247.2 578.1,248.1 579.3,249.0 C580.4,250.0 581.6,250.9 582.8,251.8 C583.9,252.7 585.1,253.7 586.3,254.6 C587.4,255.5 588.6,256.4 589.8,257.3 C590.9,258.2 592.1,259.1 593.3,260.0 C594.5,260.9 595.7,261.8 596.9,262.7 C598.1,263.5 599.3,264.4 600.5,265.3 C601.7,266.2 602.9,267.0 604.1,267.9 C605.3,268.8 606.5,269.6 607.7,270.5 C608.9,271.4 610.1,272.2 611.3,273.2 C612.4,274.1 613.6,275.0 614.7,275.9 C615.9,276.9 617.0,277.9 618.1,278.9 C619.2,279.9 620.3,280.9 621.3,281.9 C622.4,282.9 623.4,284.0 624.4,285.1 C625.4,286.2 626.5,287.2 627.5,288.3 C628.5,289.4 629.5,290.5 630.5,291.6 C631.4,292.7 632.4,293.9 633.4,295.0 C634.3,296.1 635.3,297.2 636.2,298.4 C637.2,299.5 638.1,300.7 639.0,301.9 C639.9,303.1 640.8,304.2 641.7,305.4 C642.6,306.6 643.5,307.8 644.4,309.0 C645.2,310.2 646.1,311.4 647.0,312.6 C647.8,313.8 648.7,315.0 649.5,316.2 C650.4,317.4 651.3,318.6 652.2,319.8 C653.1,321.0 653.9,322.2 654.8,323.4 C655.7,324.6 656.7,325.7 657.6,326.9 C658.5,328.1 659.4,329.2 660.4,330.4 C661.3,331.5 662.3,332.7 663.2,333.8 C664.1,335.0 665.0,336.1 665.9,337.3 C666.9,338.5 667.8,339.6 668.7,340.8 C669.6,342.0 669.9,342.4 671.4,344.3 C672.9,346.2 676.5,350.9 677.6,352.2" fill="none" stroke="#92b41c" stroke-width="11.1" stroke-linecap="butt"/>
<path d="M506.3,205.4 C507.9,205.9 513.5,207.9 515.7,208.7 C518.0,209.5 518.6,209.6 520.0,210.1 C521.4,210.6 522.7,211.2 524.1,211.7 C525.5,212.2 526.9,212.8 528.2,213.4 C529.6,214.0 530.9,214.6 532.3,215.3 C533.6,216.0 534.9,216.7 536.2,217.4 C537.5,218.1 538.8,218.8 540.1,219.6 C541.3,220.4 542.6,221.2 543.8,222.0 C545.1,222.8 546.3,223.6 547.5,224.5 C548.7,225.3 549.9,226.2 551.1,227.1 C552.3,227.9 553.5,228.8 554.7,229.7 C555.9,230.6 557.1,231.5 558.3,232.4 C559.5,233.3 560.7,234.2 561.9,235.0 C563.1,235.9 564.3,236.8 565.5,237.7 C566.7,238.6 567.8,239.5 569.0,240.4 C570.2,241.3 571.4,242.2 572.5,243.1 C573.7,244.0 574.9,244.9 576.0,245.9 C577.2,246.8 578.4,247.7 579.5,248.7 C580.7,249.6 581.8,250.5 583.0,251.4 C584.1,252.4 585.3,253.3 586.5,254.2 C587.6,255.1 588.8,256.0 590.0,257.0 C591.1,257.9 592.3,258.8 593.5,259.6 C594.7,260.5 595.9,261.4 597.1,262.3 C598.3,263.2 599.5,264.1 600.7,264.9 C601.9,265.8 603.1,266.7 604.3,267.6 C605.5,268.4 606.7,269.3 607.9,270.1 C609.1,271.0 610.3,271.9 611.5,272.8 C612.7,273.7 613.8,274.6 615.0,275.6 C616.1,276.5 617.2,277.5 618.3,278.5 C619.4,279.5 620.5,280.5 621.6,281.6 C622.6,282.6 623.6,283.7 624.7,284.7 C625.7,285.8 626.7,286.9 627.7,288.0 C628.7,289.1 629.7,290.2 630.7,291.3 C631.7,292.4 632.7,293.5 633.6,294.6 C634.6,295.8 635.6,296.9 636.5,298.0 C637.5,299.2 638.4,300.4 639.3,301.5 C640.2,302.7 641.1,303.9 642.0,305.1 C642.9,306.3 643.8,307.5 644.6,308.7 C645.5,309.9 646.4,311.1 647.2,312.3 C648.1,313.5 649.0,314.7 649.8,315.9 C650.7,317.1 651.6,318.3 652.5,319.5 C653.3,320.7 654.2,321.9 655.1,323.1 C656.0,324.3 657.0,325.4 657.9,326.6 C658.8,327.7 659.7,328.9 660.7,330.1 C661.6,331.2 662.6,332.4 663.5,333.5 C664.4,334.7 665.3,335.8 666.2,337.0 C667.2,338.2 668.1,339.3 669.0,340.5 C669.9,341.7 670.2,342.1 671.7,344.0 C673.2,345.9 676.8,350.6 677.8,351.9" fill="none" stroke="#aacc2c" stroke-width="5.7" stroke-linecap="butt"/>
<path d="M506.2,205.6 C507.8,206.1 513.4,208.1 515.7,208.8 C518.0,209.6 518.5,209.8 519.9,210.3 C521.3,210.8 522.7,211.3 524.1,211.9 C525.4,212.4 526.8,213.0 528.2,213.6 C529.5,214.2 530.9,214.8 532.2,215.5 C533.5,216.1 534.8,216.8 536.1,217.5 C537.4,218.2 538.7,219.0 540.0,219.8 C541.3,220.5 542.5,221.3 543.8,222.1 C545.0,222.9 546.2,223.8 547.5,224.6 C548.7,225.5 549.9,226.3 551.1,227.2 C552.3,228.1 553.5,229.0 554.6,229.9 C555.8,230.8 557.0,231.7 558.2,232.5 C559.4,233.4 560.6,234.3 561.8,235.2 C563.0,236.1 564.2,236.9 565.4,237.8 C566.6,238.7 567.8,239.6 568.9,240.5 C570.1,241.4 571.3,242.3 572.5,243.2 C573.6,244.2 574.8,245.1 576.0,246.0 C577.1,246.9 578.3,247.9 579.4,248.8 C580.6,249.7 581.7,250.6 582.9,251.6 C584.1,252.5 585.2,253.4 586.4,254.3 C587.6,255.3 588.7,256.2 589.9,257.1 C591.1,258.0 592.3,258.9 593.4,259.8 C594.6,260.7 595.8,261.6 597.0,262.4 C598.2,263.3 599.4,264.2 600.6,265.1 C601.8,265.9 603.0,266.8 604.2,267.7 C605.4,268.5 606.6,269.4 607.8,270.3 C609.0,271.1 610.2,272.0 611.4,272.9 C612.6,273.8 613.8,274.7 614.9,275.7 C616.0,276.6 617.1,277.6 618.2,278.6 C619.3,279.6 620.4,280.6 621.5,281.7 C622.5,282.7 623.6,283.8 624.6,284.9 C625.6,285.9 626.6,287.0 627.6,288.1 C628.6,289.2 629.6,290.3 630.6,291.4 C631.6,292.5 632.6,293.6 633.5,294.8 C634.5,295.9 635.5,297.0 636.4,298.2 C637.4,299.3 638.3,300.5 639.2,301.7 C640.1,302.8 641.0,304.0 641.9,305.2 C642.8,306.4 643.7,307.6 644.5,308.8 C645.4,310.0 646.3,311.2 647.1,312.4 C648.0,313.6 648.9,314.8 649.7,316.0 C650.6,317.2 651.5,318.4 652.4,319.6 C653.2,320.8 654.1,322.0 655.0,323.2 C655.9,324.4 656.9,325.5 657.8,326.7 C658.7,327.8 659.6,329.0 660.6,330.2 C661.5,331.3 662.4,332.5 663.4,333.6 C664.3,334.8 665.2,335.9 666.1,337.1 C667.0,338.3 668.0,339.5 668.9,340.6 C669.8,341.8 670.1,342.2 671.6,344.1 C673.1,346.0 676.7,350.7 677.7,352.0" fill="none" stroke="#b8b450" stroke-opacity="0.45" stroke-width="2.8"/>
</g>
<path d="M505.8,206.7 C507.4,207.2 513.0,209.1 515.3,209.9 C517.6,210.7 518.1,210.8 519.5,211.3 C520.9,211.8 522.3,212.3 523.7,212.9 C525.0,213.4 526.4,214.0 527.8,214.6 C529.1,215.2 530.5,215.8 531.8,216.4 C533.1,217.1 534.4,217.8 535.7,218.5 C537.0,219.2 538.3,219.9 539.6,220.7 C540.9,221.5 542.1,222.3 543.3,223.1 C544.6,223.9 545.8,224.7 547.0,225.6 C548.2,226.4 549.4,227.3 550.6,228.2 C551.8,229.0 553.0,229.9 554.2,230.8 C555.4,231.7 556.6,232.6 557.8,233.5 C559.0,234.4 560.2,235.2 561.3,236.1 C562.5,237.0 563.7,237.9 564.9,238.8 C566.1,239.7 567.3,240.5 568.5,241.4 C569.6,242.3 570.8,243.3 572.0,244.2 C573.1,245.1 574.3,246.0 575.5,246.9 C576.6,247.8 577.8,248.8 578.9,249.7 C580.1,250.6 581.3,251.5 582.4,252.5 C583.6,253.4 584.7,254.3 585.9,255.2 C587.1,256.1 588.2,257.0 589.4,257.9 C590.6,258.8 591.8,259.7 593.0,260.6 C594.1,261.5 595.3,262.4 596.5,263.2 C597.7,264.1 598.9,265.0 600.1,265.9 C601.3,266.7 602.5,267.6 603.7,268.5 C604.9,269.3 606.2,270.2 607.3,271.0 C608.5,271.9 609.7,272.8 610.9,273.7 C612.1,274.6 613.2,275.5 614.4,276.5 C615.5,277.4 616.6,278.4 617.7,279.4 C618.8,280.4 619.8,281.4 620.9,282.5 C621.9,283.5 623.0,284.6 624.0,285.7 C625.0,286.7 626.0,287.8 627.0,288.9 C628.0,290.0 629.0,291.1 630.0,292.2 C631.0,293.3 631.9,294.5 632.9,295.6 C633.9,296.7 634.8,297.8 635.8,299.0 C636.7,300.1 637.6,301.3 638.5,302.5 C639.4,303.6 640.4,304.8 641.3,306.0 C642.1,307.2 643.0,308.4 643.9,309.6 C644.8,310.8 645.6,312.0 646.5,313.2 C647.3,314.4 648.2,315.6 649.1,316.8 C649.9,318.0 650.8,319.2 651.7,320.4 C652.6,321.6 653.4,322.8 654.3,323.9 C655.2,325.1 656.2,326.3 657.1,327.4 C658.0,328.6 658.9,329.7 659.9,330.9 C660.8,332.0 661.8,333.2 662.7,334.3 C663.6,335.5 664.5,336.7 665.5,337.8 C666.4,339.0 667.3,340.1 668.2,341.3 C669.1,342.4 669.5,342.9 671.0,344.8 C672.4,346.6 676.1,351.3 677.2,352.6" fill="none" stroke="#000" stroke-opacity="0.32" stroke-width="26.2" stroke-dasharray="1.1 1.1"/>
</g>
<path d="M519.2,199.3 C521.0,199.3 523.8,201.0 526.2,202.0 C528.5,203.0 531.0,204.1 533.4,205.3 C535.9,206.5 538.4,207.9 540.9,209.3 C543.4,210.8 545.9,212.4 548.3,214.0 C550.7,215.6 553.1,217.4 555.5,219.0 C557.8,220.7 560.0,222.4 562.3,224.0 C564.5,225.6 566.7,227.1 568.8,228.7 C571.0,230.3 573.1,231.9 575.2,233.5 C577.2,235.1 579.2,236.7 581.1,238.3 C583.1,240.0 585.0,241.6 587.0,243.4 C589.1,245.1 591.2,247.0 593.4,248.8 C595.6,250.7 598.0,252.6 600.3,254.4 C602.6,256.2 604.9,258.0 607.2,259.6 C609.5,261.3 611.7,262.8 613.8,264.3 C616.0,265.9 618.1,267.4 620.2,269.0 C622.2,270.6 624.2,272.2 626.1,273.9 C628.0,275.6 629.9,277.4 631.7,279.2 C633.5,281.0 635.2,282.8 636.9,284.7 C638.7,286.7 640.3,288.6 642.0,290.7 C643.7,292.8 645.3,295.0 647.0,297.2 C648.6,299.4 650.2,301.7 651.8,303.9 C653.4,306.1 655.0,308.3 656.6,310.4 C658.1,312.5 659.6,314.6 661.1,316.5 C662.6,318.4 664.0,320.2 665.4,321.9 C666.8,323.7 668.2,325.3 669.5,327.1 C670.9,328.8 672.2,330.7 673.5,332.6 C674.8,334.4 676.6,337.1 677.3,338.4 C678.0,339.7 677.9,339.6 677.8,340.5 C677.6,341.4 677.2,342.9 676.4,344.0 C675.6,345.1 674.4,346.3 673.1,347.3 C671.8,348.3 669.8,349.6 668.4,350.2 C667.0,350.8 665.9,351.7 664.6,351.1 C663.3,350.5 661.9,348.4 660.5,346.9 C659.0,345.3 657.5,343.6 656.0,341.8 C654.5,340.0 652.9,338.0 651.3,336.1 C649.8,334.2 648.2,332.2 646.7,330.2 C645.2,328.3 643.8,326.3 642.4,324.3 C641.0,322.3 639.6,320.3 638.2,318.3 C636.8,316.3 635.3,314.4 633.8,312.4 C632.3,310.5 630.8,308.7 629.2,306.8 C627.6,304.9 626.1,303.1 624.4,301.1 C622.7,299.2 620.9,297.0 619.1,294.9 C617.2,292.8 615.2,290.4 613.3,288.4 C611.3,286.4 609.4,284.5 607.5,282.9 C605.6,281.2 603.8,279.9 601.9,278.5 C600.0,277.1 598.2,275.8 596.1,274.4 C594.1,272.9 592.0,271.5 589.8,269.9 C587.5,268.3 585.1,266.7 582.7,265.0 C580.3,263.3 577.7,261.4 575.2,259.6 C572.7,257.8 570.1,255.8 567.8,254.0 C565.4,252.2 563.0,250.4 561.0,248.8 C558.9,247.2 557.0,245.8 555.4,244.6 C553.7,243.3 552.4,242.4 551.0,241.3 C549.6,240.2 548.4,239.2 546.8,238.0 C545.2,236.8 543.5,235.5 541.5,234.2 C539.6,232.9 537.4,231.4 535.2,230.2 C533.1,228.9 530.8,227.7 528.7,226.7 C526.5,225.6 524.4,224.7 522.4,224.0 C520.4,223.2 518.5,222.6 516.7,222.0 C514.8,221.4 512.2,221.9 511.4,220.5 C510.6,219.1 511.3,216.1 511.6,213.9 C511.9,211.7 512.4,209.3 513.0,207.3 C513.6,205.3 514.4,203.4 515.4,202.1 C516.4,200.8 517.4,199.3 519.2,199.3Z" fill="none" stroke="#1a2202" stroke-width="1" opacity="0.9"/>
<clipPath id="tc4"><path d="M523.5,373.2 C524.7,372.4 527.4,373.7 529.4,374.0 C531.4,374.2 533.6,374.5 535.6,374.6 C537.6,374.8 539.6,374.9 541.5,375.0 C543.4,375.0 545.2,375.0 547.1,375.1 C549.0,375.3 550.8,375.4 552.8,375.7 C554.8,376.0 556.8,376.5 558.9,376.9 C561.0,377.4 563.3,377.9 565.5,378.5 C567.8,379.1 570.1,379.8 572.3,380.5 C574.5,381.2 576.7,382.0 578.9,382.8 C581.1,383.6 583.3,384.4 585.5,385.2 C587.7,386.1 589.9,387.0 592.1,388.0 C594.3,388.9 596.6,389.9 598.7,390.9 C600.8,391.9 602.8,392.8 604.8,393.9 C606.9,394.9 608.8,395.9 610.8,397.0 C612.9,398.2 615.1,399.5 617.2,400.7 C619.4,401.8 621.7,403.1 623.9,404.2 C626.1,405.3 628.3,406.4 630.5,407.5 C632.7,408.6 634.8,409.7 636.9,410.9 C638.9,412.1 640.8,413.4 642.7,414.7 C644.6,416.0 646.4,417.5 648.2,418.9 C650.1,420.2 652.0,421.6 654.0,422.9 C656.0,424.2 658.2,425.5 660.3,426.8 C662.4,428.1 664.6,429.3 666.7,430.6 C668.7,431.9 670.7,433.1 672.6,434.5 C674.5,435.9 676.4,437.3 678.2,438.8 C680.1,440.2 682.0,441.8 683.6,443.2 C685.3,444.7 686.8,446.1 688.1,447.2 C689.5,448.4 690.9,449.6 691.5,450.4 C692.1,451.2 692.2,451.3 692.0,452.0 C691.8,452.7 691.4,453.6 690.5,454.7 C689.6,455.8 688.0,457.4 686.8,458.5 C685.5,459.6 684.3,460.5 683.0,461.3 C681.7,462.1 680.7,463.6 679.2,463.2 C677.7,462.8 676.0,460.6 674.2,459.2 C672.5,457.8 670.7,456.2 668.8,454.7 C666.9,453.2 665.0,451.5 663.1,450.0 C661.2,448.4 659.3,446.7 657.5,445.3 C655.7,443.8 654.0,442.5 652.3,441.1 C650.6,439.8 649.1,438.7 647.3,437.4 C645.6,436.1 643.8,434.7 641.9,433.4 C640.1,432.1 638.1,430.9 636.2,429.7 C634.3,428.5 632.3,427.4 630.3,426.3 C628.2,425.1 626.1,423.9 623.9,422.7 C621.7,421.6 619.5,420.4 617.3,419.3 C615.1,418.2 613.0,417.3 610.9,416.3 C608.9,415.4 606.9,414.6 604.9,413.6 C602.8,412.7 600.8,411.7 598.7,410.8 C596.5,409.8 594.3,408.8 592.1,407.9 C589.9,407.0 587.7,406.2 585.5,405.3 C583.3,404.4 581.1,403.6 578.9,402.7 C576.7,401.8 574.5,401.0 572.2,400.1 C569.9,399.3 567.6,398.4 565.3,397.7 C563.1,397.0 560.9,396.3 558.8,395.7 C556.7,395.1 554.7,394.5 552.8,394.0 C550.9,393.6 549.1,393.1 547.1,392.7 C545.2,392.4 543.3,392.1 541.2,391.8 C539.2,391.5 537.0,391.4 534.8,391.2 C532.7,391.0 530.4,390.9 528.2,390.7 C526.0,390.5 522.7,391.2 521.6,390.2 C520.5,389.2 521.3,386.5 521.4,384.6 C521.5,382.7 521.8,380.8 522.1,378.9 C522.5,377.0 522.3,374.0 523.5,373.2Z"/></clipPath>
<g clip-path="url(#tc4)">
<path d="M523.5,373.2 C524.7,372.4 527.4,373.7 529.4,374.0 C531.4,374.2 533.6,374.5 535.6,374.6 C537.6,374.8 539.6,374.9 541.5,375.0 C543.4,375.0 545.2,375.0 547.1,375.1 C549.0,375.3 550.8,375.4 552.8,375.7 C554.8,376.0 556.8,376.5 558.9,376.9 C561.0,377.4 563.3,377.9 565.5,378.5 C567.8,379.1 570.1,379.8 572.3,380.5 C574.5,381.2 576.7,382.0 578.9,382.8 C581.1,383.6 583.3,384.4 585.5,385.2 C587.7,386.1 589.9,387.0 592.1,388.0 C594.3,388.9 596.6,389.9 598.7,390.9 C600.8,391.9 602.8,392.8 604.8,393.9 C606.9,394.9 608.8,395.9 610.8,397.0 C612.9,398.2 615.1,399.5 617.2,400.7 C619.4,401.8 621.7,403.1 623.9,404.2 C626.1,405.3 628.3,406.4 630.5,407.5 C632.7,408.6 634.8,409.7 636.9,410.9 C638.9,412.1 640.8,413.4 642.7,414.7 C644.6,416.0 646.4,417.5 648.2,418.9 C650.1,420.2 652.0,421.6 654.0,422.9 C656.0,424.2 658.2,425.5 660.3,426.8 C662.4,428.1 664.6,429.3 666.7,430.6 C668.7,431.9 670.7,433.1 672.6,434.5 C674.5,435.9 676.4,437.3 678.2,438.8 C680.1,440.2 682.0,441.8 683.6,443.2 C685.3,444.7 686.8,446.1 688.1,447.2 C689.5,448.4 690.9,449.6 691.5,450.4 C692.1,451.2 692.2,451.3 692.0,452.0 C691.8,452.7 691.4,453.6 690.5,454.7 C689.6,455.8 688.0,457.4 686.8,458.5 C685.5,459.6 684.3,460.5 683.0,461.3 C681.7,462.1 680.7,463.6 679.2,463.2 C677.7,462.8 676.0,460.6 674.2,459.2 C672.5,457.8 670.7,456.2 668.8,454.7 C666.9,453.2 665.0,451.5 663.1,450.0 C661.2,448.4 659.3,446.7 657.5,445.3 C655.7,443.8 654.0,442.5 652.3,441.1 C650.6,439.8 649.1,438.7 647.3,437.4 C645.6,436.1 643.8,434.7 641.9,433.4 C640.1,432.1 638.1,430.9 636.2,429.7 C634.3,428.5 632.3,427.4 630.3,426.3 C628.2,425.1 626.1,423.9 623.9,422.7 C621.7,421.6 619.5,420.4 617.3,419.3 C615.1,418.2 613.0,417.3 610.9,416.3 C608.9,415.4 606.9,414.6 604.9,413.6 C602.8,412.7 600.8,411.7 598.7,410.8 C596.5,409.8 594.3,408.8 592.1,407.9 C589.9,407.0 587.7,406.2 585.5,405.3 C583.3,404.4 581.1,403.6 578.9,402.7 C576.7,401.8 574.5,401.0 572.2,400.1 C569.9,399.3 567.6,398.4 565.3,397.7 C563.1,397.0 560.9,396.3 558.8,395.7 C556.7,395.1 554.7,394.5 552.8,394.0 C550.9,393.6 549.1,393.1 547.1,392.7 C545.2,392.4 543.3,392.1 541.2,391.8 C539.2,391.5 537.0,391.4 534.8,391.2 C532.7,391.0 530.4,390.9 528.2,390.7 C526.0,390.5 522.7,391.2 521.6,390.2 C520.5,389.2 521.3,386.5 521.4,384.6 C521.5,382.7 521.8,380.8 522.1,378.9 C522.5,377.0 522.3,374.0 523.5,373.2Z" fill="#021402"/>
<g filter="url(#blr)">
<path d="M512.6,380.6 C514.3,380.8 520.3,381.4 522.6,381.6 C524.9,381.9 525.1,381.9 526.4,382.0 C527.7,382.2 529.0,382.3 530.3,382.4 C531.6,382.5 532.9,382.7 534.2,382.8 C535.5,382.9 536.8,383.0 538.0,383.1 C539.3,383.1 540.6,383.2 541.9,383.3 C543.2,383.4 544.5,383.5 545.8,383.7 C547.1,383.8 548.4,384.0 549.6,384.2 C550.9,384.4 552.2,384.7 553.5,384.9 C554.7,385.2 556.0,385.5 557.2,385.8 C558.5,386.1 559.8,386.4 561.0,386.8 C562.3,387.1 563.5,387.5 564.8,387.8 C566.0,388.2 567.2,388.6 568.5,389.0 C569.7,389.4 570.9,389.8 572.2,390.2 C573.4,390.6 574.6,391.1 575.8,391.5 C577.0,391.9 578.3,392.4 579.5,392.9 C580.7,393.3 581.9,393.8 583.1,394.3 C584.3,394.7 585.5,395.2 586.7,395.7 C587.9,396.2 589.1,396.7 590.3,397.2 C591.5,397.7 592.7,398.2 593.9,398.7 C595.1,399.2 596.3,399.7 597.4,400.3 C598.6,400.8 599.8,401.3 601.0,401.9 C602.2,402.4 603.3,403.0 604.5,403.6 C605.6,404.2 606.8,404.8 607.9,405.4 C609.1,405.9 610.3,406.5 611.4,407.1 C612.6,407.7 613.7,408.3 614.9,408.8 C616.0,409.4 617.2,410.0 618.4,410.6 C619.5,411.2 620.7,411.7 621.8,412.3 C623.0,412.9 624.2,413.5 625.3,414.1 C626.5,414.7 627.6,415.3 628.8,415.9 C629.9,416.5 631.0,417.1 632.2,417.8 C633.3,418.4 634.4,419.1 635.5,419.8 C636.6,420.4 637.7,421.1 638.8,421.8 C639.9,422.5 641.0,423.3 642.0,424.0 C643.1,424.7 644.2,425.5 645.2,426.2 C646.3,426.9 647.3,427.7 648.4,428.5 C649.4,429.2 650.5,429.9 651.6,430.7 C652.7,431.4 653.7,432.1 654.8,432.8 C655.9,433.6 657.0,434.3 658.0,435.0 C659.1,435.7 660.2,436.5 661.2,437.2 C662.3,437.9 663.3,438.7 664.4,439.5 C665.4,440.3 666.4,441.0 667.5,441.8 C668.5,442.6 669.5,443.4 670.5,444.2 C671.5,445.0 672.5,445.9 673.5,446.7 C674.6,447.5 675.5,448.3 676.5,449.2 C677.5,450.0 678.5,450.8 679.5,451.7 C680.5,452.5 681.5,453.3 682.5,454.2 C683.4,455.0 683.6,455.2 685.4,456.8 C687.1,458.3 691.7,462.3 692.9,463.4" fill="none" stroke="#072e08" stroke-width="16.7" stroke-linecap="butt"/>
<path d="M512.6,380.4 C514.3,380.6 520.3,381.2 522.6,381.4 C524.9,381.7 525.2,381.7 526.5,381.8 C527.7,382.0 529.0,382.1 530.3,382.2 C531.6,382.3 532.9,382.5 534.2,382.6 C535.5,382.7 536.8,382.8 538.1,382.8 C539.4,382.9 540.7,383.0 542.0,383.1 C543.3,383.2 544.5,383.3 545.8,383.4 C547.1,383.6 548.4,383.7 549.7,384.0 C551.0,384.2 552.2,384.4 553.5,384.7 C554.8,385.0 556.0,385.3 557.3,385.6 C558.6,385.9 559.8,386.2 561.1,386.5 C562.3,386.9 563.6,387.2 564.8,387.6 C566.1,388.0 567.3,388.3 568.5,388.7 C569.8,389.1 571.0,389.6 572.2,390.0 C573.5,390.4 574.7,390.8 575.9,391.3 C577.1,391.7 578.3,392.2 579.5,392.6 C580.8,393.1 582.0,393.6 583.2,394.0 C584.4,394.5 585.6,395.0 586.8,395.5 C588.0,396.0 589.2,396.5 590.4,397.0 C591.6,397.5 592.8,398.0 594.0,398.5 C595.2,399.0 596.3,399.5 597.5,400.1 C598.7,400.6 599.9,401.1 601.1,401.7 C602.2,402.2 603.4,402.8 604.6,403.4 C605.7,404.0 606.9,404.6 608.0,405.1 C609.2,405.7 610.3,406.3 611.5,406.9 C612.7,407.5 613.8,408.1 615.0,408.7 C616.1,409.2 617.3,409.8 618.5,410.4 C619.6,411.0 620.8,411.5 621.9,412.1 C623.1,412.7 624.3,413.3 625.4,413.9 C626.6,414.5 627.7,415.1 628.9,415.7 C630.0,416.3 631.1,416.9 632.3,417.6 C633.4,418.2 634.5,418.9 635.6,419.6 C636.7,420.2 637.8,420.9 638.9,421.6 C640.0,422.3 641.1,423.1 642.1,423.8 C643.2,424.6 644.3,425.3 645.3,426.0 C646.4,426.8 647.4,427.5 648.5,428.3 C649.6,429.0 650.6,429.8 651.7,430.5 C652.8,431.2 653.8,431.9 654.9,432.7 C656.0,433.4 657.1,434.1 658.2,434.8 C659.2,435.6 660.3,436.3 661.4,437.0 C662.4,437.8 663.5,438.5 664.5,439.3 C665.5,440.1 666.6,440.9 667.6,441.6 C668.6,442.4 669.7,443.2 670.7,444.1 C671.7,444.9 672.7,445.7 673.7,446.5 C674.7,447.3 675.7,448.1 676.7,449.0 C677.7,449.8 678.7,450.7 679.7,451.5 C680.7,452.3 681.6,453.2 682.6,454.0 C683.6,454.9 683.8,455.1 685.5,456.6 C687.3,458.1 691.8,462.1 693.1,463.2" fill="none" stroke="#0e5410" stroke-width="13.9" stroke-linecap="butt"/>
<path d="M512.7,380.0 C514.3,380.2 520.3,380.8 522.6,381.1 C524.9,381.3 525.2,381.4 526.5,381.5 C527.8,381.6 529.1,381.8 530.4,381.9 C531.7,382.0 533.0,382.1 534.3,382.2 C535.5,382.3 536.8,382.4 538.1,382.5 C539.4,382.6 540.7,382.7 542.0,382.8 C543.3,382.9 544.6,382.9 545.9,383.1 C547.2,383.2 548.5,383.4 549.8,383.6 C551.0,383.8 552.3,384.1 553.6,384.4 C554.9,384.6 556.1,384.9 557.4,385.2 C558.6,385.5 559.9,385.9 561.2,386.2 C562.4,386.5 563.7,386.9 564.9,387.3 C566.2,387.6 567.4,388.0 568.6,388.4 C569.9,388.8 571.1,389.2 572.3,389.6 C573.6,390.1 574.8,390.5 576.0,390.9 C577.2,391.4 578.4,391.8 579.7,392.3 C580.9,392.8 582.1,393.2 583.3,393.7 C584.5,394.2 585.7,394.7 586.9,395.1 C588.1,395.6 589.3,396.1 590.5,396.6 C591.7,397.1 592.9,397.6 594.1,398.1 C595.3,398.7 596.5,399.2 597.7,399.7 C598.9,400.3 600.0,400.8 601.2,401.4 C602.4,401.9 603.5,402.5 604.7,403.1 C605.9,403.7 607.0,404.2 608.2,404.8 C609.3,405.4 610.5,406.0 611.6,406.6 C612.8,407.2 614.0,407.8 615.1,408.3 C616.3,408.9 617.4,409.5 618.6,410.1 C619.8,410.7 620.9,411.3 622.1,411.8 C623.3,412.4 624.4,413.0 625.6,413.6 C626.7,414.2 627.9,414.8 629.0,415.4 C630.2,416.0 631.3,416.6 632.4,417.3 C633.6,417.9 634.7,418.6 635.8,419.3 C636.9,420.0 638.0,420.6 639.1,421.3 C640.2,422.1 641.2,422.8 642.3,423.6 C643.4,424.3 644.4,425.0 645.5,425.8 C646.6,426.5 647.6,427.3 648.7,428.0 C649.7,428.8 650.8,429.5 651.9,430.2 C653.0,431.0 654.0,431.7 655.1,432.4 C656.2,433.1 657.3,433.8 658.4,434.6 C659.4,435.3 660.5,436.0 661.6,436.8 C662.6,437.5 663.7,438.3 664.7,439.0 C665.8,439.8 666.8,440.6 667.8,441.4 C668.9,442.2 669.9,443.0 670.9,443.8 C671.9,444.6 672.9,445.4 673.9,446.2 C674.9,447.0 675.9,447.9 676.9,448.7 C677.9,449.5 678.9,450.4 679.9,451.2 C680.9,452.1 681.9,452.9 682.9,453.8 C683.9,454.6 684.1,454.8 685.8,456.3 C687.5,457.9 692.0,461.8 693.3,463.0" fill="none" stroke="#166a17" stroke-width="9.6" stroke-linecap="butt"/>
<path d="M512.7,379.7 C514.4,379.8 520.4,380.5 522.7,380.7 C525.0,381.0 525.2,381.0 526.5,381.1 C527.8,381.3 529.1,381.4 530.4,381.5 C531.7,381.6 533.0,381.8 534.3,381.9 C535.6,382.0 536.9,382.1 538.2,382.2 C539.5,382.2 540.8,382.3 542.1,382.4 C543.4,382.5 544.7,382.6 546.0,382.7 C547.3,382.9 548.6,383.0 549.8,383.2 C551.1,383.4 552.4,383.7 553.7,384.0 C554.9,384.3 556.2,384.5 557.5,384.8 C558.7,385.1 560.0,385.5 561.3,385.8 C562.5,386.1 563.8,386.5 565.0,386.9 C566.3,387.2 567.5,387.6 568.7,388.0 C570.0,388.4 571.2,388.8 572.4,389.2 C573.7,389.7 574.9,390.1 576.1,390.5 C577.4,391.0 578.6,391.4 579.8,391.9 C581.0,392.4 582.2,392.8 583.4,393.3 C584.6,393.8 585.8,394.3 587.0,394.8 C588.2,395.3 589.5,395.8 590.7,396.3 C591.9,396.8 593.1,397.3 594.2,397.8 C595.4,398.3 596.6,398.8 597.8,399.4 C599.0,399.9 600.2,400.4 601.4,401.0 C602.5,401.6 603.7,402.1 604.9,402.7 C606.0,403.3 607.2,403.9 608.3,404.5 C609.5,405.1 610.6,405.7 611.8,406.3 C613.0,406.9 614.1,407.4 615.3,408.0 C616.4,408.6 617.6,409.2 618.8,409.8 C619.9,410.4 621.1,410.9 622.3,411.5 C623.4,412.1 624.6,412.7 625.7,413.3 C626.9,413.9 628.0,414.5 629.2,415.1 C630.3,415.7 631.5,416.3 632.6,417.0 C633.7,417.6 634.9,418.3 636.0,419.0 C637.1,419.7 638.2,420.3 639.3,421.1 C640.4,421.8 641.4,422.5 642.5,423.3 C643.5,424.0 644.6,424.7 645.7,425.5 C646.7,426.2 647.8,427.0 648.9,427.8 C649.9,428.5 651.0,429.2 652.1,430.0 C653.2,430.7 654.2,431.4 655.3,432.1 C656.4,432.8 657.5,433.6 658.6,434.3 C659.6,435.0 660.7,435.7 661.8,436.5 C662.9,437.2 663.9,438.0 665.0,438.7 C666.0,439.5 667.1,440.3 668.1,441.1 C669.1,441.9 670.1,442.7 671.2,443.5 C672.2,444.3 673.2,445.1 674.2,445.9 C675.2,446.7 676.2,447.6 677.2,448.4 C678.2,449.2 679.2,450.1 680.2,450.9 C681.2,451.8 682.2,452.6 683.1,453.5 C684.1,454.3 684.3,454.5 686.1,456.1 C687.8,457.6 692.3,461.6 693.6,462.7" fill="none" stroke="#1f7e20" stroke-width="4.9" stroke-linecap="butt"/>
</g>
<path d="M512.6,380.7 C514.3,380.8 520.2,381.5 522.5,381.7 C524.9,381.9 525.1,382.0 526.4,382.1 C527.7,382.2 529.0,382.4 530.3,382.5 C531.6,382.6 532.9,382.7 534.2,382.8 C535.5,382.9 536.7,383.0 538.0,383.1 C539.3,383.2 540.6,383.3 541.9,383.4 C543.2,383.5 544.5,383.6 545.8,383.7 C547.1,383.9 548.4,384.0 549.6,384.2 C550.9,384.4 552.2,384.7 553.4,385.0 C554.7,385.3 556.0,385.6 557.2,385.9 C558.5,386.2 559.7,386.5 561.0,386.8 C562.2,387.2 563.5,387.5 564.7,387.9 C566.0,388.3 567.2,388.6 568.5,389.0 C569.7,389.4 570.9,389.8 572.1,390.3 C573.4,390.7 574.6,391.1 575.8,391.6 C577.0,392.0 578.2,392.5 579.4,392.9 C580.7,393.4 581.9,393.9 583.1,394.3 C584.3,394.8 585.5,395.3 586.7,395.8 C587.9,396.3 589.1,396.8 590.3,397.3 C591.5,397.7 592.7,398.2 593.9,398.8 C595.1,399.3 596.2,399.8 597.4,400.3 C598.6,400.9 599.8,401.4 601.0,401.9 C602.1,402.5 603.3,403.1 604.4,403.7 C605.6,404.2 606.8,404.8 607.9,405.4 C609.1,406.0 610.2,406.6 611.4,407.2 C612.5,407.7 613.7,408.3 614.9,408.9 C616.0,409.5 617.2,410.1 618.3,410.6 C619.5,411.2 620.7,411.8 621.8,412.4 C623.0,413.0 624.1,413.5 625.3,414.1 C626.4,414.7 627.6,415.3 628.7,415.9 C629.9,416.6 631.0,417.2 632.1,417.8 C633.3,418.4 634.4,419.1 635.5,419.8 C636.6,420.5 637.7,421.1 638.8,421.8 C639.9,422.6 640.9,423.3 642.0,424.0 C643.1,424.8 644.1,425.5 645.2,426.2 C646.2,427.0 647.3,427.8 648.4,428.5 C649.4,429.2 650.5,430.0 651.6,430.7 C652.6,431.4 653.7,432.2 654.8,432.9 C655.8,433.6 656.9,434.3 658.0,435.1 C659.1,435.8 660.1,436.5 661.2,437.2 C662.2,438.0 663.3,438.8 664.3,439.5 C665.4,440.3 666.4,441.1 667.4,441.9 C668.5,442.7 669.5,443.5 670.5,444.3 C671.5,445.1 672.5,445.9 673.5,446.7 C674.5,447.5 675.5,448.4 676.5,449.2 C677.5,450.0 678.5,450.9 679.5,451.7 C680.5,452.5 681.4,453.4 682.4,454.2 C683.4,455.1 683.6,455.3 685.4,456.8 C687.1,458.3 691.6,462.3 692.9,463.4" fill="none" stroke="#000" stroke-opacity="0.30" stroke-width="23.4" stroke-dasharray="1.1 1.1"/>
</g>
<path d="M523.5,373.2 C524.7,372.4 527.4,373.7 529.4,374.0 C531.4,374.2 533.6,374.5 535.6,374.6 C537.6,374.8 539.6,374.9 541.5,375.0 C543.4,375.0 545.2,375.0 547.1,375.1 C549.0,375.3 550.8,375.4 552.8,375.7 C554.8,376.0 556.8,376.5 558.9,376.9 C561.0,377.4 563.3,377.9 565.5,378.5 C567.8,379.1 570.1,379.8 572.3,380.5 C574.5,381.2 576.7,382.0 578.9,382.8 C581.1,383.6 583.3,384.4 585.5,385.2 C587.7,386.1 589.9,387.0 592.1,388.0 C594.3,388.9 596.6,389.9 598.7,390.9 C600.8,391.9 602.8,392.8 604.8,393.9 C606.9,394.9 608.8,395.9 610.8,397.0 C612.9,398.2 615.1,399.5 617.2,400.7 C619.4,401.8 621.7,403.1 623.9,404.2 C626.1,405.3 628.3,406.4 630.5,407.5 C632.7,408.6 634.8,409.7 636.9,410.9 C638.9,412.1 640.8,413.4 642.7,414.7 C644.6,416.0 646.4,417.5 648.2,418.9 C650.1,420.2 652.0,421.6 654.0,422.9 C656.0,424.2 658.2,425.5 660.3,426.8 C662.4,428.1 664.6,429.3 666.7,430.6 C668.7,431.9 670.7,433.1 672.6,434.5 C674.5,435.9 676.4,437.3 678.2,438.8 C680.1,440.2 682.0,441.8 683.6,443.2 C685.3,444.7 686.8,446.1 688.1,447.2 C689.5,448.4 690.9,449.6 691.5,450.4 C692.1,451.2 692.2,451.3 692.0,452.0 C691.8,452.7 691.4,453.6 690.5,454.7 C689.6,455.8 688.0,457.4 686.8,458.5 C685.5,459.6 684.3,460.5 683.0,461.3 C681.7,462.1 680.7,463.6 679.2,463.2 C677.7,462.8 676.0,460.6 674.2,459.2 C672.5,457.8 670.7,456.2 668.8,454.7 C666.9,453.2 665.0,451.5 663.1,450.0 C661.2,448.4 659.3,446.7 657.5,445.3 C655.7,443.8 654.0,442.5 652.3,441.1 C650.6,439.8 649.1,438.7 647.3,437.4 C645.6,436.1 643.8,434.7 641.9,433.4 C640.1,432.1 638.1,430.9 636.2,429.7 C634.3,428.5 632.3,427.4 630.3,426.3 C628.2,425.1 626.1,423.9 623.9,422.7 C621.7,421.6 619.5,420.4 617.3,419.3 C615.1,418.2 613.0,417.3 610.9,416.3 C608.9,415.4 606.9,414.6 604.9,413.6 C602.8,412.7 600.8,411.7 598.7,410.8 C596.5,409.8 594.3,408.8 592.1,407.9 C589.9,407.0 587.7,406.2 585.5,405.3 C583.3,404.4 581.1,403.6 578.9,402.7 C576.7,401.8 574.5,401.0 572.2,400.1 C569.9,399.3 567.6,398.4 565.3,397.7 C563.1,397.0 560.9,396.3 558.8,395.7 C556.7,395.1 554.7,394.5 552.8,394.0 C550.9,393.6 549.1,393.1 547.1,392.7 C545.2,392.4 543.3,392.1 541.2,391.8 C539.2,391.5 537.0,391.4 534.8,391.2 C532.7,391.0 530.4,390.9 528.2,390.7 C526.0,390.5 522.7,391.2 521.6,390.2 C520.5,389.2 521.3,386.5 521.4,384.6 C521.5,382.7 521.8,380.8 522.1,378.9 C522.5,377.0 522.3,374.0 523.5,373.2Z" fill="none" stroke="#021402" stroke-width="1" opacity="0.9"/>
<clipPath id="tc5"><path d="M506.1,434.0 C507.3,433.4 510.3,434.3 512.4,434.5 C514.5,434.6 516.7,434.8 518.9,434.9 C521.1,434.9 523.3,435.0 525.5,434.9 C527.7,434.9 529.8,434.8 531.9,434.8 C533.9,434.7 535.8,434.6 537.8,434.6 C539.8,434.7 541.8,434.8 543.9,435.1 C546.0,435.4 548.3,435.8 550.5,436.3 C552.8,436.8 555.1,437.4 557.3,438.1 C559.5,438.8 561.7,439.6 563.9,440.4 C566.1,441.2 568.3,442.0 570.5,442.8 C572.7,443.6 575.0,444.4 577.1,445.1 C579.3,445.9 581.5,446.6 583.5,447.4 C585.6,448.1 587.6,448.7 589.6,449.5 C591.7,450.2 593.7,450.9 595.8,451.8 C597.9,452.6 600.1,453.6 602.3,454.5 C604.5,455.4 606.7,456.3 608.9,457.2 C611.1,458.1 613.3,458.9 615.5,459.7 C617.7,460.5 619.9,461.2 622.1,462.0 C624.3,462.8 626.5,463.6 628.6,464.4 C630.7,465.3 632.6,466.2 634.7,467.2 C636.7,468.1 638.7,469.2 640.8,470.4 C642.9,471.6 645.1,472.9 647.3,474.1 C649.5,475.4 651.6,476.5 653.9,477.6 C656.2,478.7 658.5,479.6 660.9,480.7 C663.3,481.8 665.9,482.9 668.3,484.1 C670.7,485.2 673.0,486.4 675.3,487.6 C677.6,488.9 679.7,490.1 681.9,491.4 C684.1,492.7 686.3,494.2 688.5,495.6 C690.7,497.1 692.9,498.8 694.9,500.3 C696.8,501.8 698.7,503.4 700.3,504.8 C701.9,506.2 703.8,507.8 704.6,508.8 C705.4,509.8 705.3,509.8 705.1,510.7 C704.9,511.6 704.5,512.8 703.6,514.0 C702.7,515.2 701.3,516.7 699.9,517.8 C698.5,518.9 696.7,519.8 695.1,520.6 C693.5,521.4 691.8,522.8 690.4,522.5 C689.0,522.2 688.1,520.1 686.9,519.0 C685.8,517.9 684.7,517.0 683.4,516.0 C682.1,515.0 680.7,514.0 679.2,513.0 C677.7,512.0 676.1,510.8 674.5,509.8 C672.9,508.8 671.3,507.8 669.7,506.8 C668.2,505.8 666.7,504.9 665.0,503.8 C663.4,502.8 661.8,501.6 660.0,500.4 C658.1,499.2 656.0,497.8 653.9,496.6 C651.8,495.4 649.5,494.3 647.2,493.2 C645.0,492.1 642.8,491.0 640.7,490.0 C638.6,488.9 636.5,487.9 634.5,486.8 C632.5,485.8 630.6,484.8 628.5,484.0 C626.5,483.1 624.3,482.3 622.1,481.5 C620.0,480.8 617.7,480.2 615.5,479.5 C613.3,478.8 611.1,478.2 608.9,477.5 C606.7,476.7 604.5,476.0 602.2,475.1 C600.0,474.3 597.8,473.4 595.7,472.5 C593.6,471.6 591.5,470.7 589.5,469.8 C587.5,469.0 585.6,468.2 583.5,467.4 C581.5,466.5 579.3,465.8 577.1,465.0 C575.0,464.2 572.7,463.4 570.5,462.6 C568.3,461.8 566.1,461.0 563.9,460.2 C561.7,459.4 559.5,458.6 557.3,457.9 C555.1,457.1 553.0,456.3 550.9,455.7 C548.8,455.1 546.8,454.6 544.6,454.2 C542.5,453.9 540.3,453.8 538.2,453.7 C536.0,453.6 534.0,453.6 531.9,453.5 C529.8,453.4 527.7,453.4 525.5,453.4 C523.3,453.4 521.0,453.4 518.6,453.3 C516.3,453.2 513.9,453.0 511.6,452.9 C509.3,452.8 506.1,453.8 504.9,452.4 C503.7,451.0 504.4,447.2 504.5,444.8 C504.6,442.4 504.9,440.0 505.2,438.2 C505.5,436.4 504.9,434.6 506.1,434.0Z"/></clipPath>
<g clip-path="url(#tc5)">
<path d="M506.1,434.0 C507.3,433.4 510.3,434.3 512.4,434.5 C514.5,434.6 516.7,434.8 518.9,434.9 C521.1,434.9 523.3,435.0 525.5,434.9 C527.7,434.9 529.8,434.8 531.9,434.8 C533.9,434.7 535.8,434.6 537.8,434.6 C539.8,434.7 541.8,434.8 543.9,435.1 C546.0,435.4 548.3,435.8 550.5,436.3 C552.8,436.8 555.1,437.4 557.3,438.1 C559.5,438.8 561.7,439.6 563.9,440.4 C566.1,441.2 568.3,442.0 570.5,442.8 C572.7,443.6 575.0,444.4 577.1,445.1 C579.3,445.9 581.5,446.6 583.5,447.4 C585.6,448.1 587.6,448.7 589.6,449.5 C591.7,450.2 593.7,450.9 595.8,451.8 C597.9,452.6 600.1,453.6 602.3,454.5 C604.5,455.4 606.7,456.3 608.9,457.2 C611.1,458.1 613.3,458.9 615.5,459.7 C617.7,460.5 619.9,461.2 622.1,462.0 C624.3,462.8 626.5,463.6 628.6,464.4 C630.7,465.3 632.6,466.2 634.7,467.2 C636.7,468.1 638.7,469.2 640.8,470.4 C642.9,471.6 645.1,472.9 647.3,474.1 C649.5,475.4 651.6,476.5 653.9,477.6 C656.2,478.7 658.5,479.6 660.9,480.7 C663.3,481.8 665.9,482.9 668.3,484.1 C670.7,485.2 673.0,486.4 675.3,487.6 C677.6,488.9 679.7,490.1 681.9,491.4 C684.1,492.7 686.3,494.2 688.5,495.6 C690.7,497.1 692.9,498.8 694.9,500.3 C696.8,501.8 698.7,503.4 700.3,504.8 C701.9,506.2 703.8,507.8 704.6,508.8 C705.4,509.8 705.3,509.8 705.1,510.7 C704.9,511.6 704.5,512.8 703.6,514.0 C702.7,515.2 701.3,516.7 699.9,517.8 C698.5,518.9 696.7,519.8 695.1,520.6 C693.5,521.4 691.8,522.8 690.4,522.5 C689.0,522.2 688.1,520.1 686.9,519.0 C685.8,517.9 684.7,517.0 683.4,516.0 C682.1,515.0 680.7,514.0 679.2,513.0 C677.7,512.0 676.1,510.8 674.5,509.8 C672.9,508.8 671.3,507.8 669.7,506.8 C668.2,505.8 666.7,504.9 665.0,503.8 C663.4,502.8 661.8,501.6 660.0,500.4 C658.1,499.2 656.0,497.8 653.9,496.6 C651.8,495.4 649.5,494.3 647.2,493.2 C645.0,492.1 642.8,491.0 640.7,490.0 C638.6,488.9 636.5,487.9 634.5,486.8 C632.5,485.8 630.6,484.8 628.5,484.0 C626.5,483.1 624.3,482.3 622.1,481.5 C620.0,480.8 617.7,480.2 615.5,479.5 C613.3,478.8 611.1,478.2 608.9,477.5 C606.7,476.7 604.5,476.0 602.2,475.1 C600.0,474.3 597.8,473.4 595.7,472.5 C593.6,471.6 591.5,470.7 589.5,469.8 C587.5,469.0 585.6,468.2 583.5,467.4 C581.5,466.5 579.3,465.8 577.1,465.0 C575.0,464.2 572.7,463.4 570.5,462.6 C568.3,461.8 566.1,461.0 563.9,460.2 C561.7,459.4 559.5,458.6 557.3,457.9 C555.1,457.1 553.0,456.3 550.9,455.7 C548.8,455.1 546.8,454.6 544.6,454.2 C542.5,453.9 540.3,453.8 538.2,453.7 C536.0,453.6 534.0,453.6 531.9,453.5 C529.8,453.4 527.7,453.4 525.5,453.4 C523.3,453.4 521.0,453.4 518.6,453.3 C516.3,453.2 513.9,453.0 511.6,452.9 C509.3,452.8 506.1,453.8 504.9,452.4 C503.7,451.0 504.4,447.2 504.5,444.8 C504.6,442.4 504.9,440.0 505.2,438.2 C505.5,436.4 504.9,434.6 506.1,434.0Z" fill="#1a2202"/>
<g filter="url(#blr)">
<path d="M495.5,442.4 C497.2,442.5 503.1,442.9 505.5,443.1 C507.9,443.3 508.5,443.4 509.9,443.5 C511.4,443.6 512.9,443.7 514.4,443.7 C515.9,443.8 517.3,443.9 518.8,444.0 C520.3,444.0 521.8,444.0 523.3,444.1 C524.8,444.1 526.2,444.1 527.7,444.1 C529.2,444.0 530.7,444.0 532.2,444.0 C533.7,444.0 535.1,444.0 536.6,444.1 C538.1,444.1 539.6,444.2 541.1,444.3 C542.5,444.5 544.0,444.6 545.5,444.9 C546.9,445.1 548.4,445.4 549.8,445.7 C551.3,446.1 552.7,446.4 554.1,446.9 C555.6,447.3 556.9,447.8 558.3,448.3 C559.8,448.8 561.1,449.3 562.5,449.8 C563.9,450.2 565.3,450.8 566.7,451.3 C568.1,451.8 569.5,452.3 570.9,452.8 C572.3,453.3 573.7,453.8 575.1,454.2 C576.5,454.7 577.9,455.2 579.3,455.7 C580.7,456.2 582.1,456.7 583.5,457.2 C584.9,457.7 586.3,458.2 587.7,458.8 C589.1,459.3 590.4,459.8 591.8,460.4 C593.2,460.9 594.6,461.5 595.9,462.1 C597.3,462.7 598.7,463.3 600.0,463.8 C601.4,464.4 602.8,465.0 604.1,465.5 C605.5,466.0 606.9,466.6 608.3,467.1 C609.7,467.6 611.1,468.1 612.5,468.6 C613.9,469.1 615.3,469.5 616.7,470.0 C618.1,470.5 619.5,471.0 620.9,471.4 C622.3,471.9 623.7,472.4 625.1,472.9 C626.5,473.4 627.9,474.0 629.2,474.6 C630.6,475.1 632.0,475.7 633.3,476.4 C634.6,477.0 635.9,477.7 637.3,478.4 C638.6,479.1 639.9,479.8 641.2,480.5 C642.5,481.2 643.8,481.9 645.1,482.6 C646.4,483.3 647.7,483.9 649.1,484.6 C650.4,485.2 651.8,485.8 653.1,486.5 C654.5,487.1 655.8,487.7 657.1,488.4 C658.5,489.1 659.8,489.7 661.1,490.4 C662.4,491.1 663.7,491.8 665.0,492.5 C666.3,493.3 667.6,494.0 668.8,494.8 C670.1,495.5 671.4,496.3 672.6,497.1 C673.9,497.9 675.2,498.6 676.4,499.4 C677.7,500.2 678.9,501.0 680.2,501.8 C681.4,502.6 682.6,503.4 683.9,504.3 C685.1,505.1 686.3,506.0 687.5,506.9 C688.7,507.7 689.8,508.7 691.0,509.6 C692.1,510.5 693.3,511.5 694.4,512.5 C695.5,513.5 695.8,513.9 697.6,515.6 C699.3,517.3 703.5,521.4 704.7,522.6" fill="none" stroke="#3a5008" stroke-width="18.0" stroke-linecap="butt"/>
<path d="M495.6,442.1 C497.2,442.2 503.1,442.7 505.5,442.8 C507.9,443.0 508.5,443.1 510.0,443.2 C511.4,443.3 512.9,443.4 514.4,443.5 C515.9,443.5 517.4,443.6 518.9,443.7 C520.3,443.7 521.8,443.8 523.3,443.8 C524.8,443.8 526.3,443.8 527.8,443.8 C529.3,443.7 530.7,443.7 532.2,443.7 C533.7,443.7 535.2,443.7 536.7,443.8 C538.2,443.8 539.6,443.9 541.1,444.0 C542.6,444.2 544.1,444.3 545.5,444.6 C547.0,444.8 548.5,445.1 549.9,445.4 C551.3,445.8 552.8,446.1 554.2,446.6 C555.6,447.0 557.0,447.5 558.4,448.0 C559.8,448.5 561.2,449.0 562.6,449.5 C564.0,450.0 565.4,450.5 566.8,451.0 C568.2,451.5 569.6,452.0 571.0,452.5 C572.4,453.0 573.8,453.5 575.2,454.0 C576.6,454.5 578.0,455.0 579.4,455.4 C580.8,455.9 582.2,456.4 583.6,456.9 C585.0,457.5 586.4,458.0 587.8,458.5 C589.2,459.0 590.6,459.5 591.9,460.1 C593.3,460.7 594.7,461.2 596.0,461.8 C597.4,462.4 598.8,463.0 600.1,463.5 C601.5,464.1 602.9,464.7 604.3,465.2 C605.7,465.8 607.0,466.3 608.4,466.8 C609.8,467.3 611.2,467.8 612.6,468.3 C614.0,468.8 615.4,469.3 616.8,469.7 C618.3,470.2 619.7,470.7 621.1,471.2 C622.5,471.7 623.9,472.1 625.3,472.7 C626.7,473.2 628.0,473.7 629.4,474.3 C630.8,474.9 632.1,475.5 633.5,476.1 C634.8,476.8 636.1,477.5 637.4,478.2 C638.7,478.9 640.0,479.6 641.3,480.3 C642.6,481.0 644.0,481.7 645.3,482.4 C646.6,483.0 647.9,483.7 649.2,484.4 C650.6,485.0 651.9,485.6 653.3,486.2 C654.6,486.9 656.0,487.5 657.3,488.2 C658.6,488.8 660.0,489.5 661.3,490.2 C662.6,490.9 663.9,491.6 665.2,492.3 C666.5,493.0 667.8,493.8 669.0,494.5 C670.3,495.3 671.6,496.1 672.8,496.8 C674.1,497.6 675.4,498.4 676.6,499.2 C677.9,500.0 679.1,500.7 680.4,501.6 C681.6,502.4 682.9,503.2 684.1,504.1 C685.3,504.9 686.5,505.7 687.7,506.6 C688.9,507.5 690.1,508.4 691.2,509.4 C692.4,510.3 693.5,511.3 694.6,512.3 C695.7,513.3 696.1,513.7 697.8,515.4 C699.5,517.1 703.8,521.2 705.0,522.3" fill="none" stroke="#6c9012" stroke-width="15.0" stroke-linecap="butt"/>
<path d="M495.6,441.6 C497.2,441.7 503.2,442.2 505.6,442.4 C508.0,442.6 508.5,442.6 510.0,442.7 C511.5,442.8 513.0,442.9 514.5,443.0 C515.9,443.1 517.4,443.2 518.9,443.2 C520.4,443.3 521.9,443.3 523.4,443.3 C524.9,443.3 526.3,443.3 527.8,443.3 C529.3,443.3 530.8,443.3 532.3,443.3 C533.8,443.3 535.3,443.2 536.8,443.3 C538.2,443.3 539.7,443.4 541.2,443.6 C542.7,443.7 544.2,443.9 545.6,444.1 C547.1,444.3 548.6,444.6 550.0,445.0 C551.4,445.3 552.9,445.7 554.3,446.1 C555.7,446.5 557.1,447.1 558.5,447.5 C559.9,448.0 561.3,448.5 562.8,449.0 C564.2,449.5 565.6,450.0 567.0,450.5 C568.4,451.0 569.8,451.5 571.2,452.0 C572.6,452.5 574.0,453.0 575.4,453.5 C576.8,454.0 578.2,454.5 579.6,455.0 C581.0,455.5 582.4,456.0 583.8,456.5 C585.2,457.0 586.6,457.5 588.0,458.0 C589.3,458.6 590.7,459.1 592.1,459.7 C593.5,460.2 594.9,460.8 596.2,461.4 C597.6,462.0 599.0,462.5 600.3,463.1 C601.7,463.7 603.1,464.2 604.5,464.8 C605.9,465.3 607.2,465.9 608.6,466.4 C610.0,466.9 611.4,467.4 612.8,467.9 C614.2,468.4 615.7,468.8 617.1,469.3 C618.5,469.8 619.9,470.3 621.3,470.8 C622.7,471.3 624.1,471.7 625.5,472.2 C626.9,472.8 628.3,473.3 629.6,473.9 C631.0,474.5 632.3,475.1 633.7,475.7 C635.0,476.4 636.3,477.1 637.6,477.8 C639.0,478.5 640.3,479.2 641.6,479.9 C642.9,480.6 644.2,481.3 645.5,482.0 C646.8,482.7 648.2,483.4 649.5,484.0 C650.8,484.7 652.2,485.3 653.5,485.9 C654.9,486.5 656.2,487.2 657.6,487.8 C658.9,488.5 660.2,489.1 661.6,489.8 C662.9,490.5 664.2,491.2 665.5,491.9 C666.8,492.7 668.1,493.4 669.3,494.2 C670.6,494.9 671.9,495.7 673.1,496.5 C674.4,497.2 675.7,498.0 676.9,498.8 C678.2,499.6 679.5,500.4 680.7,501.2 C682.0,502.0 683.2,502.8 684.4,503.7 C685.6,504.5 686.8,505.4 688.0,506.3 C689.2,507.2 690.4,508.1 691.6,509.0 C692.7,510.0 693.8,510.9 694.9,511.9 C696.0,512.9 696.4,513.4 698.1,515.0 C699.9,516.7 704.1,520.8 705.3,522.0" fill="none" stroke="#88aa1a" stroke-width="10.3" stroke-linecap="butt"/>
<path d="M495.6,441.1 C497.3,441.3 503.2,441.7 505.6,441.9 C508.0,442.1 508.6,442.1 510.0,442.2 C511.5,442.3 513.0,442.4 514.5,442.5 C516.0,442.6 517.5,442.7 519.0,442.7 C520.5,442.8 521.9,442.8 523.4,442.8 C524.9,442.8 526.4,442.8 527.9,442.8 C529.4,442.8 530.9,442.8 532.4,442.7 C533.9,442.7 535.4,442.7 536.8,442.8 C538.3,442.8 539.8,442.9 541.3,443.1 C542.8,443.2 544.3,443.4 545.7,443.6 C547.2,443.8 548.7,444.1 550.1,444.5 C551.6,444.8 553.0,445.2 554.4,445.6 C555.9,446.1 557.3,446.6 558.7,447.0 C560.1,447.5 561.5,448.0 562.9,448.5 C564.3,449.0 565.7,449.5 567.1,450.0 C568.5,450.5 569.9,451.0 571.3,451.5 C572.7,452.0 574.1,452.5 575.5,453.0 C576.9,453.5 578.3,454.0 579.7,454.5 C581.1,455.0 582.5,455.5 583.9,456.0 C585.3,456.5 586.7,457.0 588.1,457.6 C589.5,458.1 590.9,458.6 592.3,459.2 C593.7,459.7 595.1,460.3 596.4,460.9 C597.8,461.5 599.2,462.1 600.5,462.6 C601.9,463.2 603.3,463.8 604.7,464.3 C606.1,464.9 607.5,465.4 608.9,465.9 C610.3,466.4 611.7,466.9 613.1,467.4 C614.5,467.9 615.9,468.4 617.3,468.9 C618.7,469.3 620.1,469.8 621.5,470.3 C622.9,470.8 624.3,471.3 625.7,471.8 C627.1,472.3 628.5,472.9 629.9,473.5 C631.2,474.1 632.6,474.7 633.9,475.3 C635.3,476.0 636.6,476.7 637.9,477.4 C639.2,478.1 640.5,478.8 641.8,479.5 C643.1,480.2 644.5,480.9 645.8,481.6 C647.1,482.3 648.4,483.0 649.8,483.6 C651.1,484.3 652.5,484.9 653.8,485.5 C655.2,486.1 656.5,486.8 657.9,487.4 C659.2,488.1 660.5,488.7 661.9,489.4 C663.2,490.1 664.5,490.8 665.8,491.5 C667.1,492.3 668.4,493.0 669.7,493.7 C670.9,494.5 672.2,495.3 673.5,496.1 C674.8,496.8 676.0,497.6 677.3,498.4 C678.6,499.2 679.8,500.0 681.1,500.8 C682.3,501.6 683.5,502.4 684.8,503.3 C686.0,504.1 687.2,505.0 688.4,505.9 C689.6,506.8 690.8,507.7 691.9,508.6 C693.1,509.6 694.2,510.6 695.3,511.6 C696.4,512.6 696.8,513.0 698.5,514.7 C700.3,516.3 704.5,520.5 705.7,521.6" fill="none" stroke="#a0bc2e" stroke-width="5.2" stroke-linecap="butt"/>
<path d="M495.6,440.6 C497.3,440.7 503.2,441.2 505.6,441.4 C508.0,441.5 508.6,441.6 510.1,441.7 C511.6,441.8 513.1,441.9 514.6,442.0 C516.0,442.1 517.5,442.2 519.0,442.2 C520.5,442.3 522.0,442.3 523.5,442.3 C525.0,442.3 526.5,442.3 528.0,442.3 C529.5,442.3 531.0,442.2 532.5,442.2 C534.0,442.2 535.4,442.2 536.9,442.2 C538.4,442.3 539.9,442.4 541.4,442.5 C542.9,442.7 544.4,442.8 545.8,443.1 C547.3,443.3 548.8,443.6 550.2,444.0 C551.7,444.3 553.1,444.7 554.6,445.1 C556.0,445.5 557.4,446.1 558.8,446.5 C560.2,447.0 561.6,447.5 563.0,448.0 C564.4,448.5 565.8,449.0 567.2,449.5 C568.6,450.0 570.1,450.5 571.5,451.0 C572.9,451.5 574.3,452.0 575.7,452.5 C577.1,453.0 578.5,453.5 579.9,454.0 C581.3,454.5 582.7,455.0 584.1,455.5 C585.5,456.0 586.9,456.5 588.3,457.1 C589.7,457.6 591.1,458.1 592.5,458.7 C593.9,459.2 595.3,459.8 596.6,460.4 C598.0,461.0 599.4,461.6 600.8,462.1 C602.1,462.7 603.5,463.3 604.9,463.8 C606.3,464.4 607.7,464.9 609.1,465.4 C610.5,465.9 611.9,466.5 613.3,467.0 C614.7,467.4 616.1,467.9 617.5,468.4 C619.0,468.9 620.4,469.4 621.8,469.9 C623.2,470.3 624.6,470.8 626.0,471.4 C627.4,471.9 628.8,472.5 630.1,473.0 C631.5,473.6 632.9,474.3 634.2,474.9 C635.5,475.6 636.8,476.3 638.2,477.0 C639.5,477.7 640.8,478.4 642.1,479.1 C643.4,479.8 644.7,480.5 646.0,481.2 C647.4,481.9 648.7,482.6 650.0,483.3 C651.4,483.9 652.8,484.5 654.1,485.1 C655.5,485.8 656.8,486.4 658.2,487.0 C659.5,487.7 660.8,488.3 662.2,489.0 C663.5,489.7 664.8,490.4 666.1,491.1 C667.4,491.8 668.7,492.6 670.0,493.3 C671.3,494.1 672.6,494.9 673.8,495.6 C675.1,496.4 676.4,497.2 677.7,498.0 C678.9,498.8 680.2,499.6 681.4,500.4 C682.7,501.2 683.9,502.0 685.1,502.9 C686.4,503.7 687.6,504.6 688.8,505.5 C690.0,506.4 691.2,507.3 692.3,508.3 C693.5,509.2 694.6,510.2 695.7,511.2 C696.8,512.2 697.2,512.6 698.9,514.3 C700.7,516.0 704.9,520.1 706.1,521.2" fill="none" stroke="#b4ac50" stroke-opacity="0.55" stroke-width="3.0"/>
</g>
<path d="M495.5,442.5 C497.2,442.6 503.1,443.0 505.5,443.2 C507.9,443.4 508.5,443.4 509.9,443.5 C511.4,443.6 512.9,443.7 514.4,443.8 C515.9,443.9 517.3,444.0 518.8,444.0 C520.3,444.1 521.8,444.1 523.3,444.1 C524.7,444.1 526.2,444.1 527.7,444.1 C529.2,444.1 530.7,444.1 532.2,444.1 C533.6,444.1 535.1,444.1 536.6,444.1 C538.1,444.2 539.6,444.3 541.0,444.4 C542.5,444.5 544.0,444.7 545.5,444.9 C546.9,445.2 548.4,445.5 549.8,445.8 C551.3,446.1 552.7,446.5 554.1,446.9 C555.5,447.4 556.9,447.9 558.3,448.4 C559.7,448.8 561.1,449.3 562.5,449.8 C563.9,450.3 565.3,450.8 566.7,451.3 C568.1,451.8 569.5,452.3 570.9,452.8 C572.3,453.3 573.7,453.8 575.1,454.3 C576.5,454.8 577.9,455.3 579.3,455.8 C580.7,456.3 582.1,456.8 583.5,457.3 C584.9,457.8 586.3,458.3 587.7,458.8 C589.0,459.4 590.4,459.9 591.8,460.5 C593.2,461.0 594.5,461.6 595.9,462.2 C597.3,462.7 598.6,463.3 600.0,463.9 C601.4,464.5 602.7,465.0 604.1,465.6 C605.5,466.1 606.9,466.6 608.3,467.2 C609.7,467.7 611.1,468.2 612.5,468.7 C613.9,469.2 615.3,469.6 616.7,470.1 C618.1,470.6 619.5,471.0 620.9,471.5 C622.3,472.0 623.7,472.5 625.1,473.0 C626.5,473.5 627.8,474.0 629.2,474.6 C630.6,475.2 631.9,475.8 633.3,476.4 C634.6,477.1 635.9,477.8 637.2,478.5 C638.5,479.1 639.8,479.9 641.1,480.6 C642.4,481.3 643.8,482.0 645.1,482.6 C646.4,483.3 647.7,484.0 649.0,484.7 C650.4,485.3 651.7,485.9 653.1,486.5 C654.4,487.2 655.8,487.8 657.1,488.5 C658.4,489.1 659.7,489.8 661.0,490.5 C662.4,491.1 663.7,491.9 664.9,492.6 C666.2,493.3 667.5,494.1 668.8,494.8 C670.1,495.6 671.3,496.4 672.6,497.1 C673.8,497.9 675.1,498.7 676.4,499.5 C677.6,500.3 678.9,501.0 680.1,501.9 C681.4,502.7 682.6,503.5 683.8,504.3 C685.0,505.2 686.2,506.0 687.4,506.9 C688.6,507.8 689.8,508.7 690.9,509.6 C692.1,510.6 693.2,511.5 694.3,512.5 C695.4,513.5 695.8,514.0 697.5,515.6 C699.2,517.3 703.5,521.5 704.7,522.6" fill="none" stroke="#000" stroke-opacity="0.32" stroke-width="24.7" stroke-dasharray="1.1 1.1"/>
</g>
<path d="M506.1,434.0 C507.3,433.4 510.3,434.3 512.4,434.5 C514.5,434.6 516.7,434.8 518.9,434.9 C521.1,434.9 523.3,435.0 525.5,434.9 C527.7,434.9 529.8,434.8 531.9,434.8 C533.9,434.7 535.8,434.6 537.8,434.6 C539.8,434.7 541.8,434.8 543.9,435.1 C546.0,435.4 548.3,435.8 550.5,436.3 C552.8,436.8 555.1,437.4 557.3,438.1 C559.5,438.8 561.7,439.6 563.9,440.4 C566.1,441.2 568.3,442.0 570.5,442.8 C572.7,443.6 575.0,444.4 577.1,445.1 C579.3,445.9 581.5,446.6 583.5,447.4 C585.6,448.1 587.6,448.7 589.6,449.5 C591.7,450.2 593.7,450.9 595.8,451.8 C597.9,452.6 600.1,453.6 602.3,454.5 C604.5,455.4 606.7,456.3 608.9,457.2 C611.1,458.1 613.3,458.9 615.5,459.7 C617.7,460.5 619.9,461.2 622.1,462.0 C624.3,462.8 626.5,463.6 628.6,464.4 C630.7,465.3 632.6,466.2 634.7,467.2 C636.7,468.1 638.7,469.2 640.8,470.4 C642.9,471.6 645.1,472.9 647.3,474.1 C649.5,475.4 651.6,476.5 653.9,477.6 C656.2,478.7 658.5,479.6 660.9,480.7 C663.3,481.8 665.9,482.9 668.3,484.1 C670.7,485.2 673.0,486.4 675.3,487.6 C677.6,488.9 679.7,490.1 681.9,491.4 C684.1,492.7 686.3,494.2 688.5,495.6 C690.7,497.1 692.9,498.8 694.9,500.3 C696.8,501.8 698.7,503.4 700.3,504.8 C701.9,506.2 703.8,507.8 704.6,508.8 C705.4,509.8 705.3,509.8 705.1,510.7 C704.9,511.6 704.5,512.8 703.6,514.0 C702.7,515.2 701.3,516.7 699.9,517.8 C698.5,518.9 696.7,519.8 695.1,520.6 C693.5,521.4 691.8,522.8 690.4,522.5 C689.0,522.2 688.1,520.1 686.9,519.0 C685.8,517.9 684.7,517.0 683.4,516.0 C682.1,515.0 680.7,514.0 679.2,513.0 C677.7,512.0 676.1,510.8 674.5,509.8 C672.9,508.8 671.3,507.8 669.7,506.8 C668.2,505.8 666.7,504.9 665.0,503.8 C663.4,502.8 661.8,501.6 660.0,500.4 C658.1,499.2 656.0,497.8 653.9,496.6 C651.8,495.4 649.5,494.3 647.2,493.2 C645.0,492.1 642.8,491.0 640.7,490.0 C638.6,488.9 636.5,487.9 634.5,486.8 C632.5,485.8 630.6,484.8 628.5,484.0 C626.5,483.1 624.3,482.3 622.1,481.5 C620.0,480.8 617.7,480.2 615.5,479.5 C613.3,478.8 611.1,478.2 608.9,477.5 C606.7,476.7 604.5,476.0 602.2,475.1 C600.0,474.3 597.8,473.4 595.7,472.5 C593.6,471.6 591.5,470.7 589.5,469.8 C587.5,469.0 585.6,468.2 583.5,467.4 C581.5,466.5 579.3,465.8 577.1,465.0 C575.0,464.2 572.7,463.4 570.5,462.6 C568.3,461.8 566.1,461.0 563.9,460.2 C561.7,459.4 559.5,458.6 557.3,457.9 C555.1,457.1 553.0,456.3 550.9,455.7 C548.8,455.1 546.8,454.6 544.6,454.2 C542.5,453.9 540.3,453.8 538.2,453.7 C536.0,453.6 534.0,453.6 531.9,453.5 C529.8,453.4 527.7,453.4 525.5,453.4 C523.3,453.4 521.0,453.4 518.6,453.3 C516.3,453.2 513.9,453.0 511.6,452.9 C509.3,452.8 506.1,453.8 504.9,452.4 C503.7,451.0 504.4,447.2 504.5,444.8 C504.6,442.4 504.9,440.0 505.2,438.2 C505.5,436.4 504.9,434.6 506.1,434.0Z" fill="none" stroke="#1a2202" stroke-width="1" opacity="0.9"/><path d="M605.2,116.9 Q612,121.9 620.2,124.4" fill="none" stroke="#fff" stroke-width="1.3" stroke-linecap="round" opacity="0.9"/>
</svg>
</body></html>
